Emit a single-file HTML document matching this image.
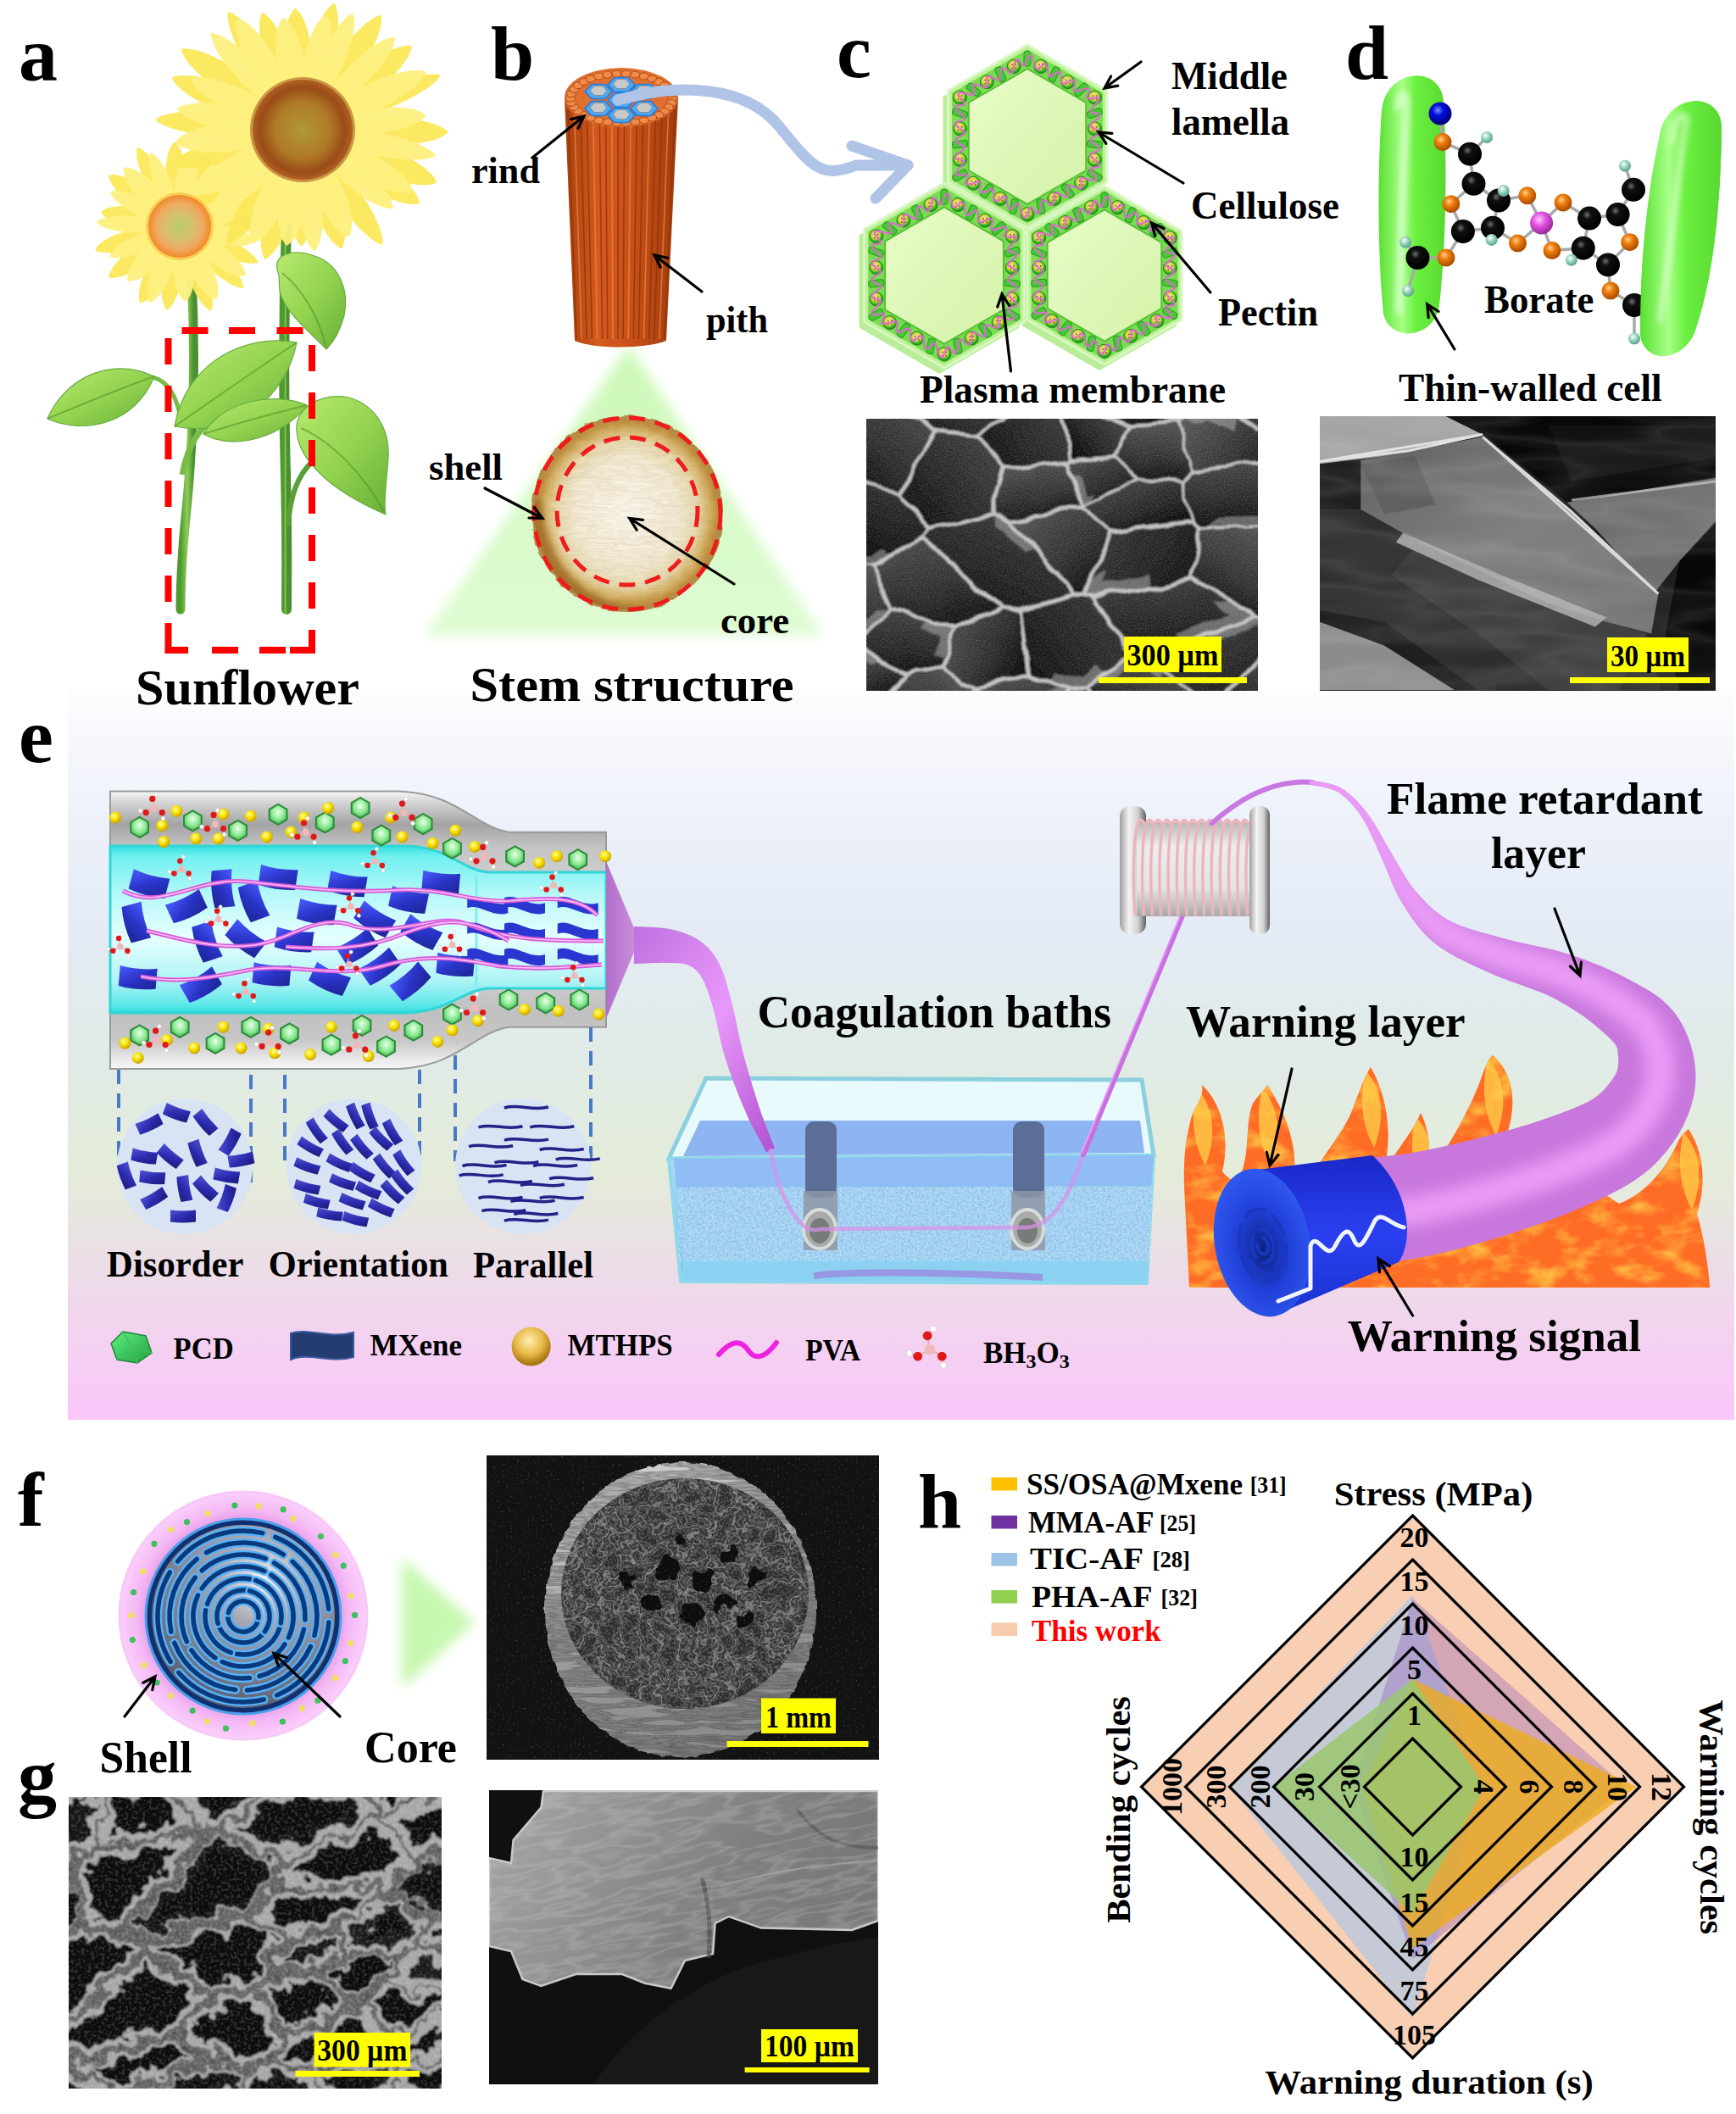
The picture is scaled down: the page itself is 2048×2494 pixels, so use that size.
<!DOCTYPE html>
<html><head><meta charset="utf-8"><title>figure</title>
<style>
html,body{margin:0;padding:0;background:#fff;}
body{width:2048px;height:2494px;overflow:hidden;font-family:"Liberation Serif", serif;}
svg{display:block;}
</style></head><body>
<svg width="2048" height="2494" viewBox="0 0 2048 2494" font-family="Liberation Serif" font-weight="bold">
<defs>
<linearGradient id="ebg" x1="0" y1="0" x2="0" y2="1">
<stop offset="0" stop-color="#fdfdfe"/>
<stop offset="0.16" stop-color="#eef2fa"/>
<stop offset="0.33" stop-color="#e4ebf5"/>
<stop offset="0.51" stop-color="#e0ebe6"/>
<stop offset="0.66" stop-color="#e4ecd9"/>
<stop offset="0.75" stop-color="#e9e2e3"/>
<stop offset="0.87" stop-color="#f2d4ee"/>
<stop offset="1" stop-color="#fbc6fb"/>
</linearGradient>
<linearGradient id="leafg" x1="0" y1="0" x2="1" y2="1"><stop offset="0" stop-color="#b8ea70"/><stop offset="0.5" stop-color="#94d450"/><stop offset="1" stop-color="#68b038"/></linearGradient>
<linearGradient id="stemg" x1="0" y1="0" x2="1" y2="0"><stop offset="0" stop-color="#4e9a30"/><stop offset="0.5" stop-color="#90cc58"/><stop offset="1" stop-color="#4a9030"/></linearGradient>
<radialGradient id="smalldisk" cx="0.5" cy="0.5" r="0.5"><stop offset="0" stop-color="#b8cc68"/><stop offset="0.45" stop-color="#d8c070"/><stop offset="0.75" stop-color="#f0a860"/><stop offset="1" stop-color="#f08a28"/></radialGradient>
<radialGradient id="bigdisk" cx="0.5" cy="0.5" r="0.5"><stop offset="0" stop-color="#b09838"/><stop offset="0.55" stop-color="#b07a28"/><stop offset="0.85" stop-color="#9a4c18"/><stop offset="1" stop-color="#b06020"/></radialGradient>
<filter id="blur6" x="-20%" y="-20%" width="140%" height="140%"><feGaussianBlur stdDeviation="7"/></filter>
<linearGradient id="trig" x1="0" y1="0" x2="0" y2="1"><stop offset="0" stop-color="#c8f8b0"/><stop offset="1" stop-color="#dcfcd0"/></linearGradient>
<linearGradient id="stemcyl" x1="0" y1="0" x2="1" y2="0"><stop offset="0" stop-color="#a8400c"/><stop offset="0.3" stop-color="#d45a1e"/><stop offset="0.6" stop-color="#c85018"/><stop offset="1" stop-color="#a03c0c"/></linearGradient>
<filter id="discrough" x="-10%" y="-10%" width="120%" height="120%"><feTurbulence type="fractalNoise" baseFrequency="0.08" numOctaves="2" seed="6" result="t"/><feDisplacementMap in="SourceGraphic" in2="t" scale="6" xChannelSelector="R" yChannelSelector="G"/></filter>
<radialGradient id="discg" cx="0.5" cy="0.5" r="0.5"><stop offset="0" stop-color="#fbf8ee"/><stop offset="0.55" stop-color="#f2ead4"/><stop offset="0.74" stop-color="#e8dab0"/><stop offset="0.84" stop-color="#d8b870"/><stop offset="0.93" stop-color="#c09040"/><stop offset="1" stop-color="#b08848"/></radialGradient>
<clipPath id="discclip"><ellipse cx="740" cy="606" rx="110" ry="113"/></clipPath>
<filter id="sf1" filterUnits="userSpaceOnUse" x="625" y="488" width="230" height="236" color-interpolation-filters="sRGB">
<feTurbulence type="fractalNoise" baseFrequency="0.02 0.12" numOctaves="3" seed="19"/>
<feColorMatrix type="matrix" values="0 0 0 0 0  0 0 0 0 0  0 0 0 0 0  1 0 0 0 0"/>
<feComponentTransfer result="m"><feFuncA type="table" tableValues="0.000 0.000 0.000 0.000 0.000 0.000 0.183 0.150 0.000 0.210 0.257 0.000 0.000 0.000 0.000 0.000 0.000"/></feComponentTransfer>
<feFlood flood-color="#b08a50"/>
<feComposite in2="m" operator="in"/>
</filter>
<linearGradient id="cellin" x1="0" y1="0" x2="1" y2="1"><stop offset="0" stop-color="#e8fcc8"/><stop offset="1" stop-color="#d4f2a8"/></linearGradient>
<radialGradient id="cylend" cx="0.45" cy="0.4" r="0.6"><stop offset="0" stop-color="#fff8a0"/><stop offset="0.55" stop-color="#d8c840"/><stop offset="0.7" stop-color="#40c030"/><stop offset="1" stop-color="#1e8a18"/></radialGradient>
<filter id="blur3" x="-50%" y="-20%" width="200%" height="140%"><feGaussianBlur stdDeviation="3"/></filter>
<linearGradient id="capg" x1="0" y1="0" x2="1" y2="0"><stop offset="0" stop-color="#58e030"/><stop offset="0.35" stop-color="#a8ff88"/><stop offset="0.55" stop-color="#6cf040"/><stop offset="1" stop-color="#58d830"/></linearGradient>
<radialGradient id="atC" cx="0.4" cy="0.35" r="0.6"><stop offset="0" stop-color="#707070"/><stop offset="0.3" stop-color="#101010"/><stop offset="1" stop-color="#000"/></radialGradient>
<radialGradient id="atO" cx="0.4" cy="0.35" r="0.6"><stop offset="0" stop-color="#ffd090"/><stop offset="0.4" stop-color="#f08010"/><stop offset="1" stop-color="#b05000"/></radialGradient>
<radialGradient id="atH" cx="0.4" cy="0.35" r="0.6"><stop offset="0" stop-color="#ffffff"/><stop offset="0.5" stop-color="#98d8c0"/><stop offset="1" stop-color="#60a890"/></radialGradient>
<radialGradient id="atB" cx="0.4" cy="0.35" r="0.6"><stop offset="0" stop-color="#ffc8ff"/><stop offset="0.5" stop-color="#e050e0"/><stop offset="1" stop-color="#a030a0"/></radialGradient>
<radialGradient id="atN" cx="0.4" cy="0.35" r="0.6"><stop offset="0" stop-color="#8090ff"/><stop offset="0.4" stop-color="#0010e0"/><stop offset="1" stop-color="#000080"/></radialGradient>
<linearGradient id="tubeg" x1="0" y1="0" x2="0" y2="1">
<stop offset="0" stop-color="#f6f6f6"/><stop offset="0.04" stop-color="#d4d4d4"/><stop offset="0.12" stop-color="#a4a4a4"/>
<stop offset="0.2" stop-color="#c4c4c4"/><stop offset="0.5" stop-color="#e0e0e0"/><stop offset="0.8" stop-color="#c0c0c0"/>
<stop offset="0.9" stop-color="#c8c8c8"/><stop offset="0.97" stop-color="#ececec"/><stop offset="1" stop-color="#f6f6f6"/></linearGradient>
<linearGradient id="cyang" x1="0" y1="0" x2="0" y2="1">
<stop offset="0" stop-color="#30dede"/><stop offset="0.06" stop-color="#6ff0f0"/><stop offset="0.3" stop-color="#b8f8f8"/>
<stop offset="0.55" stop-color="#e6ffff"/><stop offset="0.8" stop-color="#b0f4f6"/><stop offset="0.95" stop-color="#60e8ea"/><stop offset="1" stop-color="#30dcdc"/></linearGradient>
<linearGradient id="coneg" x1="0" y1="0" x2="1" y2="0"><stop offset="0" stop-color="#b070c8"/><stop offset="1" stop-color="#d090e0"/></linearGradient>
<radialGradient id="ballg" cx="0.4" cy="0.35" r="0.65"><stop offset="0" stop-color="#ffffa0"/><stop offset="0.5" stop-color="#f8e000"/><stop offset="1" stop-color="#c8a000"/></radialGradient>
<radialGradient id="hexg" cx="0.5" cy="0.4" r="0.6"><stop offset="0" stop-color="#e8ffe8"/><stop offset="0.6" stop-color="#88e890"/><stop offset="1" stop-color="#40b050"/></radialGradient>
<linearGradient id="flakeg" x1="0" y1="0" x2="1" y2="1"><stop offset="0" stop-color="#4a5cff"/><stop offset="0.5" stop-color="#2a34c8"/><stop offset="1" stop-color="#1c2490"/></linearGradient>
<linearGradient id="flakeg2" x1="0" y1="0" x2="1" y2="1"><stop offset="0" stop-color="#5050d0"/><stop offset="0.5" stop-color="#2c2cb0"/><stop offset="1" stop-color="#1a1a78"/></linearGradient>
<linearGradient id="fibg1" x1="0" y1="0" x2="1" y2="1"><stop offset="0" stop-color="#c070e0"/><stop offset="0.5" stop-color="#e898fa"/><stop offset="1" stop-color="#b050d0"/></linearGradient>
<linearGradient id="pcdg" x1="0" y1="0" x2="1" y2="1"><stop offset="0" stop-color="#60f080"/><stop offset="1" stop-color="#20a040"/></linearGradient>
<radialGradient id="mthg" cx="0.45" cy="0.35" r="0.6"><stop offset="0" stop-color="#fff0b0"/><stop offset="0.6" stop-color="#e8b848"/><stop offset="1" stop-color="#a87810"/></radialGradient>
<linearGradient id="bathg" x1="0" y1="0" x2="0" y2="1"><stop offset="0" stop-color="#a8dcf4"/><stop offset="1" stop-color="#78c0ec"/></linearGradient>
<filter id="sf2" filterUnits="userSpaceOnUse" x="800" y="1400" width="560" height="88" color-interpolation-filters="sRGB">
<feTurbulence type="fractalNoise" baseFrequency="0.45" numOctaves="1" seed="61"/>
<feColorMatrix type="matrix" values="0 0 0 0 0  0 0 0 0 0  0 0 0 0 0  1 0 0 0 0"/>
<feComponentTransfer result="m"><feFuncA type="table" tableValues="0.000 0.000 0.000 0.000 0.280 0.630 0.420 0.000 0.000"/></feComponentTransfer>
<feFlood flood-color="#ffffff"/>
<feComposite in2="m" operator="in"/>
</filter>
<filter id="sf3" filterUnits="userSpaceOnUse" x="800" y="1400" width="560" height="88" color-interpolation-filters="sRGB">
<feTurbulence type="fractalNoise" baseFrequency="0.3" numOctaves="1" seed="62"/>
<feColorMatrix type="matrix" values="0 0 0 0 0  0 0 0 0 0  0 0 0 0 0  1 0 0 0 0"/>
<feComponentTransfer result="m"><feFuncA type="table" tableValues="0.000 0.000 0.293 0.240 0.000 0.000 0.000 0.000 0.000"/></feComponentTransfer>
<feFlood flood-color="#6a80d0"/>
<feComposite in2="m" operator="in"/>
</filter>
<linearGradient id="flangeg" x1="0" y1="0" x2="1" y2="0"><stop offset="0" stop-color="#a0a0a0"/><stop offset="0.35" stop-color="#f4f4f4"/><stop offset="0.7" stop-color="#d0d0d0"/><stop offset="1" stop-color="#606060"/></linearGradient>
<linearGradient id="coreg" x1="0" y1="0" x2="0" y2="1"><stop offset="0" stop-color="#b8b8b8"/><stop offset="0.25" stop-color="#ececec"/><stop offset="0.7" stop-color="#e4e4e4"/><stop offset="1" stop-color="#a8a8a8"/></linearGradient>
<clipPath id="flameclip"><path d="M1403,1519 L1397,1400 C1396,1360 1400,1340 1405,1320 C1412,1300 1420,1295 1418,1280 C1440,1300 1452,1340 1442,1382 C1450,1392 1458,1395 1462,1390 C1476,1360 1468,1325 1478,1302 C1486,1290 1492,1286 1495,1280 C1515,1310 1532,1350 1526,1390 C1532,1398 1538,1400 1545,1395 C1560,1360 1588,1335 1598,1302 C1606,1282 1610,1270 1617,1259 C1636,1292 1644,1340 1632,1382 C1652,1352 1668,1332 1676,1313 C1686,1332 1690,1362 1682,1388 C1712,1352 1736,1302 1746,1276 C1752,1258 1756,1250 1761,1245 C1792,1272 1792,1322 1762,1372 L1810,1395 C1850,1380 1880,1400 1910,1420 C1950,1405 1972,1365 1980,1346 C1985,1338 1988,1335 1992,1332 C2012,1362 2012,1400 2002,1432 C2010,1460 2015,1490 2017,1519 Z"/></clipPath>
<filter id="flamef" filterUnits="userSpaceOnUse" x="1390" y="1240" width="640" height="285" color-interpolation-filters="sRGB">
<feTurbulence type="fractalNoise" baseFrequency="0.025 0.045" numOctaves="4" seed="9"/>
<feColorMatrix type="matrix" values="0 0 0 0 1  0 0 0 0 0.72  0 0 0 0 0.25  3.0 0 0 0 -1.4"/>
</filter>
<linearGradient id="bigfg" x1="0" y1="0" x2="1" y2="1"><stop offset="0" stop-color="#c070d8"/><stop offset="0.5" stop-color="#e898f4"/><stop offset="1" stop-color="#b868d0"/></linearGradient>
<clipPath id="bigfclip"><path d="M1544.5,925.5 L1547.3,926.0 L1551.0,926.7 L1555.4,927.4 L1560.1,928.3 L1565.1,929.4 L1569.9,930.8 L1574.5,932.5 L1578.5,934.6 L1582.2,937.1 L1585.9,940.1 L1589.6,943.3 L1593.2,946.9 L1596.7,950.8 L1600.1,955.1 L1603.5,959.6 L1606.7,964.3 L1609.9,969.4 L1612.9,975.0 L1615.8,980.9 L1618.7,987.2 L1621.6,993.6 L1624.5,1000.1 L1627.4,1006.7 L1630.2,1013.0 L1633.0,1019.2 L1635.6,1025.4 L1638.1,1031.7 L1640.7,1038.1 L1643.4,1044.6 L1646.4,1051.1 L1649.8,1057.7 L1653.4,1064.1 L1657.3,1070.3 L1661.2,1076.5 L1665.3,1082.7 L1669.8,1089.0 L1674.8,1095.3 L1680.2,1101.5 L1686.3,1107.5 L1693.1,1113.3 L1700.6,1118.7 L1708.5,1123.8 L1716.7,1128.4 L1725.2,1132.8 L1733.7,1136.9 L1742.3,1140.9 L1750.9,1144.8 L1759.6,1148.7 L1769.0,1152.7 L1778.8,1156.5 L1788.7,1160.0 L1798.4,1163.5 L1807.8,1166.9 L1816.8,1170.3 L1825.1,1173.8 L1832.7,1177.5 L1840.1,1181.5 L1847.6,1185.8 L1854.8,1190.2 L1861.8,1194.7 L1868.5,1199.3 L1874.7,1203.9 L1880.5,1208.5 L1886.0,1213.2 L1891.5,1218.0 L1896.6,1222.6 L1900.9,1226.8 L1904.2,1230.5 L1906.5,1233.8 L1907.8,1236.4 L1908.3,1238.5 L1908.4,1240.5 L1908.7,1243.5 L1909.1,1247.4 L1909.3,1251.6 L1909.1,1255.9 L1908.6,1259.9 L1907.8,1263.3 L1906.7,1266.0 L1905.5,1268.0 L1904.0,1270.4 L1901.8,1273.7 L1899.1,1277.5 L1896.0,1281.5 L1892.4,1285.5 L1888.5,1289.3 L1884.5,1292.8 L1880.7,1295.6 L1876.8,1298.0 L1872.1,1300.5 L1866.2,1303.3 L1859.3,1306.3 L1851.4,1309.4 L1842.7,1312.7 L1833.3,1316.2 L1823.9,1319.6 L1814.8,1322.8 L1805.5,1325.8 L1795.6,1328.7 L1785.4,1331.7 L1774.9,1334.6 L1764.4,1337.4 L1753.8,1340.2 L1743.5,1342.8 L1733.5,1345.4 L1723.5,1347.8 L1713.4,1350.2 L1703.5,1352.4 L1693.8,1354.5 L1684.5,1356.5 L1675.7,1358.2 L1667.7,1359.7 L1660.6,1360.9 L1653.5,1361.9 L1646.5,1362.8 L1639.6,1363.6 L1633.0,1364.3 L1627.0,1364.9 L1621.4,1365.5 L1616.9,1366.0 L1633.1,1490.0 L1636.8,1489.4 L1641.6,1488.8 L1648.0,1487.9 L1655.4,1486.9 L1663.8,1485.6 L1672.9,1484.1 L1682.5,1482.3 L1692.3,1480.3 L1701.9,1478.0 L1711.8,1475.6 L1722.1,1472.9 L1732.7,1470.1 L1743.6,1467.1 L1754.6,1463.9 L1765.7,1460.6 L1776.5,1457.2 L1787.2,1453.7 L1798.1,1450.1 L1809.4,1446.3 L1820.9,1442.3 L1832.4,1438.1 L1843.9,1433.7 L1855.3,1429.1 L1866.1,1424.4 L1876.1,1419.9 L1886.0,1415.4 L1896.2,1410.5 L1906.7,1405.2 L1917.4,1399.4 L1928.2,1392.7 L1939.0,1385.1 L1949.3,1376.4 L1958.5,1367.1 L1966.7,1357.6 L1974.1,1347.6 L1980.7,1337.3 L1986.5,1326.6 L1991.4,1315.5 L1995.4,1304.1 L1998.5,1292.0 L2000.2,1279.4 L2000.5,1266.9 L1999.5,1255.1 L1997.5,1243.8 L1994.7,1233.0 L1991.1,1222.8 L1986.8,1213.0 L1981.6,1203.5 L1975.2,1194.2 L1967.9,1185.9 L1960.3,1179.1 L1952.7,1173.4 L1945.2,1168.5 L1938.0,1164.4 L1931.0,1160.6 L1924.0,1156.8 L1916.3,1152.7 L1908.0,1148.6 L1899.5,1144.5 L1890.7,1140.6 L1881.6,1136.9 L1872.4,1133.3 L1863.0,1129.8 L1853.3,1126.5 L1843.1,1123.4 L1832.7,1120.6 L1822.2,1118.2 L1812.0,1115.9 L1801.9,1113.8 L1792.3,1111.7 L1783.1,1109.6 L1774.4,1107.3 L1765.4,1104.8 L1756.4,1102.3 L1747.7,1099.9 L1739.3,1097.5 L1731.4,1095.0 L1724.0,1092.4 L1717.1,1089.6 L1710.9,1086.7 L1705.1,1083.4 L1699.6,1079.8 L1694.3,1075.8 L1689.3,1071.5 L1684.4,1066.9 L1679.7,1062.0 L1675.1,1057.0 L1670.6,1051.9 L1666.4,1046.9 L1662.6,1041.7 L1659.0,1036.3 L1655.6,1030.7 L1652.2,1024.8 L1648.8,1018.9 L1645.3,1012.9 L1641.8,1007.0 L1638.2,1001.1 L1634.7,995.0 L1631.2,988.8 L1627.8,982.6 L1624.2,976.4 L1620.7,970.5 L1617.0,964.9 L1613.3,959.7 L1609.5,954.9 L1605.7,950.4 L1601.9,946.2 L1598.0,942.2 L1594.0,938.5 L1589.9,935.1 L1585.8,932.1 L1581.5,929.4 L1576.8,927.1 L1571.6,925.4 L1566.3,924.0 L1561.1,923.0 L1556.2,922.2 L1551.8,921.6 L1548.2,921.1 L1545.5,920.5 Z"/></clipPath>
<filter id="blur8" x="-20%" y="-20%" width="140%" height="140%"><feGaussianBlur stdDeviation="9"/></filter>
<linearGradient id="cylg" x1="0" y1="0" x2="0" y2="1"><stop offset="0" stop-color="#1a28c8"/><stop offset="0.5" stop-color="#2a40f0"/><stop offset="1" stop-color="#1a30d0"/></linearGradient>
<radialGradient id="cylface" cx="0.5" cy="0.55" r="0.55"><stop offset="0" stop-color="#102080"/><stop offset="0.5" stop-color="#2040d8"/><stop offset="1" stop-color="#3058f0"/></radialGradient>
<radialGradient id="shellg" cx="0.5" cy="0.5" r="0.5"><stop offset="0.78" stop-color="#e8a0e8"/><stop offset="0.86" stop-color="#f4b8f4"/><stop offset="1" stop-color="#fcd0fc"/></radialGradient>
<radialGradient id="coreg2" cx="0.55" cy="0.4" r="0.6"><stop offset="0" stop-color="#e0e0e8"/><stop offset="0.5" stop-color="#a0a0b0"/><stop offset="1" stop-color="#404858"/></radialGradient>
<radialGradient id="silverg" cx="0.6" cy="0.3" r="0.7"><stop offset="0" stop-color="#f0f0f4"/><stop offset="0.35" stop-color="#a8a8b4"/><stop offset="1" stop-color="#5a6070"/></radialGradient>
<clipPath id="semc"><rect x="1022" y="494" width="462" height="321"/></clipPath>
<filter id="dispc" filterUnits="userSpaceOnUse" x="1000" y="470" width="510" height="370">
<feTurbulence type="fractalNoise" baseFrequency="0.025" numOctaves="2" seed="4" result="t"/>
<feDisplacementMap in="SourceGraphic" in2="t" scale="16" xChannelSelector="R" yChannelSelector="G"/><feGaussianBlur stdDeviation="0.9"/></filter>
<filter id="soft1" x="-5%" y="-5%" width="110%" height="110%"><feGaussianBlur stdDeviation="1.5"/></filter>
<linearGradient id="cg0" x1="0.20" y1="0.10" x2="0.80" y2="0.90"><stop offset="0" stop-color="rgb(58,58,58)"/><stop offset="0.6" stop-color="rgb(35,35,35)"/><stop offset="1" stop-color="rgb(12,12,12)"/></linearGradient>
<linearGradient id="cg1" x1="0.34" y1="0.03" x2="0.66" y2="0.97"><stop offset="0" stop-color="rgb(80,80,80)"/><stop offset="0.6" stop-color="rgb(46,46,46)"/><stop offset="1" stop-color="rgb(13,13,13)"/></linearGradient>
<linearGradient id="cg2" x1="0.65" y1="0.02" x2="0.35" y2="0.98"><stop offset="0" stop-color="rgb(50,50,50)"/><stop offset="0.6" stop-color="rgb(27,27,27)"/><stop offset="1" stop-color="rgb(5,5,5)"/></linearGradient>
<linearGradient id="cg3" x1="0.92" y1="0.23" x2="0.08" y2="0.77"><stop offset="0" stop-color="rgb(66,66,66)"/><stop offset="0.6" stop-color="rgb(38,38,38)"/><stop offset="1" stop-color="rgb(11,11,11)"/></linearGradient>
<linearGradient id="cg4" x1="0.56" y1="0.00" x2="0.44" y2="1.00"><stop offset="0" stop-color="rgb(80,80,80)"/><stop offset="0.6" stop-color="rgb(43,43,43)"/><stop offset="1" stop-color="rgb(7,7,7)"/></linearGradient>
<linearGradient id="cg5" x1="0.55" y1="0.00" x2="0.45" y2="1.00"><stop offset="0" stop-color="rgb(80,80,80)"/><stop offset="0.6" stop-color="rgb(46,46,46)"/><stop offset="1" stop-color="rgb(12,12,12)"/></linearGradient>
<linearGradient id="cg6" x1="0.38" y1="0.02" x2="0.62" y2="0.98"><stop offset="0" stop-color="rgb(64,64,64)"/><stop offset="0.6" stop-color="rgb(35,35,35)"/><stop offset="1" stop-color="rgb(6,6,6)"/></linearGradient>
<linearGradient id="cg7" x1="0.66" y1="0.03" x2="0.34" y2="0.97"><stop offset="0" stop-color="rgb(74,74,74)"/><stop offset="0.6" stop-color="rgb(43,43,43)"/><stop offset="1" stop-color="rgb(12,12,12)"/></linearGradient>
<linearGradient id="cg8" x1="0.78" y1="0.08" x2="0.22" y2="0.92"><stop offset="0" stop-color="rgb(54,54,54)"/><stop offset="0.6" stop-color="rgb(34,34,34)"/><stop offset="1" stop-color="rgb(14,14,14)"/></linearGradient>
<linearGradient id="cg9" x1="0.13" y1="0.16" x2="0.87" y2="0.84"><stop offset="0" stop-color="rgb(52,52,52)"/><stop offset="0.6" stop-color="rgb(32,32,32)"/><stop offset="1" stop-color="rgb(13,13,13)"/></linearGradient>
<linearGradient id="cg10" x1="0.27" y1="0.06" x2="0.73" y2="0.94"><stop offset="0" stop-color="rgb(67,67,67)"/><stop offset="0.6" stop-color="rgb(35,35,35)"/><stop offset="1" stop-color="rgb(4,4,4)"/></linearGradient>
<linearGradient id="cg11" x1="0.47" y1="0.00" x2="0.53" y2="1.00"><stop offset="0" stop-color="rgb(74,74,74)"/><stop offset="0.6" stop-color="rgb(44,44,44)"/><stop offset="1" stop-color="rgb(15,15,15)"/></linearGradient>
<linearGradient id="cg12" x1="0.75" y1="0.07" x2="0.25" y2="0.93"><stop offset="0" stop-color="rgb(75,75,75)"/><stop offset="0.6" stop-color="rgb(42,42,42)"/><stop offset="1" stop-color="rgb(10,10,10)"/></linearGradient>
<linearGradient id="cg13" x1="0.76" y1="0.08" x2="0.24" y2="0.92"><stop offset="0" stop-color="rgb(78,78,78)"/><stop offset="0.6" stop-color="rgb(45,45,45)"/><stop offset="1" stop-color="rgb(13,13,13)"/></linearGradient>
<linearGradient id="cg14" x1="0.95" y1="0.29" x2="0.05" y2="0.71"><stop offset="0" stop-color="rgb(73,73,73)"/><stop offset="0.6" stop-color="rgb(39,39,39)"/><stop offset="1" stop-color="rgb(6,6,6)"/></linearGradient>
<linearGradient id="cg15" x1="0.08" y1="0.22" x2="0.92" y2="0.78"><stop offset="0" stop-color="rgb(81,81,81)"/><stop offset="0.6" stop-color="rgb(43,43,43)"/><stop offset="1" stop-color="rgb(6,6,6)"/></linearGradient>
<linearGradient id="cg16" x1="0.18" y1="0.11" x2="0.82" y2="0.89"><stop offset="0" stop-color="rgb(77,77,77)"/><stop offset="0.6" stop-color="rgb(45,45,45)"/><stop offset="1" stop-color="rgb(14,14,14)"/></linearGradient>
<linearGradient id="cg17" x1="0.82" y1="0.11" x2="0.18" y2="0.89"><stop offset="0" stop-color="rgb(76,76,76)"/><stop offset="0.6" stop-color="rgb(42,42,42)"/><stop offset="1" stop-color="rgb(8,8,8)"/></linearGradient>
<linearGradient id="cg18" x1="0.51" y1="0.00" x2="0.49" y2="1.00"><stop offset="0" stop-color="rgb(72,72,72)"/><stop offset="0.6" stop-color="rgb(41,41,41)"/><stop offset="1" stop-color="rgb(10,10,10)"/></linearGradient>
<linearGradient id="cg19" x1="0.54" y1="0.00" x2="0.46" y2="1.00"><stop offset="0" stop-color="rgb(64,64,64)"/><stop offset="0.6" stop-color="rgb(37,37,37)"/><stop offset="1" stop-color="rgb(10,10,10)"/></linearGradient>
<linearGradient id="cg20" x1="0.92" y1="0.22" x2="0.08" y2="0.78"><stop offset="0" stop-color="rgb(51,51,51)"/><stop offset="0.6" stop-color="rgb(32,32,32)"/><stop offset="1" stop-color="rgb(14,14,14)"/></linearGradient>
<linearGradient id="cg21" x1="0.88" y1="0.18" x2="0.12" y2="0.82"><stop offset="0" stop-color="rgb(60,60,60)"/><stop offset="0.6" stop-color="rgb(36,36,36)"/><stop offset="1" stop-color="rgb(13,13,13)"/></linearGradient>
<linearGradient id="cg22" x1="0.73" y1="0.06" x2="0.27" y2="0.94"><stop offset="0" stop-color="rgb(84,84,84)"/><stop offset="0.6" stop-color="rgb(46,46,46)"/><stop offset="1" stop-color="rgb(9,9,9)"/></linearGradient>
<linearGradient id="cg23" x1="0.92" y1="0.23" x2="0.08" y2="0.77"><stop offset="0" stop-color="rgb(56,56,56)"/><stop offset="0.6" stop-color="rgb(34,34,34)"/><stop offset="1" stop-color="rgb(13,13,13)"/></linearGradient>
<linearGradient id="cg24" x1="0.75" y1="0.07" x2="0.25" y2="0.93"><stop offset="0" stop-color="rgb(67,67,67)"/><stop offset="0.6" stop-color="rgb(37,37,37)"/><stop offset="1" stop-color="rgb(7,7,7)"/></linearGradient>
<linearGradient id="cg25" x1="0.25" y1="0.07" x2="0.75" y2="0.93"><stop offset="0" stop-color="rgb(80,80,80)"/><stop offset="0.6" stop-color="rgb(42,42,42)"/><stop offset="1" stop-color="rgb(5,5,5)"/></linearGradient>
<linearGradient id="cg26" x1="0.88" y1="0.18" x2="0.12" y2="0.82"><stop offset="0" stop-color="rgb(55,55,55)"/><stop offset="0.6" stop-color="rgb(33,33,33)"/><stop offset="1" stop-color="rgb(11,11,11)"/></linearGradient>
<linearGradient id="cg27" x1="0.31" y1="0.04" x2="0.69" y2="0.96"><stop offset="0" stop-color="rgb(76,76,76)"/><stop offset="0.6" stop-color="rgb(40,40,40)"/><stop offset="1" stop-color="rgb(5,5,5)"/></linearGradient>
<linearGradient id="cg28" x1="0.91" y1="0.22" x2="0.09" y2="0.78"><stop offset="0" stop-color="rgb(68,68,68)"/><stop offset="0.6" stop-color="rgb(36,36,36)"/><stop offset="1" stop-color="rgb(4,4,4)"/></linearGradient>
<linearGradient id="cg29" x1="0.41" y1="0.01" x2="0.59" y2="0.99"><stop offset="0" stop-color="rgb(57,57,57)"/><stop offset="0.6" stop-color="rgb(33,33,33)"/><stop offset="1" stop-color="rgb(10,10,10)"/></linearGradient>
<linearGradient id="cg30" x1="0.05" y1="0.28" x2="0.95" y2="0.72"><stop offset="0" stop-color="rgb(52,52,52)"/><stop offset="0.6" stop-color="rgb(32,32,32)"/><stop offset="1" stop-color="rgb(13,13,13)"/></linearGradient>
<linearGradient id="cg31" x1="0.35" y1="0.02" x2="0.65" y2="0.98"><stop offset="0" stop-color="rgb(71,71,71)"/><stop offset="0.6" stop-color="rgb(42,42,42)"/><stop offset="1" stop-color="rgb(13,13,13)"/></linearGradient>
<linearGradient id="cg32" x1="0.56" y1="0.00" x2="0.44" y2="1.00"><stop offset="0" stop-color="rgb(82,82,82)"/><stop offset="0.6" stop-color="rgb(45,45,45)"/><stop offset="1" stop-color="rgb(8,8,8)"/></linearGradient>
<linearGradient id="cg33" x1="0.20" y1="0.10" x2="0.80" y2="0.90"><stop offset="0" stop-color="rgb(69,69,69)"/><stop offset="0.6" stop-color="rgb(36,36,36)"/><stop offset="1" stop-color="rgb(4,4,4)"/></linearGradient>
<linearGradient id="cg34" x1="0.03" y1="0.32" x2="0.97" y2="0.68"><stop offset="0" stop-color="rgb(84,84,84)"/><stop offset="0.6" stop-color="rgb(44,44,44)"/><stop offset="1" stop-color="rgb(5,5,5)"/></linearGradient>
<linearGradient id="cg35" x1="0.04" y1="0.29" x2="0.96" y2="0.71"><stop offset="0" stop-color="rgb(76,76,76)"/><stop offset="0.6" stop-color="rgb(41,41,41)"/><stop offset="1" stop-color="rgb(7,7,7)"/></linearGradient>
<filter id="sf4" filterUnits="userSpaceOnUse" x="1022" y="494" width="462" height="321" color-interpolation-filters="sRGB">
<feTurbulence type="fractalNoise" baseFrequency="0.7" numOctaves="1" seed="5"/>
<feColorMatrix type="matrix" values="0 0 0 0 0  0 0 0 0 0  0 0 0 0 0  1 0 0 0 0"/>
<feComponentTransfer result="m"><feFuncA type="table" tableValues="0.000 0.000 0.000 0.000 0.047 0.111 0.145 0.081 0.000"/></feComponentTransfer>
<feFlood flood-color="#ffffff"/>
<feComposite in2="m" operator="in"/>
</filter>
<clipPath id="semd"><rect x="1557" y="491" width="467" height="324"/></clipPath>
<linearGradient id="plateg" x1="0" y1="0" x2="1" y2="1"><stop offset="0" stop-color="#606060"/><stop offset="0.5" stop-color="#808080"/><stop offset="1" stop-color="#727272"/></linearGradient>
<filter id="sf5" filterUnits="userSpaceOnUse" x="1557" y="491" width="467" height="324" color-interpolation-filters="sRGB">
<feTurbulence type="fractalNoise" baseFrequency="0.004 0.02" numOctaves="3" seed="21"/>
<feColorMatrix type="matrix" values="0 0 0 0 0  0 0 0 0 0  0 0 0 0 0  1 0 0 0 0"/>
<feComponentTransfer result="m"><feFuncA type="table" tableValues="0.000 0.000 0.000 0.000 0.000 0.000 0.020 0.060 0.100 0.060 0.044 0.036 0.000 0.000 0.000 0.000 0.000"/></feComponentTransfer>
<feFlood flood-color="#ffffff"/>
<feComposite in2="m" operator="in"/>
</filter>
<clipPath id="semf"><rect x="574" y="1717" width="463" height="359"/></clipPath>
<linearGradient id="fsideg" x1="0.2" y1="0" x2="0.6" y2="1"><stop offset="0" stop-color="#d8d8d8"/><stop offset="0.5" stop-color="#9c9c9c"/><stop offset="1" stop-color="#888"/></linearGradient>
<clipPath id="fout"><ellipse cx="803" cy="1899" rx="160" ry="174"/></clipPath>
<clipPath id="ftop"><ellipse cx="808" cy="1880" rx="146" ry="136"/></clipPath>
<filter id="sf6" filterUnits="userSpaceOnUse" x="630" y="1720" width="340" height="360" color-interpolation-filters="sRGB">
<feTurbulence type="fractalNoise" baseFrequency="0.01 0.08" numOctaves="3" seed="35"/>
<feColorMatrix type="matrix" values="0 0 0 0 0  0 0 0 0 0  0 0 0 0 0  1 0 0 0 0"/>
<feComponentTransfer result="m"><feFuncA type="table" tableValues="0.000 0.000 0.000 0.000 0.000 0.000 0.473 0.193 0.500 0.193 0.473 0.000 0.000 0.000 0.000 0.000 0.000"/></feComponentTransfer>
<feFlood flood-color="#404040"/>
<feComposite in2="m" operator="in"/>
</filter>
<filter id="sf7" filterUnits="userSpaceOnUse" x="655" y="1740" width="310" height="285" color-interpolation-filters="sRGB">
<feTurbulence type="fractalNoise" baseFrequency="0.045" numOctaves="3" seed="31"/>
<feColorMatrix type="matrix" values="0 0 0 0 0  0 0 0 0 0  0 0 0 0 0  1 0 0 0 0"/>
<feComponentTransfer result="m"><feFuncA type="table" tableValues="0.000 0.000 0.000 0.000 0.000 0.000 0.000 0.000 0.000 0.000 0.000 0.000 0.313 0.154 0.000 0.200 0.600 0.200 0.000 0.176 0.357 0.000 0.000 0.000 0.000 0.000 0.000 0.000 0.000 0.000 0.000 0.000 0.000"/></feComponentTransfer>
<feFlood flood-color="#b8b8b8"/>
<feComposite in2="m" operator="in"/>
</filter>
<filter id="sf8" filterUnits="userSpaceOnUse" x="655" y="1740" width="310" height="285" color-interpolation-filters="sRGB">
<feTurbulence type="fractalNoise" baseFrequency="0.35" numOctaves="2" seed="37"/>
<feColorMatrix type="matrix" values="0 0 0 0 0  0 0 0 0 0  0 0 0 0 0  1 0 0 0 0"/>
<feComponentTransfer result="m"><feFuncA type="table" tableValues="0.000 0.000 0.000 0.000 0.000 0.330 0.403 0.000 0.000"/></feComponentTransfer>
<feFlood flood-color="#d0d0d0"/>
<feComposite in2="m" operator="in"/>
</filter>
<filter id="dispf" filterUnits="userSpaceOnUse" x="700" y="1780" width="250" height="200">
<feTurbulence type="fractalNoise" baseFrequency="0.06" numOctaves="2" seed="3" result="t"/>
<feDisplacementMap in="SourceGraphic" in2="t" scale="22" xChannelSelector="R" yChannelSelector="G"/></filter>
<filter id="sf9" filterUnits="userSpaceOnUse" x="574" y="1717" width="463" height="359" color-interpolation-filters="sRGB">
<feTurbulence type="fractalNoise" baseFrequency="0.4" numOctaves="1" seed="33"/>
<feColorMatrix type="matrix" values="0 0 0 0 0  0 0 0 0 0  0 0 0 0 0  1 0 0 0 0"/>
<feComponentTransfer result="m"><feFuncA type="table" tableValues="0.000 0.000 0.000 0.000 0.000 0.000 0.257 0.210 0.000"/></feComponentTransfer>
<feFlood flood-color="#ffffff"/>
<feComposite in2="m" operator="in"/>
</filter>
<clipPath id="semgl"><rect x="81" y="2120" width="440" height="344"/></clipPath>
<filter id="sf10" filterUnits="userSpaceOnUse" x="81" y="2120" width="440" height="344" color-interpolation-filters="sRGB">
<feTurbulence type="fractalNoise" baseFrequency="0.08" numOctaves="3" seed="43"/>
<feColorMatrix type="matrix" values="1 0 0 0 0  1 0 0 0 0  1 0 0 0 0  0 0 0 0 1"/>
<feComponentTransfer><feFuncR type="table" tableValues="0.268 0.303 0.338 0.374 0.409 0.444 0.479 0.515 0.550 0.515 0.479 0.444 0.409 0.374 0.338 0.303 0.268"/><feFuncG type="table" tableValues="0.268 0.303 0.338 0.374 0.409 0.444 0.479 0.515 0.550 0.515 0.479 0.444 0.409 0.374 0.338 0.303 0.268"/><feFuncB type="table" tableValues="0.268 0.303 0.338 0.374 0.409 0.444 0.479 0.515 0.550 0.515 0.479 0.444 0.409 0.374 0.338 0.303 0.268"/></feComponentTransfer>
</filter>
<filter id="dispg" filterUnits="userSpaceOnUse" x="60" y="2100" width="480" height="385">
<feTurbulence type="fractalNoise" baseFrequency="0.04" numOctaves="3" seed="8" result="t"/>
<feDisplacementMap in="SourceGraphic" in2="t" scale="40" xChannelSelector="R" yChannelSelector="G"/><feGaussianBlur stdDeviation="0.8"/></filter>
<filter id="sf11" filterUnits="userSpaceOnUse" x="81" y="2120" width="440" height="344" color-interpolation-filters="sRGB">
<feTurbulence type="fractalNoise" baseFrequency="0.25" numOctaves="2" seed="44"/>
<feColorMatrix type="matrix" values="0 0 0 0 0  0 0 0 0 0  0 0 0 0 0  1 0 0 0 0"/>
<feComponentTransfer result="m"><feFuncA type="table" tableValues="0.000 0.000 0.000 0.000 0.000 0.350 0.400 0.150 0.000"/></feComponentTransfer>
<feFlood flood-color="#ffffff"/>
<feComposite in2="m" operator="in"/>
</filter>
<clipPath id="semgr"><rect x="577" y="2112" width="459" height="347"/></clipPath>
<clipPath id="sheet"><path d="M641,2113 L1036,2113 L1036,2266 L1005,2277 L898,2274.6 L860,2261 L843.6,2269 L841,2305 L808,2313 L791.6,2345.8 L761.5,2340 L734,2329 L679.4,2329 L638.4,2343 L616.5,2335 L603,2302 L577,2296 L577,2192 L603,2198 L605.6,2170.7 L638.4,2132.4 Z"/></clipPath>
<linearGradient id="sheetg" x1="0" y1="0" x2="1" y2="0.3"><stop offset="0" stop-color="#a8a8a8"/><stop offset="0.45" stop-color="#8c8c8c"/><stop offset="0.7" stop-color="#7e7e7e"/><stop offset="1" stop-color="#787878"/></linearGradient>
<filter id="wrink" filterUnits="userSpaceOnUse" x="560" y="2060" width="500" height="320" color-interpolation-filters="sRGB">
<feTurbulence type="fractalNoise" baseFrequency="0.012 0.06" numOctaves="3" seed="17"/>
<feColorMatrix type="matrix" values="0 0 0 0 1  0 0 0 0 1  0 0 0 0 1  0 0 0 0 0" result="w"/>
<feTurbulence type="fractalNoise" baseFrequency="0.012 0.06" numOctaves="3" seed="17" result="n"/>
<feColorMatrix in="n" type="matrix" values="0 0 0 0 0  0 0 0 0 0  0 0 0 0 0  1 0 0 0 0"/>
<feComponentTransfer result="m"><feFuncA type="table" tableValues="0 0 0 0 0 0 0 0.2 0.55 0.2 0 0.1 0.4 0.1 0 0 0"/></feComponentTransfer>
<feFlood flood-color="#e0e0e0"/><feComposite in2="m" operator="in"/><feGaussianBlur stdDeviation="0.6"/>
</filter>
</defs>
<rect x="80" y="813" width="1966" height="862" fill="url(#ebg)"/>
<text x="22" y="95" font-size="92" text-anchor="start" fill="#000" >a</text>
<text x="579" y="94" font-size="92" text-anchor="start" fill="#000" >b</text>
<text x="987" y="91" font-size="92" text-anchor="start" fill="#000" >c</text>
<text x="1587" y="93" font-size="92" text-anchor="start" fill="#000" >d</text>
<text x="22" y="899" font-size="92" text-anchor="start" fill="#000" >e</text>
<text x="21" y="1800" font-size="92" text-anchor="start" fill="#000" >f</text>
<text x="21" y="2127" font-size="92" text-anchor="start" fill="#000" >g</text>
<text x="1083" y="1802" font-size="92" text-anchor="start" fill="#000" >h</text>
<path d="M226,326 C231,420 228,520 220,600 C214,660 213,700 213,719" stroke="url(#stemg)" stroke-width="11" fill="none" stroke-linecap="round"/>
<path d="M338,262 C335,350 334,450 337,560 C339,640 338,690 338,719" stroke="url(#stemg)" stroke-width="12" fill="none" stroke-linecap="round"/>
<path d="M215,560 C222,520 240,500 262,485" stroke="#78bc48" stroke-width="7" fill="none"/>
<path d="M340,620 C342,585 352,560 368,545" stroke="#5a9e38" stroke-width="6" fill="none"/>
<path d="M180,445 C200,450 210,470 214,500" stroke="#78bc48" stroke-width="5" fill="none"/>
<path d="M182.0,444.0 C128.2,418.7 74.6,449.0 56.0,494.0 C100.4,514.0 160.2,499.3 182.0,444.0 Z" fill="url(#leafg)" stroke="#6aac40" stroke-width="1.2"/>
<path d="M182.0,444.0 Q128.3,463.5 56.0,494.0" stroke="#4e8e28" stroke-width="2" fill="none" opacity="0.55"/>
<path d="M206.0,503.0 C280.1,518.3 338.9,465.0 350.0,404.0 C289.1,392.5 218.3,428.3 206.0,503.0 Z" fill="url(#leafg)" stroke="#6aac40" stroke-width="1.2"/>
<path d="M206.0,503.0 Q273.8,455.5 350.0,404.0" stroke="#4e8e28" stroke-width="2" fill="none" opacity="0.55"/>
<path d="M240.0,512.0 C279.2,534.6 338.5,511.5 362.0,478.0 C324.5,461.5 261.8,472.4 240.0,512.0 Z" fill="url(#leafg)" stroke="#6aac40" stroke-width="1.2"/>
<path d="M240.0,512.0 Q297.9,493.7 362.0,478.0" stroke="#4e8e28" stroke-width="2" fill="none" opacity="0.55"/>
<path d="M329,324 C318,300 345,292 374,303 C402,314 412,345 406,372 C401,392 392,405 385,412 C370,396 345,376 335,356 C328,346 330,336 329,324 Z" fill="url(#leafg)" stroke="#6aac40" stroke-width="1.2"/>
<path d="M333,322 C355,340 375,370 385,410" stroke="#4e8e28" stroke-width="2" fill="none" opacity="0.55"/>
<path d="M350,508 C348,480 380,463 412,469 C442,478 460,505 458,540 C456,570 452,594 455,607 C430,596 400,580 380,561 C360,542 351,526 350,508 Z" fill="url(#leafg)" stroke="#6aac40" stroke-width="1.2"/>
<path d="M355,505 C390,520 430,560 453,604" stroke="#4e8e28" stroke-width="2" fill="none" opacity="0.55"/>
<path d="M22,-5.3 C41.7,-13.9 89.1,-13.2 101.0,0 C89.1,13.2 41.7,13.9 22,5.3 Z" fill="#fbe85a" opacity="0.95" transform="translate(212,267) rotate(-2.1)"/>
<path d="M22,-4.9 C42.0,-12.7 90.0,-12.1 102.0,0 C90.0,12.1 42.0,12.7 22,4.9 Z" fill="#fbe85a" opacity="0.95" transform="translate(212,267) rotate(24.8)"/>
<path d="M22,-5.1 C42.7,-13.4 92.3,-12.8 104.7,0 C92.3,12.8 42.7,13.4 22,5.1 Z" fill="#fbe85a" opacity="0.95" transform="translate(212,267) rotate(44.1)"/>
<path d="M22,-5.4 C43.2,-14.2 94.0,-13.5 106.7,0 C94.0,13.5 43.2,14.2 22,5.4 Z" fill="#fbe85a" opacity="0.95" transform="translate(212,267) rotate(69.9)"/>
<path d="M22,-5.7 C41.5,-14.8 88.4,-14.1 100.1,0 C88.4,14.1 41.5,14.8 22,5.7 Z" fill="#fbe85a" opacity="0.95" transform="translate(212,267) rotate(98.7)"/>
<path d="M22,-6.0 C42.0,-15.7 90.1,-14.9 102.1,0 C90.1,14.9 42.0,15.7 22,6.0 Z" fill="#fbe85a" opacity="0.95" transform="translate(212,267) rotate(117.2)"/>
<path d="M22,-5.7 C42.4,-15.0 91.3,-14.2 103.5,0 C91.3,14.2 42.4,15.0 22,5.7 Z" fill="#fbe85a" opacity="0.95" transform="translate(212,267) rotate(144.2)"/>
<path d="M22,-5.6 C42.4,-14.7 91.4,-14.0 103.7,0 C91.4,14.0 42.4,14.7 22,5.6 Z" fill="#fbe85a" opacity="0.95" transform="translate(212,267) rotate(164.5)"/>
<path d="M22,-6.0 C40.1,-15.7 83.5,-14.9 94.4,0 C83.5,14.9 40.1,15.7 22,6.0 Z" fill="#fbe85a" opacity="0.95" transform="translate(212,267) rotate(190.4)"/>
<path d="M22,-6.0 C42.3,-15.7 91.0,-15.0 103.2,0 C91.0,15.0 42.3,15.7 22,6.0 Z" fill="#fbe85a" opacity="0.95" transform="translate(212,267) rotate(215.8)"/>
<path d="M22,-5.3 C42.9,-13.9 93.2,-13.3 105.8,0 C93.2,13.3 42.9,13.9 22,5.3 Z" fill="#fbe85a" opacity="0.95" transform="translate(212,267) rotate(241.7)"/>
<path d="M22,-6.1 C41.4,-15.9 88.0,-15.2 99.7,0 C88.0,15.2 41.4,15.9 22,6.1 Z" fill="#fbe85a" opacity="0.95" transform="translate(212,267) rotate(266.4)"/>
<path d="M22,-5.0 C40.3,-13.0 84.3,-12.4 95.2,0 C84.3,12.4 40.3,13.0 22,5.0 Z" fill="#fbe85a" opacity="0.95" transform="translate(212,267) rotate(291.0)"/>
<path d="M22,-5.4 C43.1,-14.1 93.7,-13.4 106.4,0 C93.7,13.4 43.1,14.1 22,5.4 Z" fill="#fbe85a" opacity="0.95" transform="translate(212,267) rotate(309.7)"/>
<path d="M22,-5.5 C41.0,-14.4 86.5,-13.7 97.9,0 C86.5,13.7 41.0,14.4 22,5.5 Z" fill="#fbe85a" opacity="0.95" transform="translate(212,267) rotate(337.0)"/>
<path d="M22,-5.6 C39.2,-14.6 80.5,-13.9 90.8,0 C80.5,13.9 39.2,14.6 22,5.6 Z" fill="#fdf080" opacity="0.95" transform="translate(212,267) rotate(11.1)"/>
<path d="M22,-5.7 C40.8,-15.0 85.9,-14.3 97.2,0 C85.9,14.3 40.8,15.0 22,5.7 Z" fill="#fdf080" opacity="0.95" transform="translate(212,267) rotate(36.7)"/>
<path d="M22,-6.1 C40.7,-16.1 85.5,-15.4 96.7,0 C85.5,15.4 40.7,16.1 22,6.1 Z" fill="#fdf080" opacity="0.95" transform="translate(212,267) rotate(63.4)"/>
<path d="M22,-6.0 C38.7,-15.7 78.7,-14.9 88.7,0 C78.7,14.9 38.7,15.7 22,6.0 Z" fill="#fdf080" opacity="0.95" transform="translate(212,267) rotate(85.4)"/>
<path d="M22,-5.6 C40.8,-14.6 85.9,-13.9 97.2,0 C85.9,13.9 40.8,14.6 22,5.6 Z" fill="#fdf080" opacity="0.95" transform="translate(212,267) rotate(111.7)"/>
<path d="M22,-5.9 C38.8,-15.6 79.1,-14.8 89.2,0 C79.1,14.8 38.8,15.6 22,5.9 Z" fill="#fdf080" opacity="0.95" transform="translate(212,267) rotate(133.7)"/>
<path d="M22,-4.8 C39.0,-12.7 79.9,-12.1 90.1,0 C79.9,12.1 39.0,12.7 22,4.8 Z" fill="#fdf080" opacity="0.95" transform="translate(212,267) rotate(156.6)"/>
<path d="M22,-4.9 C41.1,-12.8 86.8,-12.2 98.2,0 C86.8,12.2 41.1,12.8 22,4.9 Z" fill="#fdf080" opacity="0.95" transform="translate(212,267) rotate(182.8)"/>
<path d="M22,-5.0 C39.4,-13.0 81.1,-12.4 91.5,0 C81.1,12.4 39.4,13.0 22,5.0 Z" fill="#fdf080" opacity="0.95" transform="translate(212,267) rotate(206.4)"/>
<path d="M22,-6.0 C40.4,-15.7 84.6,-15.0 95.7,0 C84.6,15.0 40.4,15.7 22,6.0 Z" fill="#fdf080" opacity="0.95" transform="translate(212,267) rotate(226.4)"/>
<path d="M22,-4.8 C40.0,-12.7 83.1,-12.1 93.9,0 C83.1,12.1 40.0,12.7 22,4.8 Z" fill="#fdf080" opacity="0.95" transform="translate(212,267) rotate(248.4)"/>
<path d="M22,-6.0 C39.2,-15.7 80.3,-15.0 90.6,0 C80.3,15.0 39.2,15.7 22,6.0 Z" fill="#fdf080" opacity="0.95" transform="translate(212,267) rotate(277.7)"/>
<path d="M22,-6.2 C39.7,-16.2 82.0,-15.4 92.6,0 C82.0,15.4 39.7,16.2 22,6.2 Z" fill="#fdf080" opacity="0.95" transform="translate(212,267) rotate(303.8)"/>
<path d="M22,-5.6 C38.4,-14.7 77.8,-14.0 87.7,0 C77.8,14.0 38.4,14.7 22,5.6 Z" fill="#fdf080" opacity="0.95" transform="translate(212,267) rotate(322.5)"/>
<path d="M22,-5.3 C38.8,-14.0 79.0,-13.3 89.1,0 C79.0,13.3 38.8,14.0 22,5.3 Z" fill="#fdf080" opacity="0.95" transform="translate(212,267) rotate(344.3)"/>
<path d="M40,-8.0 C73.0,-20.9 152.2,-19.9 172.0,0 C152.2,19.9 73.0,20.9 40,8.0 Z" fill="#fbe85a" opacity="0.95" transform="translate(357,153) rotate(1.0)"/>
<path d="M40,-8.2 C72.6,-21.6 150.9,-20.5 170.4,0 C150.9,20.5 72.6,21.6 40,8.2 Z" fill="#fbe85a" opacity="0.95" transform="translate(357,153) rotate(21.5)"/>
<path d="M40,-8.3 C70.8,-21.7 144.6,-20.6 163.1,0 C144.6,20.6 70.8,21.7 40,8.3 Z" fill="#fbe85a" opacity="0.95" transform="translate(357,153) rotate(32.2)"/>
<path d="M40,-6.7 C71.4,-17.5 146.8,-16.7 165.6,0 C146.8,16.7 71.4,17.5 40,6.7 Z" fill="#fbe85a" opacity="0.95" transform="translate(357,153) rotate(55.2)"/>
<path d="M40,-7.5 C67.0,-19.7 131.6,-18.7 147.8,0 C131.6,18.7 67.0,19.7 40,7.5 Z" fill="#fbe85a" opacity="0.95" transform="translate(357,153) rotate(71.8)"/>
<path d="M40,-6.9 C64.4,-18.0 123.0,-17.2 137.6,0 C123.0,17.2 64.4,18.0 40,6.9 Z" fill="#fbe85a" opacity="0.95" transform="translate(357,153) rotate(90.6)"/>
<path d="M40,-7.9 C69.8,-20.8 141.5,-19.8 159.4,0 C141.5,19.8 69.8,20.8 40,7.9 Z" fill="#fbe85a" opacity="0.95" transform="translate(357,153) rotate(106.2)"/>
<path d="M40,-6.7 C70.8,-17.6 144.7,-16.8 163.2,0 C144.7,16.8 70.8,17.6 40,6.7 Z" fill="#fbe85a" opacity="0.95" transform="translate(357,153) rotate(123.3)"/>
<path d="M40,-6.5 C68.9,-17.0 138.3,-16.2 155.7,0 C138.3,16.2 68.9,17.0 40,6.5 Z" fill="#fbe85a" opacity="0.95" transform="translate(357,153) rotate(144.9)"/>
<path d="M40,-6.9 C70.1,-18.0 142.2,-17.2 160.3,0 C142.2,17.2 70.1,18.0 40,6.9 Z" fill="#fbe85a" opacity="0.95" transform="translate(357,153) rotate(165.0)"/>
<path d="M40,-7.0 C73.7,-18.4 154.5,-17.5 174.7,0 C154.5,17.5 73.7,18.4 40,7.0 Z" fill="#fbe85a" opacity="0.95" transform="translate(357,153) rotate(183.9)"/>
<path d="M40,-7.7 C71.6,-20.3 147.4,-19.4 166.3,0 C147.4,19.4 71.6,20.3 40,7.7 Z" fill="#fbe85a" opacity="0.95" transform="translate(357,153) rotate(201.7)"/>
<path d="M40,-7.8 C73.1,-20.4 152.5,-19.4 172.4,0 C152.5,19.4 73.1,20.4 40,7.8 Z" fill="#fbe85a" opacity="0.95" transform="translate(357,153) rotate(213.6)"/>
<path d="M40,-7.0 C71.2,-18.4 146.0,-17.6 164.7,0 C146.0,17.6 71.2,18.4 40,7.0 Z" fill="#fbe85a" opacity="0.95" transform="translate(357,153) rotate(237.7)"/>
<path d="M40,-6.7 C66.7,-17.7 130.6,-16.8 146.6,0 C130.6,16.8 66.7,17.7 40,6.7 Z" fill="#fbe85a" opacity="0.95" transform="translate(357,153) rotate(250.9)"/>
<path d="M40,-7.6 C65.9,-20.0 128.1,-19.0 143.7,0 C128.1,19.0 65.9,20.0 40,7.6 Z" fill="#fbe85a" opacity="0.95" transform="translate(357,153) rotate(266.5)"/>
<path d="M40,-7.1 C68.5,-18.6 137.1,-17.8 154.2,0 C137.1,17.8 68.5,18.6 40,7.1 Z" fill="#fbe85a" opacity="0.95" transform="translate(357,153) rotate(284.0)"/>
<path d="M40,-7.4 C71.0,-19.4 145.4,-18.4 164.0,0 C145.4,18.4 71.0,19.4 40,7.4 Z" fill="#fbe85a" opacity="0.95" transform="translate(357,153) rotate(304.5)"/>
<path d="M40,-7.8 C70.6,-20.5 143.9,-19.5 162.3,0 C143.9,19.5 70.6,20.5 40,7.8 Z" fill="#fbe85a" opacity="0.95" transform="translate(357,153) rotate(322.5)"/>
<path d="M40,-6.5 C73.8,-17.1 155.0,-16.3 175.3,0 C155.0,16.3 73.8,17.1 40,6.5 Z" fill="#fbe85a" opacity="0.95" transform="translate(357,153) rotate(338.5)"/>
<path d="M40,-6.5 C70.1,-17.0 142.3,-16.2 160.4,0 C142.3,16.2 70.1,17.0 40,6.5 Z" fill="#fdf080" opacity="0.95" transform="translate(357,153) rotate(11.0)"/>
<path d="M40,-7.6 C67.4,-19.8 133.0,-18.9 149.4,0 C133.0,18.9 67.4,19.8 40,7.6 Z" fill="#fdf080" opacity="0.95" transform="translate(357,153) rotate(29.3)"/>
<path d="M40,-6.8 C65.4,-17.9 126.3,-17.0 141.5,0 C126.3,17.0 65.4,17.9 40,6.8 Z" fill="#fdf080" opacity="0.95" transform="translate(357,153) rotate(41.1)"/>
<path d="M40,-7.9 C64.4,-20.7 123.1,-19.7 137.7,0 C123.1,19.7 64.4,20.7 40,7.9 Z" fill="#fdf080" opacity="0.95" transform="translate(357,153) rotate(66.6)"/>
<path d="M40,-7.1 C66.0,-18.7 128.5,-17.8 144.1,0 C128.5,17.8 66.0,18.7 40,7.1 Z" fill="#fdf080" opacity="0.95" transform="translate(357,153) rotate(84.4)"/>
<path d="M40,-7.9 C64.6,-20.8 123.5,-19.8 138.2,0 C123.5,19.8 64.6,20.8 40,7.9 Z" fill="#fdf080" opacity="0.95" transform="translate(357,153) rotate(97.8)"/>
<path d="M40,-8.0 C66.8,-20.9 131.1,-19.9 147.1,0 C131.1,19.9 66.8,20.9 40,8.0 Z" fill="#fdf080" opacity="0.95" transform="translate(357,153) rotate(113.9)"/>
<path d="M40,-8.3 C65.3,-21.7 125.9,-20.6 141.1,0 C125.9,20.6 65.3,21.7 40,8.3 Z" fill="#fdf080" opacity="0.95" transform="translate(357,153) rotate(137.9)"/>
<path d="M40,-7.6 C67.2,-20.0 132.5,-19.1 148.8,0 C132.5,19.1 67.2,20.0 40,7.6 Z" fill="#fdf080" opacity="0.95" transform="translate(357,153) rotate(149.7)"/>
<path d="M40,-8.2 C67.8,-21.6 134.5,-20.5 151.2,0 C134.5,20.5 67.8,21.6 40,8.2 Z" fill="#fdf080" opacity="0.95" transform="translate(357,153) rotate(174.3)"/>
<path d="M40,-7.1 C67.6,-18.5 134.0,-17.7 150.6,0 C134.0,17.7 67.6,18.5 40,7.1 Z" fill="#fdf080" opacity="0.95" transform="translate(357,153) rotate(189.4)"/>
<path d="M40,-6.7 C66.2,-17.7 129.1,-16.9 144.8,0 C129.1,16.9 66.2,17.7 40,6.7 Z" fill="#fdf080" opacity="0.95" transform="translate(357,153) rotate(204.4)"/>
<path d="M40,-6.8 C69.3,-17.8 139.6,-16.9 157.2,0 C139.6,16.9 69.3,17.8 40,6.8 Z" fill="#fdf080" opacity="0.95" transform="translate(357,153) rotate(226.5)"/>
<path d="M40,-7.5 C68.3,-19.6 136.3,-18.7 153.3,0 C136.3,18.7 68.3,19.6 40,7.5 Z" fill="#fdf080" opacity="0.95" transform="translate(357,153) rotate(239.4)"/>
<path d="M40,-7.6 C63.6,-19.9 120.1,-19.0 134.3,0 C120.1,19.0 63.6,19.9 40,7.6 Z" fill="#fdf080" opacity="0.95" transform="translate(357,153) rotate(260.2)"/>
<path d="M40,-7.3 C64.6,-19.1 123.6,-18.2 138.4,0 C123.6,18.2 64.6,19.1 40,7.3 Z" fill="#fdf080" opacity="0.95" transform="translate(357,153) rotate(281.6)"/>
<path d="M40,-6.5 C67.5,-17.1 133.3,-16.3 149.8,0 C133.3,16.3 67.5,17.1 40,6.5 Z" fill="#fdf080" opacity="0.95" transform="translate(357,153) rotate(293.4)"/>
<path d="M40,-6.7 C68.7,-17.6 137.5,-16.8 154.7,0 C137.5,16.8 68.7,17.6 40,6.7 Z" fill="#fdf080" opacity="0.95" transform="translate(357,153) rotate(314.9)"/>
<path d="M40,-7.7 C70.2,-20.1 142.6,-19.1 160.8,0 C142.6,19.1 70.2,20.1 40,7.7 Z" fill="#fdf080" opacity="0.95" transform="translate(357,153) rotate(334.9)"/>
<path d="M40,-7.3 C66.7,-19.1 130.8,-18.2 146.8,0 C130.8,18.2 66.7,19.1 40,7.3 Z" fill="#fdf080" opacity="0.95" transform="translate(357,153) rotate(353.3)"/>
<circle cx="212" cy="267" r="40" fill="#f8b838" opacity="0.6"/>
<circle cx="212" cy="267" r="37" fill="url(#smalldisk)"/>
<circle cx="357" cy="153" r="62" fill="#a85a20" opacity="0.6"/>
<circle cx="357" cy="153" r="59" fill="url(#bigdisk)"/>
<rect x="214.5" y="386" width="31.0" height="8" fill="#ff0000"/>
<rect x="270" y="386" width="31" height="8" fill="#ff0000"/>
<rect x="326.5" y="386" width="31.0" height="8" fill="#ff0000"/>
<rect x="194.5" y="399" width="8" height="31" fill="#ff0000"/>
<rect x="194.5" y="455" width="8" height="31" fill="#ff0000"/>
<rect x="194.5" y="511" width="8" height="31" fill="#ff0000"/>
<rect x="194.5" y="567" width="8" height="31" fill="#ff0000"/>
<rect x="194.5" y="623" width="8" height="31" fill="#ff0000"/>
<rect x="194.5" y="679" width="8" height="31" fill="#ff0000"/>
<rect x="364" y="407" width="8" height="31" fill="#ff0000"/>
<rect x="364" y="463" width="8" height="31" fill="#ff0000"/>
<rect x="364" y="519" width="8" height="31" fill="#ff0000"/>
<rect x="364" y="575" width="8" height="31" fill="#ff0000"/>
<rect x="364" y="631" width="8" height="31" fill="#ff0000"/>
<rect x="364" y="687" width="8" height="31" fill="#ff0000"/>
<path d="M194.5,735 L194.5,771 L222,771 L222,763 L202.5,763 L202.5,735 Z" fill="#ff0000"/>
<rect x="250" y="763" width="31" height="8" fill="#ff0000"/>
<rect x="306" y="763" width="31" height="8" fill="#ff0000"/>
<path d="M342,771 L372,771 L372,743 L364,743 L364,763 L342,763 Z" fill="#ff0000"/>
<text x="160" y="831" font-size="59" text-anchor="start" fill="#000" textLength="264" lengthAdjust="spacingAndGlyphs" >Sunflower</text>
<path d="M742,408 L972,750 L500,750 Z" fill="url(#trig)" filter="url(#blur6)" opacity="0.9"/>
<path d="M666,116 L800,116 L786,402 C760,412 700,412 678,402 Z" fill="url(#stemcyl)"/>
<path d="M670.0,130 L680.0,400" stroke="#8a300a" stroke-width="1.6" opacity="0.7"/>
<path d="M677.4,130 L686.1,400" stroke="#f08848" stroke-width="1.6" opacity="0.7"/>
<path d="M684.8,130 L692.2,400" stroke="#8a300a" stroke-width="1.6" opacity="0.7"/>
<path d="M692.2,130 L698.4,400" stroke="#8a300a" stroke-width="1.6" opacity="0.7"/>
<path d="M699.6,130 L704.5,400" stroke="#f08848" stroke-width="1.6" opacity="0.7"/>
<path d="M707.1,130 L710.6,400" stroke="#8a300a" stroke-width="1.6" opacity="0.7"/>
<path d="M714.5,130 L716.7,400" stroke="#8a300a" stroke-width="1.6" opacity="0.7"/>
<path d="M721.9,130 L722.8,400" stroke="#f08848" stroke-width="1.6" opacity="0.7"/>
<path d="M729.3,130 L728.9,400" stroke="#8a300a" stroke-width="1.6" opacity="0.7"/>
<path d="M736.7,130 L735.1,400" stroke="#8a300a" stroke-width="1.6" opacity="0.7"/>
<path d="M744.1,130 L741.2,400" stroke="#f08848" stroke-width="1.6" opacity="0.7"/>
<path d="M751.5,130 L747.3,400" stroke="#8a300a" stroke-width="1.6" opacity="0.7"/>
<path d="M758.9,130 L753.4,400" stroke="#8a300a" stroke-width="1.6" opacity="0.7"/>
<path d="M766.4,130 L759.5,400" stroke="#f08848" stroke-width="1.6" opacity="0.7"/>
<path d="M773.8,130 L765.6,400" stroke="#8a300a" stroke-width="1.6" opacity="0.7"/>
<path d="M781.2,130 L771.8,400" stroke="#8a300a" stroke-width="1.6" opacity="0.7"/>
<path d="M788.6,130 L777.9,400" stroke="#f08848" stroke-width="1.6" opacity="0.7"/>
<path d="M796.0,130 L784.0,400" stroke="#8a300a" stroke-width="1.6" opacity="0.7"/>
<ellipse cx="733" cy="115" rx="67" ry="35" fill="#e07030"/>
<ellipse cx="793.0" cy="116.0" rx="5.5" ry="4" fill="#f08a48" stroke="#b04a14" stroke-width="1"/>
<ellipse cx="792.0" cy="121.3" rx="5.5" ry="4" fill="#f08a48" stroke="#b04a14" stroke-width="1"/>
<ellipse cx="788.9" cy="126.5" rx="5.5" ry="4" fill="#f08a48" stroke="#b04a14" stroke-width="1"/>
<ellipse cx="784.0" cy="131.3" rx="5.5" ry="4" fill="#f08a48" stroke="#b04a14" stroke-width="1"/>
<ellipse cx="777.3" cy="135.5" rx="5.5" ry="4" fill="#f08a48" stroke="#b04a14" stroke-width="1"/>
<ellipse cx="769.2" cy="139.1" rx="5.5" ry="4" fill="#f08a48" stroke="#b04a14" stroke-width="1"/>
<ellipse cx="759.7" cy="142.0" rx="5.5" ry="4" fill="#f08a48" stroke="#b04a14" stroke-width="1"/>
<ellipse cx="749.4" cy="143.9" rx="5.5" ry="4" fill="#f08a48" stroke="#b04a14" stroke-width="1"/>
<ellipse cx="738.5" cy="144.9" rx="5.5" ry="4" fill="#f08a48" stroke="#b04a14" stroke-width="1"/>
<ellipse cx="727.5" cy="144.9" rx="5.5" ry="4" fill="#f08a48" stroke="#b04a14" stroke-width="1"/>
<ellipse cx="716.6" cy="143.9" rx="5.5" ry="4" fill="#f08a48" stroke="#b04a14" stroke-width="1"/>
<ellipse cx="706.3" cy="142.0" rx="5.5" ry="4" fill="#f08a48" stroke="#b04a14" stroke-width="1"/>
<ellipse cx="696.8" cy="139.1" rx="5.5" ry="4" fill="#f08a48" stroke="#b04a14" stroke-width="1"/>
<ellipse cx="688.7" cy="135.5" rx="5.5" ry="4" fill="#f08a48" stroke="#b04a14" stroke-width="1"/>
<ellipse cx="682.0" cy="131.3" rx="5.5" ry="4" fill="#f08a48" stroke="#b04a14" stroke-width="1"/>
<ellipse cx="677.1" cy="126.5" rx="5.5" ry="4" fill="#f08a48" stroke="#b04a14" stroke-width="1"/>
<ellipse cx="674.0" cy="121.3" rx="5.5" ry="4" fill="#f08a48" stroke="#b04a14" stroke-width="1"/>
<ellipse cx="673.0" cy="116.0" rx="5.5" ry="4" fill="#f08a48" stroke="#b04a14" stroke-width="1"/>
<ellipse cx="674.0" cy="110.7" rx="5.5" ry="4" fill="#f08a48" stroke="#b04a14" stroke-width="1"/>
<ellipse cx="677.1" cy="105.5" rx="5.5" ry="4" fill="#f08a48" stroke="#b04a14" stroke-width="1"/>
<ellipse cx="682.0" cy="100.7" rx="5.5" ry="4" fill="#f08a48" stroke="#b04a14" stroke-width="1"/>
<ellipse cx="688.7" cy="96.5" rx="5.5" ry="4" fill="#f08a48" stroke="#b04a14" stroke-width="1"/>
<ellipse cx="696.8" cy="92.9" rx="5.5" ry="4" fill="#f08a48" stroke="#b04a14" stroke-width="1"/>
<ellipse cx="706.3" cy="90.0" rx="5.5" ry="4" fill="#f08a48" stroke="#b04a14" stroke-width="1"/>
<ellipse cx="716.6" cy="88.1" rx="5.5" ry="4" fill="#f08a48" stroke="#b04a14" stroke-width="1"/>
<ellipse cx="727.5" cy="87.1" rx="5.5" ry="4" fill="#f08a48" stroke="#b04a14" stroke-width="1"/>
<ellipse cx="738.5" cy="87.1" rx="5.5" ry="4" fill="#f08a48" stroke="#b04a14" stroke-width="1"/>
<ellipse cx="749.4" cy="88.1" rx="5.5" ry="4" fill="#f08a48" stroke="#b04a14" stroke-width="1"/>
<ellipse cx="759.7" cy="90.0" rx="5.5" ry="4" fill="#f08a48" stroke="#b04a14" stroke-width="1"/>
<ellipse cx="769.2" cy="92.9" rx="5.5" ry="4" fill="#f08a48" stroke="#b04a14" stroke-width="1"/>
<ellipse cx="777.3" cy="96.5" rx="5.5" ry="4" fill="#f08a48" stroke="#b04a14" stroke-width="1"/>
<ellipse cx="784.0" cy="100.7" rx="5.5" ry="4" fill="#f08a48" stroke="#b04a14" stroke-width="1"/>
<ellipse cx="788.9" cy="105.5" rx="5.5" ry="4" fill="#f08a48" stroke="#b04a14" stroke-width="1"/>
<ellipse cx="792.0" cy="110.7" rx="5.5" ry="4" fill="#f08a48" stroke="#b04a14" stroke-width="1"/>
<polygon points="749.0,100.0 741.0,108.6 725.0,108.6 717.0,100.0 725.0,91.4 741.0,91.4" fill="#4aa8f4" stroke="#2a78d8" stroke-width="1.5"/>
<polygon points="742.9,99.0 738.0,104.5 728.0,104.5 723.1,99.0 728.0,93.5 738.0,93.5" fill="#c8c8c8" stroke="#909090" stroke-width="1"/>
<polygon points="722.0,108.0 714.0,116.6 698.0,116.6 690.0,108.0 698.0,99.4 714.0,99.4" fill="#4aa8f4" stroke="#2a78d8" stroke-width="1.5"/>
<polygon points="715.9,107.0 711.0,112.5 701.0,112.5 696.1,107.0 701.0,101.5 711.0,101.5" fill="#c8c8c8" stroke="#909090" stroke-width="1"/>
<polygon points="776.0,108.0 768.0,116.6 752.0,116.6 744.0,108.0 752.0,99.4 768.0,99.4" fill="#4aa8f4" stroke="#2a78d8" stroke-width="1.5"/>
<polygon points="769.9,107.0 765.0,112.5 755.0,112.5 750.1,107.0 755.0,101.5 765.0,101.5" fill="#c8c8c8" stroke="#909090" stroke-width="1"/>
<polygon points="749.0,118.0 741.0,126.6 725.0,126.6 717.0,118.0 725.0,109.4 741.0,109.4" fill="#4aa8f4" stroke="#2a78d8" stroke-width="1.5"/>
<polygon points="742.9,117.0 738.0,122.5 728.0,122.5 723.1,117.0 728.0,111.5 738.0,111.5" fill="#c8c8c8" stroke="#909090" stroke-width="1"/>
<polygon points="722.0,128.0 714.0,136.6 698.0,136.6 690.0,128.0 698.0,119.4 714.0,119.4" fill="#4aa8f4" stroke="#2a78d8" stroke-width="1.5"/>
<polygon points="715.9,127.0 711.0,132.5 701.0,132.5 696.1,127.0 701.0,121.5 711.0,121.5" fill="#c8c8c8" stroke="#909090" stroke-width="1"/>
<polygon points="776.0,128.0 768.0,136.6 752.0,136.6 744.0,128.0 752.0,119.4 768.0,119.4" fill="#4aa8f4" stroke="#2a78d8" stroke-width="1.5"/>
<polygon points="769.9,127.0 765.0,132.5 755.0,132.5 750.1,127.0 755.0,121.5 765.0,121.5" fill="#c8c8c8" stroke="#909090" stroke-width="1"/>
<polygon points="749.0,136.0 741.0,144.6 725.0,144.6 717.0,136.0 725.0,127.4 741.0,127.4" fill="#4aa8f4" stroke="#2a78d8" stroke-width="1.5"/>
<polygon points="742.9,135.0 738.0,140.5 728.0,140.5 723.1,135.0 728.0,129.5 738.0,129.5" fill="#c8c8c8" stroke="#909090" stroke-width="1"/>
<path d="M729,118 C800,98 880,100 920,150 C960,200 970,210 1010,195 L1071,195" stroke="#b0c4e8" stroke-width="13" fill="none" stroke-linecap="round"/>
<path d="M1005,172 L1071,195 L1033,234" stroke="#b0c4e8" stroke-width="13" fill="none" stroke-linecap="round" stroke-linejoin="round"/>
<g filter="url(#discrough)"><ellipse cx="740" cy="606" rx="113" ry="116" fill="url(#discg)"/></g>
<g clip-path="url(#discclip)"><path d="M632,590 C640,680 690,722 770,726" stroke="#8a5418" stroke-width="14" fill="none" opacity="0.5" filter="url(#blur3)"/></g>
<g opacity="0.5" clip-path="url(#discclip)"><rect x="625" y="488" width="230" height="236" filter="url(#sf1)"/></g>
<ellipse cx="740" cy="606" rx="110" ry="113" fill="none" stroke="#ee1c1c" stroke-width="5" stroke-dasharray="19,12"/>
<ellipse cx="740" cy="603" rx="83" ry="87" fill="none" stroke="#ee1c1c" stroke-width="5" stroke-dasharray="19,12"/>
<text x="556" y="216" font-size="45" text-anchor="start" fill="#000" textLength="81" lengthAdjust="spacingAndGlyphs" >rind</text>
<path d="M628.0,186.0 L689.0,137.0 M682.1,151.4 L689.0,137.0 L673.4,140.6" stroke="#000" stroke-width="3.2" fill="none" stroke-linecap="round" stroke-linejoin="miter"/>
<text x="833" y="392" font-size="45" text-anchor="start" fill="#000" textLength="73" lengthAdjust="spacingAndGlyphs" >pith</text>
<path d="M828.0,344.0 L772.0,301.0 M787.7,304.3 L772.0,301.0 L779.2,315.3" stroke="#000" stroke-width="3.2" fill="none" stroke-linecap="round" stroke-linejoin="miter"/>
<text x="506" y="566" font-size="45" text-anchor="start" fill="#000" textLength="87" lengthAdjust="spacingAndGlyphs" >shell</text>
<path d="M572.0,576.0 L640.0,611.5 M624.0,611.0 L640.0,611.5 L630.4,598.7" stroke="#000" stroke-width="3.2" fill="none" stroke-linecap="round" stroke-linejoin="miter"/>
<text x="850" y="746.6" font-size="45" text-anchor="start" fill="#000" textLength="81" lengthAdjust="spacingAndGlyphs" >core</text>
<path d="M866.0,689.0 L742.6,611.5 M758.5,613.3 L742.6,611.5 L751.1,625.1" stroke="#000" stroke-width="3.2" fill="none" stroke-linecap="round" stroke-linejoin="miter"/>
<text x="554.6" y="827.4" font-size="58" text-anchor="start" fill="#000" textLength="382" lengthAdjust="spacingAndGlyphs" >Stem structure</text>
<polygon points="1206.0,276.0 1112.5,222.0 1112.5,114.0 1206.0,60.0 1299.5,114.0 1299.5,222.0" fill="#a8e880" opacity="0.8"/>
<polygon points="1108.0,441.0 1013.6,386.5 1013.6,277.5 1108.0,223.0 1202.4,277.5 1202.4,386.5" fill="#a8e880" opacity="0.8"/>
<polygon points="1297.0,437.0 1206.1,384.5 1206.1,279.5 1297.0,227.0 1387.9,279.5 1387.9,384.5" fill="#a8e880" opacity="0.8"/>
<polygon points="1212.0,269.0 1118.5,215.0 1118.5,107.0 1212.0,53.0 1305.5,107.0 1305.5,215.0" fill="#bdf098" stroke="#d8f8c0" stroke-width="3"/>
<polygon points="1212.0,263.6 1123.1,212.3 1123.1,109.7 1212.0,58.4 1300.9,109.7 1300.9,212.3" fill="#78dc50"/>
<polygon points="1114.0,434.0 1019.6,379.5 1019.6,270.5 1114.0,216.0 1208.4,270.5 1208.4,379.5" fill="#bdf098" stroke="#d8f8c0" stroke-width="3"/>
<polygon points="1114.0,428.6 1024.3,376.8 1024.3,273.2 1114.0,221.4 1203.7,273.2 1203.7,376.8" fill="#78dc50"/>
<polygon points="1303.0,430.0 1212.1,377.5 1212.1,272.5 1303.0,220.0 1393.9,272.5 1393.9,377.5" fill="#bdf098" stroke="#d8f8c0" stroke-width="3"/>
<polygon points="1303.0,424.8 1216.6,374.9 1216.6,275.1 1303.0,225.2 1389.4,275.1 1389.4,374.9" fill="#78dc50"/>
<polygon points="1212.0,240.9 1142.8,201.0 1142.8,121.0 1212.0,81.1 1281.2,121.0 1281.2,201.0" fill="url(#cellin)" stroke="#5ac038" stroke-width="2"/>
<polygon points="1114.0,405.7 1044.1,365.3 1044.1,284.7 1114.0,244.3 1183.9,284.7 1183.9,365.3" fill="url(#cellin)" stroke="#5ac038" stroke-width="2"/>
<polygon points="1303.0,402.7 1235.7,363.9 1235.7,286.1 1303.0,247.3 1370.3,286.1 1370.3,363.9" fill="url(#cellin)" stroke="#5ac038" stroke-width="2"/>
<circle cx="1212.0" cy="252.8" r="8" fill="url(#cylend)" stroke="#188a10" stroke-width="1"/>
<circle cx="1210.0" cy="250.8" r="1.1" fill="#8a7a10"/>
<circle cx="1214.0" cy="250.8" r="1.1" fill="#8a7a10"/>
<circle cx="1210.0" cy="254.8" r="1.1" fill="#8a7a10"/>
<circle cx="1214.0" cy="254.8" r="1.1" fill="#8a7a10"/>
<rect x="-9" y="-4" width="18" height="8" rx="3" fill="#48c838" stroke="#2a9a20" stroke-width="1" transform="translate(1196.1,243.6) rotate(100.9)"/>
<circle cx="1180.2" cy="234.4" r="8" fill="url(#cylend)" stroke="#188a10" stroke-width="1"/>
<circle cx="1178.2" cy="232.4" r="1.1" fill="#8a7a10"/>
<circle cx="1182.2" cy="232.4" r="1.1" fill="#8a7a10"/>
<circle cx="1178.2" cy="236.4" r="1.1" fill="#8a7a10"/>
<circle cx="1182.2" cy="236.4" r="1.1" fill="#8a7a10"/>
<rect x="-9" y="-4" width="18" height="8" rx="3" fill="#48c838" stroke="#2a9a20" stroke-width="1" transform="translate(1164.3,225.3) rotate(126.6)"/>
<circle cx="1148.4" cy="216.1" r="8" fill="url(#cylend)" stroke="#188a10" stroke-width="1"/>
<circle cx="1146.4" cy="214.1" r="1.1" fill="#8a7a10"/>
<circle cx="1150.4" cy="214.1" r="1.1" fill="#8a7a10"/>
<circle cx="1146.4" cy="218.1" r="1.1" fill="#8a7a10"/>
<circle cx="1150.4" cy="218.1" r="1.1" fill="#8a7a10"/>
<rect x="-9" y="-4" width="18" height="8" rx="3" fill="#48c838" stroke="#2a9a20" stroke-width="1" transform="translate(1132.5,206.9) rotate(150.0)"/>
<circle cx="1132.5" cy="188.5" r="8" fill="url(#cylend)" stroke="#188a10" stroke-width="1"/>
<circle cx="1130.5" cy="186.5" r="1.1" fill="#8a7a10"/>
<circle cx="1134.5" cy="186.5" r="1.1" fill="#8a7a10"/>
<circle cx="1130.5" cy="190.5" r="1.1" fill="#8a7a10"/>
<circle cx="1134.5" cy="190.5" r="1.1" fill="#8a7a10"/>
<rect x="-9" y="-4" width="18" height="8" rx="3" fill="#48c838" stroke="#2a9a20" stroke-width="1" transform="translate(1132.5,170.2) rotate(173.4)"/>
<circle cx="1132.5" cy="151.8" r="8" fill="url(#cylend)" stroke="#188a10" stroke-width="1"/>
<circle cx="1130.5" cy="149.8" r="1.1" fill="#8a7a10"/>
<circle cx="1134.5" cy="149.8" r="1.1" fill="#8a7a10"/>
<circle cx="1130.5" cy="153.8" r="1.1" fill="#8a7a10"/>
<circle cx="1134.5" cy="153.8" r="1.1" fill="#8a7a10"/>
<rect x="-9" y="-4" width="18" height="8" rx="3" fill="#48c838" stroke="#2a9a20" stroke-width="1" transform="translate(1132.5,133.5) rotate(-160.9)"/>
<circle cx="1132.5" cy="115.1" r="8" fill="url(#cylend)" stroke="#188a10" stroke-width="1"/>
<circle cx="1130.5" cy="113.1" r="1.1" fill="#8a7a10"/>
<circle cx="1134.5" cy="113.1" r="1.1" fill="#8a7a10"/>
<circle cx="1130.5" cy="117.1" r="1.1" fill="#8a7a10"/>
<circle cx="1134.5" cy="117.1" r="1.1" fill="#8a7a10"/>
<rect x="-9" y="-4" width="18" height="8" rx="3" fill="#48c838" stroke="#2a9a20" stroke-width="1" transform="translate(1148.4,105.9) rotate(-139.1)"/>
<circle cx="1164.3" cy="96.7" r="8" fill="url(#cylend)" stroke="#188a10" stroke-width="1"/>
<circle cx="1162.3" cy="94.7" r="1.1" fill="#8a7a10"/>
<circle cx="1166.3" cy="94.7" r="1.1" fill="#8a7a10"/>
<circle cx="1162.3" cy="98.7" r="1.1" fill="#8a7a10"/>
<circle cx="1166.3" cy="98.7" r="1.1" fill="#8a7a10"/>
<rect x="-9" y="-4" width="18" height="8" rx="3" fill="#48c838" stroke="#2a9a20" stroke-width="1" transform="translate(1180.2,87.6) rotate(-113.4)"/>
<circle cx="1196.1" cy="78.4" r="8" fill="url(#cylend)" stroke="#188a10" stroke-width="1"/>
<circle cx="1194.1" cy="76.4" r="1.1" fill="#8a7a10"/>
<circle cx="1198.1" cy="76.4" r="1.1" fill="#8a7a10"/>
<circle cx="1194.1" cy="80.4" r="1.1" fill="#8a7a10"/>
<circle cx="1198.1" cy="80.4" r="1.1" fill="#8a7a10"/>
<rect x="-9" y="-4" width="18" height="8" rx="3" fill="#48c838" stroke="#2a9a20" stroke-width="1" transform="translate(1212.0,69.2) rotate(-90.0)"/>
<circle cx="1227.9" cy="78.4" r="8" fill="url(#cylend)" stroke="#188a10" stroke-width="1"/>
<circle cx="1225.9" cy="76.4" r="1.1" fill="#8a7a10"/>
<circle cx="1229.9" cy="76.4" r="1.1" fill="#8a7a10"/>
<circle cx="1225.9" cy="80.4" r="1.1" fill="#8a7a10"/>
<circle cx="1229.9" cy="80.4" r="1.1" fill="#8a7a10"/>
<rect x="-9" y="-4" width="18" height="8" rx="3" fill="#48c838" stroke="#2a9a20" stroke-width="1" transform="translate(1243.8,87.6) rotate(-66.6)"/>
<circle cx="1259.7" cy="96.7" r="8" fill="url(#cylend)" stroke="#188a10" stroke-width="1"/>
<circle cx="1257.7" cy="94.7" r="1.1" fill="#8a7a10"/>
<circle cx="1261.7" cy="94.7" r="1.1" fill="#8a7a10"/>
<circle cx="1257.7" cy="98.7" r="1.1" fill="#8a7a10"/>
<circle cx="1261.7" cy="98.7" r="1.1" fill="#8a7a10"/>
<rect x="-9" y="-4" width="18" height="8" rx="3" fill="#48c838" stroke="#2a9a20" stroke-width="1" transform="translate(1275.6,105.9) rotate(-40.9)"/>
<circle cx="1291.5" cy="115.1" r="8" fill="url(#cylend)" stroke="#188a10" stroke-width="1"/>
<circle cx="1289.5" cy="113.1" r="1.1" fill="#8a7a10"/>
<circle cx="1293.5" cy="113.1" r="1.1" fill="#8a7a10"/>
<circle cx="1289.5" cy="117.1" r="1.1" fill="#8a7a10"/>
<circle cx="1293.5" cy="117.1" r="1.1" fill="#8a7a10"/>
<rect x="-9" y="-4" width="18" height="8" rx="3" fill="#48c838" stroke="#2a9a20" stroke-width="1" transform="translate(1291.5,133.5) rotate(-19.1)"/>
<circle cx="1291.5" cy="151.8" r="8" fill="url(#cylend)" stroke="#188a10" stroke-width="1"/>
<circle cx="1289.5" cy="149.8" r="1.1" fill="#8a7a10"/>
<circle cx="1293.5" cy="149.8" r="1.1" fill="#8a7a10"/>
<circle cx="1289.5" cy="153.8" r="1.1" fill="#8a7a10"/>
<circle cx="1293.5" cy="153.8" r="1.1" fill="#8a7a10"/>
<rect x="-9" y="-4" width="18" height="8" rx="3" fill="#48c838" stroke="#2a9a20" stroke-width="1" transform="translate(1291.5,170.2) rotate(6.6)"/>
<circle cx="1291.5" cy="188.5" r="8" fill="url(#cylend)" stroke="#188a10" stroke-width="1"/>
<circle cx="1289.5" cy="186.5" r="1.1" fill="#8a7a10"/>
<circle cx="1293.5" cy="186.5" r="1.1" fill="#8a7a10"/>
<circle cx="1289.5" cy="190.5" r="1.1" fill="#8a7a10"/>
<circle cx="1293.5" cy="190.5" r="1.1" fill="#8a7a10"/>
<rect x="-9" y="-4" width="18" height="8" rx="3" fill="#48c838" stroke="#2a9a20" stroke-width="1" transform="translate(1291.5,206.9) rotate(30.0)"/>
<circle cx="1275.6" cy="216.1" r="8" fill="url(#cylend)" stroke="#188a10" stroke-width="1"/>
<circle cx="1273.6" cy="214.1" r="1.1" fill="#8a7a10"/>
<circle cx="1277.6" cy="214.1" r="1.1" fill="#8a7a10"/>
<circle cx="1273.6" cy="218.1" r="1.1" fill="#8a7a10"/>
<circle cx="1277.6" cy="218.1" r="1.1" fill="#8a7a10"/>
<rect x="-9" y="-4" width="18" height="8" rx="3" fill="#48c838" stroke="#2a9a20" stroke-width="1" transform="translate(1259.7,225.3) rotate(53.4)"/>
<circle cx="1243.8" cy="234.4" r="8" fill="url(#cylend)" stroke="#188a10" stroke-width="1"/>
<circle cx="1241.8" cy="232.4" r="1.1" fill="#8a7a10"/>
<circle cx="1245.8" cy="232.4" r="1.1" fill="#8a7a10"/>
<circle cx="1241.8" cy="236.4" r="1.1" fill="#8a7a10"/>
<circle cx="1245.8" cy="236.4" r="1.1" fill="#8a7a10"/>
<rect x="-9" y="-4" width="18" height="8" rx="3" fill="#48c838" stroke="#2a9a20" stroke-width="1" transform="translate(1227.9,243.6) rotate(79.1)"/>
<polyline points="1212.0,252.8 1209.2,256.8 1206.4,255.2 1204.0,248.2 1202.0,241.4 1199.6,240.0 1196.1,243.6 1192.3,247.0 1189.5,245.4 1188.1,239.0 1187.1,232.8 1184.6,231.4 1180.2,234.4 1175.4,237.3 1172.6,235.7 1172.2,229.9 1172.2,224.2 1169.7,222.8 1164.3,225.3 1158.6,227.6 1155.8,225.9 1156.3,220.7 1157.3,215.6 1154.8,214.1 1148.4,216.1 1141.7,217.8 1138.9,216.2 1140.4,211.5 1142.3,207.0 1139.8,205.5 1132.5,206.9 1127.6,206.5 1127.6,203.2 1132.5,197.7 1137.4,192.6 1137.4,189.7 1132.5,188.5 1127.6,187.0 1127.6,183.7 1132.5,179.4 1137.4,175.4 1137.4,172.5 1132.5,170.2 1127.6,167.5 1127.6,164.2 1132.5,161.0 1137.4,158.1 1137.4,155.3 1132.5,151.8 1127.6,148.0 1127.6,144.8 1132.5,142.6 1137.4,140.9 1137.4,138.0 1132.5,133.5 1127.6,128.5 1127.6,125.3 1132.5,124.3 1137.4,123.7 1137.4,120.8 1132.5,115.1 1130.5,110.7 1133.3,109.0 1140.4,110.5 1147.3,112.2 1149.8,110.7 1148.4,105.9 1147.3,100.9 1150.1,99.3 1156.3,101.3 1162.2,103.5 1164.7,102.1 1164.3,96.7 1164.2,91.2 1167.0,89.6 1172.2,92.2 1177.2,94.9 1179.7,93.5 1180.2,87.6 1181.1,81.4 1183.9,79.8 1188.1,83.0 1192.1,86.3 1194.6,84.9 1196.1,78.4 1197.9,71.7 1200.8,70.1 1204.0,73.8 1207.0,77.7 1209.5,76.2 1212.0,69.2 1214.8,65.2 1217.6,66.8 1220.0,73.8 1222.0,80.6 1224.4,82.0 1227.9,78.4 1231.7,75.0 1234.5,76.6 1235.9,83.0 1236.9,89.2 1239.4,90.6 1243.8,87.6 1248.6,84.7 1251.4,86.3 1251.8,92.2 1251.8,97.8 1254.3,99.2 1259.7,96.7 1265.4,94.4 1268.2,96.1 1267.7,101.3 1266.7,106.4 1269.2,107.9 1275.6,105.9 1282.3,104.2 1285.1,105.8 1283.6,110.5 1281.7,115.0 1284.2,116.5 1291.5,115.1 1296.4,115.5 1296.4,118.8 1291.5,124.3 1286.6,129.4 1286.6,132.3 1291.5,133.5 1296.4,135.0 1296.4,138.3 1291.5,142.6 1286.6,146.6 1286.6,149.5 1291.5,151.8 1296.4,154.5 1296.4,157.8 1291.5,161.0 1286.6,163.9 1286.6,166.7 1291.5,170.2 1296.4,174.0 1296.4,177.2 1291.5,179.4 1286.6,181.1 1286.6,184.0 1291.5,188.5 1296.4,193.5 1296.4,196.7 1291.5,197.7 1286.6,198.3 1286.6,201.2 1291.5,206.9 1293.5,211.3 1290.7,213.0 1283.6,211.5 1276.7,209.8 1274.2,211.3 1275.6,216.1 1276.7,221.1 1273.9,222.7 1267.7,220.7 1261.8,218.5 1259.3,219.9 1259.7,225.3 1259.8,230.8 1257.0,232.4 1251.8,229.9 1246.8,227.1 1244.3,228.5 1243.8,234.4 1242.9,240.6 1240.1,242.2 1235.9,239.0 1231.9,235.7 1229.4,237.1 1227.9,243.6 1226.1,250.3 1223.2,251.9 1220.0,248.2 1217.0,244.3 1214.5,245.8 1212.0,252.8" fill="none" stroke="#e068d0" stroke-width="2.4" opacity="0.9"/>
<circle cx="1114.0" cy="417.6" r="8" fill="url(#cylend)" stroke="#188a10" stroke-width="1"/>
<circle cx="1112.0" cy="415.6" r="1.1" fill="#8a7a10"/>
<circle cx="1116.0" cy="415.6" r="1.1" fill="#8a7a10"/>
<circle cx="1112.0" cy="419.6" r="1.1" fill="#8a7a10"/>
<circle cx="1116.0" cy="419.6" r="1.1" fill="#8a7a10"/>
<rect x="-9" y="-4" width="18" height="8" rx="3" fill="#48c838" stroke="#2a9a20" stroke-width="1" transform="translate(1098.0,408.4) rotate(100.9)"/>
<circle cx="1081.9" cy="399.1" r="8" fill="url(#cylend)" stroke="#188a10" stroke-width="1"/>
<circle cx="1079.9" cy="397.1" r="1.1" fill="#8a7a10"/>
<circle cx="1083.9" cy="397.1" r="1.1" fill="#8a7a10"/>
<circle cx="1079.9" cy="401.1" r="1.1" fill="#8a7a10"/>
<circle cx="1083.9" cy="401.1" r="1.1" fill="#8a7a10"/>
<rect x="-9" y="-4" width="18" height="8" rx="3" fill="#48c838" stroke="#2a9a20" stroke-width="1" transform="translate(1065.9,389.9) rotate(126.6)"/>
<circle cx="1049.8" cy="380.6" r="8" fill="url(#cylend)" stroke="#188a10" stroke-width="1"/>
<circle cx="1047.8" cy="378.6" r="1.1" fill="#8a7a10"/>
<circle cx="1051.8" cy="378.6" r="1.1" fill="#8a7a10"/>
<circle cx="1047.8" cy="382.6" r="1.1" fill="#8a7a10"/>
<circle cx="1051.8" cy="382.6" r="1.1" fill="#8a7a10"/>
<rect x="-9" y="-4" width="18" height="8" rx="3" fill="#48c838" stroke="#2a9a20" stroke-width="1" transform="translate(1033.8,371.3) rotate(150.0)"/>
<circle cx="1033.8" cy="352.8" r="8" fill="url(#cylend)" stroke="#188a10" stroke-width="1"/>
<circle cx="1031.8" cy="350.8" r="1.1" fill="#8a7a10"/>
<circle cx="1035.8" cy="350.8" r="1.1" fill="#8a7a10"/>
<circle cx="1031.8" cy="354.8" r="1.1" fill="#8a7a10"/>
<circle cx="1035.8" cy="354.8" r="1.1" fill="#8a7a10"/>
<rect x="-9" y="-4" width="18" height="8" rx="3" fill="#48c838" stroke="#2a9a20" stroke-width="1" transform="translate(1033.8,334.3) rotate(173.4)"/>
<circle cx="1033.8" cy="315.7" r="8" fill="url(#cylend)" stroke="#188a10" stroke-width="1"/>
<circle cx="1031.8" cy="313.7" r="1.1" fill="#8a7a10"/>
<circle cx="1035.8" cy="313.7" r="1.1" fill="#8a7a10"/>
<circle cx="1031.8" cy="317.7" r="1.1" fill="#8a7a10"/>
<circle cx="1035.8" cy="317.7" r="1.1" fill="#8a7a10"/>
<rect x="-9" y="-4" width="18" height="8" rx="3" fill="#48c838" stroke="#2a9a20" stroke-width="1" transform="translate(1033.8,297.2) rotate(-160.9)"/>
<circle cx="1033.8" cy="278.7" r="8" fill="url(#cylend)" stroke="#188a10" stroke-width="1"/>
<circle cx="1031.8" cy="276.7" r="1.1" fill="#8a7a10"/>
<circle cx="1035.8" cy="276.7" r="1.1" fill="#8a7a10"/>
<circle cx="1031.8" cy="280.7" r="1.1" fill="#8a7a10"/>
<circle cx="1035.8" cy="280.7" r="1.1" fill="#8a7a10"/>
<rect x="-9" y="-4" width="18" height="8" rx="3" fill="#48c838" stroke="#2a9a20" stroke-width="1" transform="translate(1049.8,269.4) rotate(-139.1)"/>
<circle cx="1065.9" cy="260.1" r="8" fill="url(#cylend)" stroke="#188a10" stroke-width="1"/>
<circle cx="1063.9" cy="258.1" r="1.1" fill="#8a7a10"/>
<circle cx="1067.9" cy="258.1" r="1.1" fill="#8a7a10"/>
<circle cx="1063.9" cy="262.1" r="1.1" fill="#8a7a10"/>
<circle cx="1067.9" cy="262.1" r="1.1" fill="#8a7a10"/>
<rect x="-9" y="-4" width="18" height="8" rx="3" fill="#48c838" stroke="#2a9a20" stroke-width="1" transform="translate(1081.9,250.9) rotate(-113.4)"/>
<circle cx="1098.0" cy="241.6" r="8" fill="url(#cylend)" stroke="#188a10" stroke-width="1"/>
<circle cx="1096.0" cy="239.6" r="1.1" fill="#8a7a10"/>
<circle cx="1100.0" cy="239.6" r="1.1" fill="#8a7a10"/>
<circle cx="1096.0" cy="243.6" r="1.1" fill="#8a7a10"/>
<circle cx="1100.0" cy="243.6" r="1.1" fill="#8a7a10"/>
<rect x="-9" y="-4" width="18" height="8" rx="3" fill="#48c838" stroke="#2a9a20" stroke-width="1" transform="translate(1114.0,232.4) rotate(-90.0)"/>
<circle cx="1130.0" cy="241.6" r="8" fill="url(#cylend)" stroke="#188a10" stroke-width="1"/>
<circle cx="1128.0" cy="239.6" r="1.1" fill="#8a7a10"/>
<circle cx="1132.0" cy="239.6" r="1.1" fill="#8a7a10"/>
<circle cx="1128.0" cy="243.6" r="1.1" fill="#8a7a10"/>
<circle cx="1132.0" cy="243.6" r="1.1" fill="#8a7a10"/>
<rect x="-9" y="-4" width="18" height="8" rx="3" fill="#48c838" stroke="#2a9a20" stroke-width="1" transform="translate(1146.1,250.9) rotate(-66.6)"/>
<circle cx="1162.1" cy="260.1" r="8" fill="url(#cylend)" stroke="#188a10" stroke-width="1"/>
<circle cx="1160.1" cy="258.1" r="1.1" fill="#8a7a10"/>
<circle cx="1164.1" cy="258.1" r="1.1" fill="#8a7a10"/>
<circle cx="1160.1" cy="262.1" r="1.1" fill="#8a7a10"/>
<circle cx="1164.1" cy="262.1" r="1.1" fill="#8a7a10"/>
<rect x="-9" y="-4" width="18" height="8" rx="3" fill="#48c838" stroke="#2a9a20" stroke-width="1" transform="translate(1178.2,269.4) rotate(-40.9)"/>
<circle cx="1194.2" cy="278.7" r="8" fill="url(#cylend)" stroke="#188a10" stroke-width="1"/>
<circle cx="1192.2" cy="276.7" r="1.1" fill="#8a7a10"/>
<circle cx="1196.2" cy="276.7" r="1.1" fill="#8a7a10"/>
<circle cx="1192.2" cy="280.7" r="1.1" fill="#8a7a10"/>
<circle cx="1196.2" cy="280.7" r="1.1" fill="#8a7a10"/>
<rect x="-9" y="-4" width="18" height="8" rx="3" fill="#48c838" stroke="#2a9a20" stroke-width="1" transform="translate(1194.2,297.2) rotate(-19.1)"/>
<circle cx="1194.2" cy="315.7" r="8" fill="url(#cylend)" stroke="#188a10" stroke-width="1"/>
<circle cx="1192.2" cy="313.7" r="1.1" fill="#8a7a10"/>
<circle cx="1196.2" cy="313.7" r="1.1" fill="#8a7a10"/>
<circle cx="1192.2" cy="317.7" r="1.1" fill="#8a7a10"/>
<circle cx="1196.2" cy="317.7" r="1.1" fill="#8a7a10"/>
<rect x="-9" y="-4" width="18" height="8" rx="3" fill="#48c838" stroke="#2a9a20" stroke-width="1" transform="translate(1194.2,334.3) rotate(6.6)"/>
<circle cx="1194.2" cy="352.8" r="8" fill="url(#cylend)" stroke="#188a10" stroke-width="1"/>
<circle cx="1192.2" cy="350.8" r="1.1" fill="#8a7a10"/>
<circle cx="1196.2" cy="350.8" r="1.1" fill="#8a7a10"/>
<circle cx="1192.2" cy="354.8" r="1.1" fill="#8a7a10"/>
<circle cx="1196.2" cy="354.8" r="1.1" fill="#8a7a10"/>
<rect x="-9" y="-4" width="18" height="8" rx="3" fill="#48c838" stroke="#2a9a20" stroke-width="1" transform="translate(1194.2,371.3) rotate(30.0)"/>
<circle cx="1178.2" cy="380.6" r="8" fill="url(#cylend)" stroke="#188a10" stroke-width="1"/>
<circle cx="1176.2" cy="378.6" r="1.1" fill="#8a7a10"/>
<circle cx="1180.2" cy="378.6" r="1.1" fill="#8a7a10"/>
<circle cx="1176.2" cy="382.6" r="1.1" fill="#8a7a10"/>
<circle cx="1180.2" cy="382.6" r="1.1" fill="#8a7a10"/>
<rect x="-9" y="-4" width="18" height="8" rx="3" fill="#48c838" stroke="#2a9a20" stroke-width="1" transform="translate(1162.1,389.9) rotate(53.4)"/>
<circle cx="1146.1" cy="399.1" r="8" fill="url(#cylend)" stroke="#188a10" stroke-width="1"/>
<circle cx="1144.1" cy="397.1" r="1.1" fill="#8a7a10"/>
<circle cx="1148.1" cy="397.1" r="1.1" fill="#8a7a10"/>
<circle cx="1144.1" cy="401.1" r="1.1" fill="#8a7a10"/>
<circle cx="1148.1" cy="401.1" r="1.1" fill="#8a7a10"/>
<rect x="-9" y="-4" width="18" height="8" rx="3" fill="#48c838" stroke="#2a9a20" stroke-width="1" transform="translate(1130.0,408.4) rotate(79.1)"/>
<polyline points="1114.0,417.6 1111.2,421.7 1108.3,420.0 1106.0,413.0 1104.0,406.2 1101.4,404.7 1098.0,408.4 1094.1,411.8 1091.3,410.2 1089.9,403.8 1088.9,397.5 1086.4,396.0 1081.9,399.1 1077.1,402.0 1074.3,400.4 1073.9,394.5 1073.8,388.8 1071.3,387.3 1065.9,389.9 1060.1,392.2 1057.2,390.5 1057.8,385.2 1058.8,380.1 1056.2,378.6 1049.8,380.6 1043.0,382.3 1040.2,380.7 1041.8,376.0 1043.7,371.4 1041.2,369.9 1033.8,371.3 1028.9,370.9 1028.9,367.6 1033.8,362.1 1038.7,356.9 1038.7,354.0 1033.8,352.8 1028.9,351.2 1028.9,347.9 1033.8,343.5 1038.7,339.5 1038.7,336.6 1033.8,334.3 1028.9,331.6 1028.9,328.3 1033.8,325.0 1038.7,322.1 1038.7,319.2 1033.8,315.7 1028.9,311.9 1028.9,308.6 1033.8,306.5 1038.7,304.7 1038.7,301.8 1033.8,297.2 1028.9,292.2 1028.9,289.0 1033.8,287.9 1038.7,287.3 1038.7,284.4 1033.8,278.7 1031.7,274.2 1034.5,272.6 1041.8,274.0 1048.7,275.7 1051.2,274.3 1049.8,269.4 1048.7,264.4 1051.6,262.7 1057.8,264.8 1063.8,267.0 1066.3,265.6 1065.9,260.1 1065.8,254.5 1068.6,252.9 1073.9,255.5 1078.8,258.3 1081.4,256.9 1081.9,250.9 1082.8,244.7 1085.6,243.1 1089.9,246.2 1093.9,249.6 1096.4,248.2 1098.0,241.6 1099.8,234.9 1102.6,233.2 1106.0,237.0 1109.0,240.9 1111.5,239.5 1114.0,232.3 1116.8,228.3 1119.7,230.0 1122.0,237.0 1124.0,243.8 1126.6,245.3 1130.0,241.6 1133.9,238.2 1136.7,239.8 1138.1,246.2 1139.1,252.5 1141.6,254.0 1146.1,250.9 1150.9,248.0 1153.7,249.6 1154.1,255.5 1154.2,261.2 1156.7,262.7 1162.1,260.1 1167.9,257.8 1170.8,259.5 1170.2,264.8 1169.2,269.9 1171.8,271.4 1178.2,269.4 1185.0,267.7 1187.8,269.3 1186.2,274.0 1184.3,278.6 1186.8,280.1 1194.2,278.7 1199.1,279.1 1199.1,282.4 1194.2,287.9 1189.3,293.1 1189.3,296.0 1194.2,297.2 1199.1,298.8 1199.1,302.1 1194.2,306.5 1189.3,310.5 1189.3,313.4 1194.2,315.7 1199.1,318.4 1199.1,321.7 1194.2,325.0 1189.3,327.9 1189.3,330.8 1194.2,334.3 1199.1,338.1 1199.1,341.4 1194.2,343.5 1189.3,345.3 1189.3,348.2 1194.2,352.8 1199.1,357.8 1199.1,361.0 1194.2,362.1 1189.3,362.7 1189.3,365.6 1194.2,371.3 1196.3,375.8 1193.5,377.4 1186.2,376.0 1179.3,374.3 1176.8,375.7 1178.2,380.6 1179.3,385.6 1176.4,387.3 1170.2,385.2 1164.2,383.0 1161.7,384.4 1162.1,389.9 1162.2,395.5 1159.4,397.1 1154.1,394.5 1149.2,391.7 1146.6,393.1 1146.1,399.1 1145.2,405.3 1142.4,406.9 1138.1,403.8 1134.1,400.4 1131.6,401.8 1130.0,408.4 1128.2,415.1 1125.4,416.8 1122.0,413.0 1119.0,409.1 1116.5,410.5 1114.0,417.7" fill="none" stroke="#e068d0" stroke-width="2.4" opacity="0.9"/>
<circle cx="1303.0" cy="414.2" r="8" fill="url(#cylend)" stroke="#188a10" stroke-width="1"/>
<circle cx="1301.0" cy="412.2" r="1.1" fill="#8a7a10"/>
<circle cx="1305.0" cy="412.2" r="1.1" fill="#8a7a10"/>
<circle cx="1301.0" cy="416.2" r="1.1" fill="#8a7a10"/>
<circle cx="1305.0" cy="416.2" r="1.1" fill="#8a7a10"/>
<rect x="-9" y="-4" width="18" height="8" rx="3" fill="#48c838" stroke="#2a9a20" stroke-width="1" transform="translate(1287.5,405.3) rotate(100.9)"/>
<circle cx="1272.1" cy="396.4" r="8" fill="url(#cylend)" stroke="#188a10" stroke-width="1"/>
<circle cx="1270.1" cy="394.4" r="1.1" fill="#8a7a10"/>
<circle cx="1274.1" cy="394.4" r="1.1" fill="#8a7a10"/>
<circle cx="1270.1" cy="398.4" r="1.1" fill="#8a7a10"/>
<circle cx="1274.1" cy="398.4" r="1.1" fill="#8a7a10"/>
<rect x="-9" y="-4" width="18" height="8" rx="3" fill="#48c838" stroke="#2a9a20" stroke-width="1" transform="translate(1256.6,387.5) rotate(126.6)"/>
<circle cx="1241.2" cy="378.6" r="8" fill="url(#cylend)" stroke="#188a10" stroke-width="1"/>
<circle cx="1239.2" cy="376.6" r="1.1" fill="#8a7a10"/>
<circle cx="1243.2" cy="376.6" r="1.1" fill="#8a7a10"/>
<circle cx="1239.2" cy="380.6" r="1.1" fill="#8a7a10"/>
<circle cx="1243.2" cy="380.6" r="1.1" fill="#8a7a10"/>
<rect x="-9" y="-4" width="18" height="8" rx="3" fill="#48c838" stroke="#2a9a20" stroke-width="1" transform="translate(1225.7,369.6) rotate(150.0)"/>
<circle cx="1225.7" cy="351.8" r="8" fill="url(#cylend)" stroke="#188a10" stroke-width="1"/>
<circle cx="1223.7" cy="349.8" r="1.1" fill="#8a7a10"/>
<circle cx="1227.7" cy="349.8" r="1.1" fill="#8a7a10"/>
<circle cx="1223.7" cy="353.8" r="1.1" fill="#8a7a10"/>
<circle cx="1227.7" cy="353.8" r="1.1" fill="#8a7a10"/>
<rect x="-9" y="-4" width="18" height="8" rx="3" fill="#48c838" stroke="#2a9a20" stroke-width="1" transform="translate(1225.7,333.9) rotate(173.4)"/>
<circle cx="1225.7" cy="316.1" r="8" fill="url(#cylend)" stroke="#188a10" stroke-width="1"/>
<circle cx="1223.7" cy="314.1" r="1.1" fill="#8a7a10"/>
<circle cx="1227.7" cy="314.1" r="1.1" fill="#8a7a10"/>
<circle cx="1223.7" cy="318.1" r="1.1" fill="#8a7a10"/>
<circle cx="1227.7" cy="318.1" r="1.1" fill="#8a7a10"/>
<rect x="-9" y="-4" width="18" height="8" rx="3" fill="#48c838" stroke="#2a9a20" stroke-width="1" transform="translate(1225.7,298.2) rotate(-160.9)"/>
<circle cx="1225.7" cy="280.4" r="8" fill="url(#cylend)" stroke="#188a10" stroke-width="1"/>
<circle cx="1223.7" cy="278.4" r="1.1" fill="#8a7a10"/>
<circle cx="1227.7" cy="278.4" r="1.1" fill="#8a7a10"/>
<circle cx="1223.7" cy="282.4" r="1.1" fill="#8a7a10"/>
<circle cx="1227.7" cy="282.4" r="1.1" fill="#8a7a10"/>
<rect x="-9" y="-4" width="18" height="8" rx="3" fill="#48c838" stroke="#2a9a20" stroke-width="1" transform="translate(1241.2,271.4) rotate(-139.1)"/>
<circle cx="1256.6" cy="262.5" r="8" fill="url(#cylend)" stroke="#188a10" stroke-width="1"/>
<circle cx="1254.6" cy="260.5" r="1.1" fill="#8a7a10"/>
<circle cx="1258.6" cy="260.5" r="1.1" fill="#8a7a10"/>
<circle cx="1254.6" cy="264.5" r="1.1" fill="#8a7a10"/>
<circle cx="1258.6" cy="264.5" r="1.1" fill="#8a7a10"/>
<rect x="-9" y="-4" width="18" height="8" rx="3" fill="#48c838" stroke="#2a9a20" stroke-width="1" transform="translate(1272.1,253.6) rotate(-113.4)"/>
<circle cx="1287.5" cy="244.7" r="8" fill="url(#cylend)" stroke="#188a10" stroke-width="1"/>
<circle cx="1285.5" cy="242.7" r="1.1" fill="#8a7a10"/>
<circle cx="1289.5" cy="242.7" r="1.1" fill="#8a7a10"/>
<circle cx="1285.5" cy="246.7" r="1.1" fill="#8a7a10"/>
<circle cx="1289.5" cy="246.7" r="1.1" fill="#8a7a10"/>
<rect x="-9" y="-4" width="18" height="8" rx="3" fill="#48c838" stroke="#2a9a20" stroke-width="1" transform="translate(1303.0,235.8) rotate(-90.0)"/>
<circle cx="1318.5" cy="244.7" r="8" fill="url(#cylend)" stroke="#188a10" stroke-width="1"/>
<circle cx="1316.5" cy="242.7" r="1.1" fill="#8a7a10"/>
<circle cx="1320.5" cy="242.7" r="1.1" fill="#8a7a10"/>
<circle cx="1316.5" cy="246.7" r="1.1" fill="#8a7a10"/>
<circle cx="1320.5" cy="246.7" r="1.1" fill="#8a7a10"/>
<rect x="-9" y="-4" width="18" height="8" rx="3" fill="#48c838" stroke="#2a9a20" stroke-width="1" transform="translate(1333.9,253.6) rotate(-66.6)"/>
<circle cx="1349.4" cy="262.5" r="8" fill="url(#cylend)" stroke="#188a10" stroke-width="1"/>
<circle cx="1347.4" cy="260.5" r="1.1" fill="#8a7a10"/>
<circle cx="1351.4" cy="260.5" r="1.1" fill="#8a7a10"/>
<circle cx="1347.4" cy="264.5" r="1.1" fill="#8a7a10"/>
<circle cx="1351.4" cy="264.5" r="1.1" fill="#8a7a10"/>
<rect x="-9" y="-4" width="18" height="8" rx="3" fill="#48c838" stroke="#2a9a20" stroke-width="1" transform="translate(1364.8,271.4) rotate(-40.9)"/>
<circle cx="1380.3" cy="280.4" r="8" fill="url(#cylend)" stroke="#188a10" stroke-width="1"/>
<circle cx="1378.3" cy="278.4" r="1.1" fill="#8a7a10"/>
<circle cx="1382.3" cy="278.4" r="1.1" fill="#8a7a10"/>
<circle cx="1378.3" cy="282.4" r="1.1" fill="#8a7a10"/>
<circle cx="1382.3" cy="282.4" r="1.1" fill="#8a7a10"/>
<rect x="-9" y="-4" width="18" height="8" rx="3" fill="#48c838" stroke="#2a9a20" stroke-width="1" transform="translate(1380.3,298.2) rotate(-19.1)"/>
<circle cx="1380.3" cy="316.1" r="8" fill="url(#cylend)" stroke="#188a10" stroke-width="1"/>
<circle cx="1378.3" cy="314.1" r="1.1" fill="#8a7a10"/>
<circle cx="1382.3" cy="314.1" r="1.1" fill="#8a7a10"/>
<circle cx="1378.3" cy="318.1" r="1.1" fill="#8a7a10"/>
<circle cx="1382.3" cy="318.1" r="1.1" fill="#8a7a10"/>
<rect x="-9" y="-4" width="18" height="8" rx="3" fill="#48c838" stroke="#2a9a20" stroke-width="1" transform="translate(1380.3,333.9) rotate(6.6)"/>
<circle cx="1380.3" cy="351.8" r="8" fill="url(#cylend)" stroke="#188a10" stroke-width="1"/>
<circle cx="1378.3" cy="349.8" r="1.1" fill="#8a7a10"/>
<circle cx="1382.3" cy="349.8" r="1.1" fill="#8a7a10"/>
<circle cx="1378.3" cy="353.8" r="1.1" fill="#8a7a10"/>
<circle cx="1382.3" cy="353.8" r="1.1" fill="#8a7a10"/>
<rect x="-9" y="-4" width="18" height="8" rx="3" fill="#48c838" stroke="#2a9a20" stroke-width="1" transform="translate(1380.3,369.6) rotate(30.0)"/>
<circle cx="1364.8" cy="378.6" r="8" fill="url(#cylend)" stroke="#188a10" stroke-width="1"/>
<circle cx="1362.8" cy="376.6" r="1.1" fill="#8a7a10"/>
<circle cx="1366.8" cy="376.6" r="1.1" fill="#8a7a10"/>
<circle cx="1362.8" cy="380.6" r="1.1" fill="#8a7a10"/>
<circle cx="1366.8" cy="380.6" r="1.1" fill="#8a7a10"/>
<rect x="-9" y="-4" width="18" height="8" rx="3" fill="#48c838" stroke="#2a9a20" stroke-width="1" transform="translate(1349.4,387.5) rotate(53.4)"/>
<circle cx="1333.9" cy="396.4" r="8" fill="url(#cylend)" stroke="#188a10" stroke-width="1"/>
<circle cx="1331.9" cy="394.4" r="1.1" fill="#8a7a10"/>
<circle cx="1335.9" cy="394.4" r="1.1" fill="#8a7a10"/>
<circle cx="1331.9" cy="398.4" r="1.1" fill="#8a7a10"/>
<circle cx="1335.9" cy="398.4" r="1.1" fill="#8a7a10"/>
<rect x="-9" y="-4" width="18" height="8" rx="3" fill="#48c838" stroke="#2a9a20" stroke-width="1" transform="translate(1318.5,405.3) rotate(79.1)"/>
<polyline points="1303.0,414.2 1300.3,418.1 1297.5,416.5 1295.3,409.8 1293.3,403.2 1290.9,401.8 1287.5,405.3 1283.9,408.7 1281.1,407.1 1279.8,400.9 1278.8,394.8 1276.4,393.4 1272.1,396.4 1267.5,399.2 1264.7,397.6 1264.4,391.9 1264.3,386.4 1261.9,385.1 1256.6,387.5 1251.1,389.7 1248.3,388.1 1248.9,383.0 1249.8,378.1 1247.4,376.7 1241.2,378.5 1234.7,380.2 1231.9,378.7 1233.4,374.1 1235.3,369.7 1232.9,368.3 1225.7,369.6 1221.0,369.2 1221.0,366.0 1225.7,360.7 1230.4,355.7 1230.4,352.9 1225.7,351.8 1221.0,350.3 1221.0,347.1 1225.7,342.9 1230.4,339.0 1230.4,336.2 1225.7,333.9 1221.0,331.3 1221.0,328.2 1225.7,325.0 1230.4,322.2 1230.4,319.4 1225.7,316.1 1221.0,312.4 1221.0,309.2 1225.7,307.1 1230.4,305.4 1230.4,302.7 1225.7,298.2 1221.0,293.4 1221.0,290.3 1225.7,289.3 1230.4,288.7 1230.4,285.9 1225.7,280.4 1223.7,276.1 1226.5,274.5 1233.4,275.9 1240.1,277.5 1242.5,276.1 1241.2,271.4 1240.1,266.6 1242.9,265.0 1248.9,267.0 1254.6,269.1 1257.0,267.7 1256.6,262.5 1256.5,257.1 1259.3,255.5 1264.4,258.1 1269.1,260.8 1271.6,259.4 1272.1,253.6 1272.9,247.7 1275.7,246.1 1279.8,249.1 1283.6,252.4 1286.1,251.0 1287.5,244.7 1289.3,238.2 1292.1,236.6 1295.3,240.2 1298.2,244.0 1300.6,242.6 1303.0,235.8 1305.7,231.9 1308.5,233.5 1310.7,240.2 1312.7,246.8 1315.1,248.2 1318.5,244.7 1322.1,241.3 1324.9,242.9 1326.2,249.1 1327.2,255.2 1329.6,256.6 1333.9,253.6 1338.5,250.8 1341.3,252.4 1341.6,258.1 1341.7,263.6 1344.1,264.9 1349.4,262.5 1354.9,260.3 1357.7,261.9 1357.1,267.0 1356.2,271.9 1358.6,273.3 1364.8,271.4 1371.3,269.8 1374.1,271.3 1372.6,275.9 1370.7,280.3 1373.1,281.7 1380.3,280.4 1385.0,280.8 1385.0,284.0 1380.3,289.3 1375.6,294.3 1375.6,297.1 1380.3,298.2 1385.0,299.7 1385.0,302.9 1380.3,307.1 1375.6,311.0 1375.6,313.8 1380.3,316.1 1385.0,318.7 1385.0,321.8 1380.3,325.0 1375.6,327.8 1375.6,330.6 1380.3,333.9 1385.0,337.6 1385.0,340.8 1380.3,342.9 1375.6,344.6 1375.6,347.3 1380.3,351.8 1385.0,356.6 1385.0,359.7 1380.3,360.7 1375.6,361.3 1375.6,364.1 1380.3,369.6 1382.3,373.9 1379.5,375.5 1372.6,374.1 1365.9,372.5 1363.5,373.9 1364.8,378.5 1365.9,383.4 1363.1,385.0 1357.1,383.0 1351.4,380.9 1349.0,382.3 1349.4,387.5 1349.5,392.9 1346.7,394.5 1341.6,391.9 1336.9,389.2 1334.4,390.6 1333.9,396.4 1333.1,402.3 1330.3,403.9 1326.2,400.9 1322.4,397.6 1319.9,399.0 1318.5,405.3 1316.7,411.8 1313.9,413.4 1310.7,409.8 1307.8,406.0 1305.4,407.4 1303.0,414.3" fill="none" stroke="#e068d0" stroke-width="2.4" opacity="0.9"/>
<text x="1382" y="104.6" font-size="47" text-anchor="start" fill="#000" textLength="137" lengthAdjust="spacingAndGlyphs" >Middle</text>
<text x="1382" y="158.6" font-size="47" text-anchor="start" fill="#000" textLength="139" lengthAdjust="spacingAndGlyphs" >lamella</text>
<text x="1405" y="257.5" font-size="47" text-anchor="start" fill="#000" textLength="175" lengthAdjust="spacingAndGlyphs" >Cellulose</text>
<text x="1437" y="384" font-size="47" text-anchor="start" fill="#000" textLength="118" lengthAdjust="spacingAndGlyphs" >Pectin</text>
<text x="1085" y="475" font-size="47" text-anchor="start" fill="#000" textLength="361" lengthAdjust="spacingAndGlyphs" >Plasma membrane</text>
<path d="M1346.0,73.0 L1303.0,104.0 M1310.6,89.9 L1303.0,104.0 L1318.8,101.2" stroke="#000" stroke-width="3.2" fill="none" stroke-linecap="round" stroke-linejoin="miter"/>
<path d="M1396.0,216.0 L1296.0,156.0 M1311.9,157.4 L1296.0,156.0 L1304.8,169.4" stroke="#000" stroke-width="3.2" fill="none" stroke-linecap="round" stroke-linejoin="miter"/>
<path d="M1428.0,345.0 L1358.6,263.0 M1373.2,269.5 L1358.6,263.0 L1362.6,278.5" stroke="#000" stroke-width="3.2" fill="none" stroke-linecap="round" stroke-linejoin="miter"/>
<path d="M1192.5,438.0 L1182.0,347.0 M1190.6,360.5 L1182.0,347.0 L1176.7,362.1" stroke="#000" stroke-width="3.2" fill="none" stroke-linecap="round" stroke-linejoin="miter"/>
<path d="M1630,130 C1635,80 1700,75 1703,120 C1708,200 1705,300 1698,360 C1692,400 1640,405 1632,370 C1625,300 1625,200 1630,130 Z" fill="url(#capg)"/>
<path d="M1958,160 C1965,110 2030,105 2031,150 C2030,250 2020,330 2000,390 C1985,430 1935,430 1935,390 C1935,300 1945,220 1958,160 Z" fill="url(#capg)"/>
<path d="M1648,130 C1650,110 1658,105 1660,120 C1656,200 1652,300 1650,370" stroke="#f0fff0" stroke-width="8" fill="none" opacity="0.6" filter="url(#blur3)"/>
<path d="M1699,134 L1702,167.6" stroke="#a8a8a8" stroke-width="3.5"/>
<path d="M1702,167.6 L1734,181.7" stroke="#a8a8a8" stroke-width="3.5"/>
<path d="M1734,181.7 L1754,162" stroke="#a8a8a8" stroke-width="3.5"/>
<path d="M1734,181.7 L1738.5,216.8" stroke="#a8a8a8" stroke-width="3.5"/>
<path d="M1738.5,216.8 L1711.8,240.7" stroke="#a8a8a8" stroke-width="3.5"/>
<path d="M1738.5,216.8 L1768,236.5" stroke="#a8a8a8" stroke-width="3.5"/>
<path d="M1768,236.5 L1773.7,225" stroke="#a8a8a8" stroke-width="3.5"/>
<path d="M1768,236.5 L1801.8,230.8" stroke="#a8a8a8" stroke-width="3.5"/>
<path d="M1711.8,240.7 L1725.9,273" stroke="#a8a8a8" stroke-width="3.5"/>
<path d="M1725.9,273 L1761,268.8" stroke="#a8a8a8" stroke-width="3.5"/>
<path d="M1761,268.8 L1768,236.5" stroke="#a8a8a8" stroke-width="3.5"/>
<path d="M1761,268.8 L1759.6,282.9" stroke="#a8a8a8" stroke-width="3.5"/>
<path d="M1725.9,273 L1706,304" stroke="#a8a8a8" stroke-width="3.5"/>
<path d="M1706,304 L1672.5,304" stroke="#a8a8a8" stroke-width="3.5"/>
<path d="M1672.5,304 L1658,285.7" stroke="#a8a8a8" stroke-width="3.5"/>
<path d="M1672.5,304 L1661,343" stroke="#a8a8a8" stroke-width="3.5"/>
<path d="M1761,268.8 L1790.5,287" stroke="#a8a8a8" stroke-width="3.5"/>
<path d="M1790.5,287 L1818.6,263" stroke="#a8a8a8" stroke-width="3.5"/>
<path d="M1801.8,230.8 L1818.6,263" stroke="#a8a8a8" stroke-width="3.5"/>
<path d="M1818.6,263 L1844,239" stroke="#a8a8a8" stroke-width="3.5"/>
<path d="M1818.6,263 L1831,295.5" stroke="#a8a8a8" stroke-width="3.5"/>
<path d="M1844,239 L1875,257.6" stroke="#a8a8a8" stroke-width="3.5"/>
<path d="M1831,295.5 L1867.8,292.7" stroke="#a8a8a8" stroke-width="3.5"/>
<path d="M1875,257.6 L1908.6,253" stroke="#a8a8a8" stroke-width="3.5"/>
<path d="M1908.6,253 L1927,223.8" stroke="#a8a8a8" stroke-width="3.5"/>
<path d="M1927,223.8 L1917,195.7" stroke="#a8a8a8" stroke-width="3.5"/>
<path d="M1908.6,253 L1922.7,285.7" stroke="#a8a8a8" stroke-width="3.5"/>
<path d="M1875,257.6 L1867.8,292.7" stroke="#a8a8a8" stroke-width="3.5"/>
<path d="M1867.8,292.7 L1853.8,306.8" stroke="#a8a8a8" stroke-width="3.5"/>
<path d="M1867.8,292.7 L1897,312.4" stroke="#a8a8a8" stroke-width="3.5"/>
<path d="M1897,312.4 L1922.7,285.7" stroke="#a8a8a8" stroke-width="3.5"/>
<path d="M1897,312.4 L1900,343" stroke="#a8a8a8" stroke-width="3.5"/>
<path d="M1900,343 L1928,360" stroke="#a8a8a8" stroke-width="3.5"/>
<path d="M1928,360 L1928,399.5" stroke="#a8a8a8" stroke-width="3.5"/>
<circle cx="1699" cy="134" r="13.5" fill="url(#atN)"/>
<circle cx="1702" cy="167.6" r="10.5" fill="url(#atO)"/>
<circle cx="1734" cy="181.7" r="14" fill="url(#atC)"/>
<circle cx="1754" cy="162" r="7" fill="url(#atH)"/>
<circle cx="1738.5" cy="216.8" r="14" fill="url(#atC)"/>
<circle cx="1711.8" cy="240.7" r="10.5" fill="url(#atO)"/>
<circle cx="1768" cy="236.5" r="14" fill="url(#atC)"/>
<circle cx="1773.7" cy="225" r="7" fill="url(#atH)"/>
<circle cx="1801.8" cy="230.8" r="10.5" fill="url(#atO)"/>
<circle cx="1725.9" cy="273" r="14" fill="url(#atC)"/>
<circle cx="1761" cy="268.8" r="14" fill="url(#atC)"/>
<circle cx="1759.6" cy="282.9" r="7" fill="url(#atH)"/>
<circle cx="1706" cy="304" r="10.5" fill="url(#atO)"/>
<circle cx="1672.5" cy="304" r="14" fill="url(#atC)"/>
<circle cx="1658" cy="285.7" r="7" fill="url(#atH)"/>
<circle cx="1661" cy="343" r="7" fill="url(#atH)"/>
<circle cx="1790.5" cy="287" r="10.5" fill="url(#atO)"/>
<circle cx="1818.6" cy="263" r="13.5" fill="url(#atB)"/>
<circle cx="1844" cy="239" r="10.5" fill="url(#atO)"/>
<circle cx="1831" cy="295.5" r="10.5" fill="url(#atO)"/>
<circle cx="1875" cy="257.6" r="14" fill="url(#atC)"/>
<circle cx="1908.6" cy="253" r="14" fill="url(#atC)"/>
<circle cx="1927" cy="223.8" r="14" fill="url(#atC)"/>
<circle cx="1917" cy="195.7" r="7" fill="url(#atH)"/>
<circle cx="1922.7" cy="285.7" r="10.5" fill="url(#atO)"/>
<circle cx="1867.8" cy="292.7" r="14" fill="url(#atC)"/>
<circle cx="1853.8" cy="306.8" r="7" fill="url(#atH)"/>
<circle cx="1897" cy="312.4" r="14" fill="url(#atC)"/>
<circle cx="1900" cy="343" r="10.5" fill="url(#atO)"/>
<circle cx="1928" cy="360" r="14" fill="url(#atC)"/>
<circle cx="1928" cy="399.5" r="7" fill="url(#atH)"/>
<path d="M1958,160 C1965,110 2030,105 2031,150 C2030,250 2020,330 2000,390 C1985,430 1935,430 1935,390 C1935,300 1945,220 1958,160 Z" fill="url(#capg)"/>
<path d="M1972,170 C1975,140 1985,130 1990,140 C1980,200 1970,300 1958,380" stroke="#e8ffe0" stroke-width="7" fill="none" opacity="0.6" filter="url(#blur3)"/>
<text x="1751" y="368.6" font-size="47" text-anchor="start" fill="#000" textLength="129.5" lengthAdjust="spacingAndGlyphs" >Borate</text>
<text x="1650" y="472.6" font-size="47" text-anchor="start" fill="#000" textLength="310.6" lengthAdjust="spacingAndGlyphs" >Thin-walled cell</text>
<path d="M1716.0,412.0 L1683.7,358.8 M1697.1,367.5 L1683.7,358.8 L1685.2,374.7" stroke="#000" stroke-width="3.2" fill="none" stroke-linecap="round" stroke-linejoin="miter"/>
<path d="M130,933.5 L470,933.5 C540,936 560,975 600,981.7 L715,981.7 L715,1211.8 L600,1211.8 C560,1218 540,1258 470,1261 L130,1261 Z" fill="url(#tubeg)" stroke="#9a9a9a" stroke-width="2"/>
<path d="M130,998 L480,998 C530,1000 545,1026 575,1029 L715,1029 L715,1166 L575,1166 C545,1169 530,1193 480,1195 L130,1195 Z" fill="url(#cyang)" stroke="#2fd6d6" stroke-width="3"/>
<path d="M562,1031 L562,1164" stroke="#7eeeee" stroke-width="3"/>
<path d="M715,1016 L754,1109 L715,1202 Z" fill="url(#coneg)"/>
<polygon points="164.6,988.0 154.2,982.0 154.2,970.0 164.6,964.0 175.0,970.0 175.0,982.0" fill="url(#hexg)" stroke="#2d8a3a" stroke-width="2"/>
<polygon points="227.4,980.4 217.0,974.4 217.0,962.4 227.4,956.4 237.8,962.4 237.8,974.4" fill="url(#hexg)" stroke="#2d8a3a" stroke-width="2"/>
<polygon points="280.6,991.8 270.2,985.8 270.2,973.8 280.6,967.8 291.0,973.8 291.0,985.8" fill="url(#hexg)" stroke="#2d8a3a" stroke-width="2"/>
<polygon points="328.1,972.8 317.7,966.8 317.7,954.8 328.1,948.8 338.5,954.8 338.5,966.8" fill="url(#hexg)" stroke="#2d8a3a" stroke-width="2"/>
<polygon points="383.3,982.3 372.9,976.3 372.9,964.3 383.3,958.3 393.7,964.3 393.7,976.3" fill="url(#hexg)" stroke="#2d8a3a" stroke-width="2"/>
<polygon points="425.1,965.2 414.7,959.2 414.7,947.2 425.1,941.2 435.5,947.2 435.5,959.2" fill="url(#hexg)" stroke="#2d8a3a" stroke-width="2"/>
<polygon points="449.8,997.6 439.4,991.6 439.4,979.6 449.8,973.6 460.2,979.6 460.2,991.6" fill="url(#hexg)" stroke="#2d8a3a" stroke-width="2"/>
<polygon points="499.2,984.2 488.8,978.2 488.8,966.2 499.2,960.2 509.6,966.2 509.6,978.2" fill="url(#hexg)" stroke="#2d8a3a" stroke-width="2"/>
<polygon points="533.5,1012.8 523.1,1006.8 523.1,994.8 533.5,988.8 543.9,994.8 543.9,1006.8" fill="url(#hexg)" stroke="#2d8a3a" stroke-width="2"/>
<polygon points="607.6,1022.3 597.2,1016.3 597.2,1004.3 607.6,998.3 618.0,1004.3 618.0,1016.3" fill="url(#hexg)" stroke="#2d8a3a" stroke-width="2"/>
<polygon points="681.7,1026.1 671.4,1020.1 671.4,1008.1 681.7,1002.1 692.1,1008.1 692.1,1020.1" fill="url(#hexg)" stroke="#2d8a3a" stroke-width="2"/>
<polygon points="164.6,1233.3 154.2,1227.3 154.2,1215.3 164.6,1209.3 175.0,1215.3 175.0,1227.3" fill="url(#hexg)" stroke="#2d8a3a" stroke-width="2"/>
<polygon points="212.2,1223.8 201.8,1217.8 201.8,1205.8 212.2,1199.8 222.6,1205.8 222.6,1217.8" fill="url(#hexg)" stroke="#2d8a3a" stroke-width="2"/>
<polygon points="254.0,1242.8 243.6,1236.8 243.6,1224.8 254.0,1218.8 264.4,1224.8 264.4,1236.8" fill="url(#hexg)" stroke="#2d8a3a" stroke-width="2"/>
<polygon points="295.8,1223.8 285.4,1217.8 285.4,1205.8 295.8,1199.8 306.2,1205.8 306.2,1217.8" fill="url(#hexg)" stroke="#2d8a3a" stroke-width="2"/>
<polygon points="341.4,1231.4 331.1,1225.4 331.1,1213.4 341.4,1207.4 351.8,1213.4 351.8,1225.4" fill="url(#hexg)" stroke="#2d8a3a" stroke-width="2"/>
<polygon points="390.9,1244.7 380.5,1238.7 380.5,1226.7 390.9,1220.7 401.3,1226.7 401.3,1238.7" fill="url(#hexg)" stroke="#2d8a3a" stroke-width="2"/>
<polygon points="427.0,1221.9 416.6,1215.9 416.6,1203.9 427.0,1197.9 437.4,1203.9 437.4,1215.9" fill="url(#hexg)" stroke="#2d8a3a" stroke-width="2"/>
<polygon points="455.5,1246.6 445.1,1240.6 445.1,1228.6 455.5,1222.6 465.9,1228.6 465.9,1240.6" fill="url(#hexg)" stroke="#2d8a3a" stroke-width="2"/>
<polygon points="487.8,1227.6 477.4,1221.6 477.4,1209.6 487.8,1203.6 498.2,1209.6 498.2,1221.6" fill="url(#hexg)" stroke="#2d8a3a" stroke-width="2"/>
<polygon points="533.5,1208.6 523.1,1202.6 523.1,1190.6 533.5,1184.6 543.9,1190.6 543.9,1202.6" fill="url(#hexg)" stroke="#2d8a3a" stroke-width="2"/>
<polygon points="600.0,1191.5 589.6,1185.5 589.6,1173.5 600.0,1167.5 610.4,1173.5 610.4,1185.5" fill="url(#hexg)" stroke="#2d8a3a" stroke-width="2"/>
<polygon points="643.7,1195.3 633.3,1189.3 633.3,1177.3 643.7,1171.3 654.1,1177.3 654.1,1189.3" fill="url(#hexg)" stroke="#2d8a3a" stroke-width="2"/>
<polygon points="683.7,1191.5 673.3,1185.5 673.3,1173.5 683.7,1167.5 694.0,1173.5 694.0,1185.5" fill="url(#hexg)" stroke="#2d8a3a" stroke-width="2"/>
<circle cx="136.1" cy="964.6" r="7" fill="url(#ballg)"/>
<circle cx="208.4" cy="957.0" r="7" fill="url(#ballg)"/>
<circle cx="191.3" cy="974.1" r="7" fill="url(#ballg)"/>
<circle cx="193.2" cy="993.2" r="7" fill="url(#ballg)"/>
<circle cx="231.2" cy="989.4" r="7" fill="url(#ballg)"/>
<circle cx="263.5" cy="960.8" r="7" fill="url(#ballg)"/>
<circle cx="257.8" cy="989.4" r="7" fill="url(#ballg)"/>
<circle cx="295.8" cy="962.7" r="7" fill="url(#ballg)"/>
<circle cx="314.8" cy="987.5" r="7" fill="url(#ballg)"/>
<circle cx="343.3" cy="981.7" r="7" fill="url(#ballg)"/>
<circle cx="358.6" cy="964.6" r="7" fill="url(#ballg)"/>
<circle cx="387.1" cy="953.2" r="7" fill="url(#ballg)"/>
<circle cx="421.3" cy="976.0" r="7" fill="url(#ballg)"/>
<circle cx="461.2" cy="964.6" r="7" fill="url(#ballg)"/>
<circle cx="474.5" cy="987.5" r="7" fill="url(#ballg)"/>
<circle cx="510.6" cy="995.1" r="7" fill="url(#ballg)"/>
<circle cx="537.3" cy="979.8" r="7" fill="url(#ballg)"/>
<circle cx="560.1" cy="998.9" r="7" fill="url(#ballg)"/>
<circle cx="636.1" cy="1017.9" r="7" fill="url(#ballg)"/>
<circle cx="657.0" cy="1010.3" r="7" fill="url(#ballg)"/>
<circle cx="714.1" cy="1010.3" r="7" fill="url(#ballg)"/>
<circle cx="147.5" cy="1230.8" r="7" fill="url(#ballg)"/>
<circle cx="162.7" cy="1247.9" r="7" fill="url(#ballg)"/>
<circle cx="197.0" cy="1227.0" r="7" fill="url(#ballg)"/>
<circle cx="229.3" cy="1236.5" r="7" fill="url(#ballg)"/>
<circle cx="263.5" cy="1211.8" r="7" fill="url(#ballg)"/>
<circle cx="284.4" cy="1236.5" r="7" fill="url(#ballg)"/>
<circle cx="324.3" cy="1242.2" r="7" fill="url(#ballg)"/>
<circle cx="316.7" cy="1213.7" r="7" fill="url(#ballg)"/>
<circle cx="366.2" cy="1244.1" r="7" fill="url(#ballg)"/>
<circle cx="390.9" cy="1211.8" r="7" fill="url(#ballg)"/>
<circle cx="434.6" cy="1246.0" r="7" fill="url(#ballg)"/>
<circle cx="465.0" cy="1209.9" r="7" fill="url(#ballg)"/>
<circle cx="516.3" cy="1228.9" r="7" fill="url(#ballg)"/>
<circle cx="533.5" cy="1215.6" r="7" fill="url(#ballg)"/>
<circle cx="563.9" cy="1204.2" r="7" fill="url(#ballg)"/>
<circle cx="619.0" cy="1190.9" r="7" fill="url(#ballg)"/>
<circle cx="658.9" cy="1192.8" r="7" fill="url(#ballg)"/>
<circle cx="706.5" cy="1196.6" r="7" fill="url(#ballg)"/>
<path d="M181.7,953.2 L179.8,942.4 L184.3,937.0" stroke="#e8b0b0" stroke-width="1.6" fill="none"/>
<circle cx="179.8" cy="942.4" r="3.6" fill="#e01818"/>
<circle cx="184.3" cy="937.0" r="2.4" fill="#ffffff" stroke="#bbb" stroke-width="0.5"/>
<path d="M181.7,953.2 L191.3,958.7 L192.5,965.6" stroke="#e8b0b0" stroke-width="1.6" fill="none"/>
<circle cx="191.3" cy="958.7" r="3.6" fill="#e01818"/>
<circle cx="192.5" cy="965.6" r="2.4" fill="#ffffff" stroke="#bbb" stroke-width="0.5"/>
<path d="M181.7,953.2 L172.2,958.7 L165.6,956.3" stroke="#e8b0b0" stroke-width="1.6" fill="none"/>
<circle cx="172.2" cy="958.7" r="3.6" fill="#e01818"/>
<circle cx="165.6" cy="956.3" r="2.4" fill="#ffffff" stroke="#bbb" stroke-width="0.5"/>
<circle cx="181.7" cy="953.2" r="4.2" fill="#f0b8b8"/>
<path d="M254.0,972.2 L252.1,961.4 L256.6,956.0" stroke="#e8b0b0" stroke-width="1.6" fill="none"/>
<circle cx="252.1" cy="961.4" r="3.6" fill="#e01818"/>
<circle cx="256.6" cy="956.0" r="2.4" fill="#ffffff" stroke="#bbb" stroke-width="0.5"/>
<path d="M254.0,972.2 L263.5,977.7 L264.7,984.6" stroke="#e8b0b0" stroke-width="1.6" fill="none"/>
<circle cx="263.5" cy="977.7" r="3.6" fill="#e01818"/>
<circle cx="264.7" cy="984.6" r="2.4" fill="#ffffff" stroke="#bbb" stroke-width="0.5"/>
<path d="M254.0,972.2 L244.5,977.7 L237.9,975.3" stroke="#e8b0b0" stroke-width="1.6" fill="none"/>
<circle cx="244.5" cy="977.7" r="3.6" fill="#e01818"/>
<circle cx="237.9" cy="975.3" r="2.4" fill="#ffffff" stroke="#bbb" stroke-width="0.5"/>
<circle cx="254.0" cy="972.2" r="4.2" fill="#f0b8b8"/>
<path d="M360.5,981.7 L358.5,970.9 L363.0,965.6" stroke="#e8b0b0" stroke-width="1.6" fill="none"/>
<circle cx="358.5" cy="970.9" r="3.6" fill="#e01818"/>
<circle cx="363.0" cy="965.6" r="2.4" fill="#ffffff" stroke="#bbb" stroke-width="0.5"/>
<path d="M360.5,981.7 L370.0,987.2 L371.2,994.1" stroke="#e8b0b0" stroke-width="1.6" fill="none"/>
<circle cx="370.0" cy="987.2" r="3.6" fill="#e01818"/>
<circle cx="371.2" cy="994.1" r="2.4" fill="#ffffff" stroke="#bbb" stroke-width="0.5"/>
<path d="M360.5,981.7 L350.9,987.2 L344.4,984.9" stroke="#e8b0b0" stroke-width="1.6" fill="none"/>
<circle cx="350.9" cy="987.2" r="3.6" fill="#e01818"/>
<circle cx="344.4" cy="984.9" r="2.4" fill="#ffffff" stroke="#bbb" stroke-width="0.5"/>
<circle cx="360.5" cy="981.7" r="4.2" fill="#f0b8b8"/>
<path d="M476.4,958.9 L474.5,948.1 L479.0,942.7" stroke="#e8b0b0" stroke-width="1.6" fill="none"/>
<circle cx="474.5" cy="948.1" r="3.6" fill="#e01818"/>
<circle cx="479.0" cy="942.7" r="2.4" fill="#ffffff" stroke="#bbb" stroke-width="0.5"/>
<path d="M476.4,958.9 L486.0,964.4 L487.2,971.3" stroke="#e8b0b0" stroke-width="1.6" fill="none"/>
<circle cx="486.0" cy="964.4" r="3.6" fill="#e01818"/>
<circle cx="487.2" cy="971.3" r="2.4" fill="#ffffff" stroke="#bbb" stroke-width="0.5"/>
<path d="M476.4,958.9 L466.9,964.4 L460.3,962.0" stroke="#e8b0b0" stroke-width="1.6" fill="none"/>
<circle cx="466.9" cy="964.4" r="3.6" fill="#e01818"/>
<circle cx="460.3" cy="962.0" r="2.4" fill="#ffffff" stroke="#bbb" stroke-width="0.5"/>
<circle cx="476.4" cy="958.9" r="4.2" fill="#f0b8b8"/>
<path d="M571.5,1010.3 L569.6,999.4 L574.1,994.1" stroke="#e8b0b0" stroke-width="1.6" fill="none"/>
<circle cx="569.6" cy="999.4" r="3.6" fill="#e01818"/>
<circle cx="574.1" cy="994.1" r="2.4" fill="#ffffff" stroke="#bbb" stroke-width="0.5"/>
<path d="M571.5,1010.3 L581.0,1015.8 L582.2,1022.7" stroke="#e8b0b0" stroke-width="1.6" fill="none"/>
<circle cx="581.0" cy="1015.8" r="3.6" fill="#e01818"/>
<circle cx="582.2" cy="1022.7" r="2.4" fill="#ffffff" stroke="#bbb" stroke-width="0.5"/>
<path d="M571.5,1010.3 L562.0,1015.8 L555.4,1013.4" stroke="#e8b0b0" stroke-width="1.6" fill="none"/>
<circle cx="562.0" cy="1015.8" r="3.6" fill="#e01818"/>
<circle cx="555.4" cy="1013.4" r="2.4" fill="#ffffff" stroke="#bbb" stroke-width="0.5"/>
<circle cx="571.5" cy="1010.3" r="4.2" fill="#f0b8b8"/>
<path d="M185.6,1227.0 L183.6,1216.2 L188.1,1210.8" stroke="#e8b0b0" stroke-width="1.6" fill="none"/>
<circle cx="183.6" cy="1216.2" r="3.6" fill="#e01818"/>
<circle cx="188.1" cy="1210.8" r="2.4" fill="#ffffff" stroke="#bbb" stroke-width="0.5"/>
<path d="M185.6,1227.0 L195.1,1232.5 L196.3,1239.4" stroke="#e8b0b0" stroke-width="1.6" fill="none"/>
<circle cx="195.1" cy="1232.5" r="3.6" fill="#e01818"/>
<circle cx="196.3" cy="1239.4" r="2.4" fill="#ffffff" stroke="#bbb" stroke-width="0.5"/>
<path d="M185.6,1227.0 L176.0,1232.5 L169.4,1230.1" stroke="#e8b0b0" stroke-width="1.6" fill="none"/>
<circle cx="176.0" cy="1232.5" r="3.6" fill="#e01818"/>
<circle cx="169.4" cy="1230.1" r="2.4" fill="#ffffff" stroke="#bbb" stroke-width="0.5"/>
<circle cx="185.6" cy="1227.0" r="4.2" fill="#f0b8b8"/>
<path d="M318.6,1228.9 L316.7,1218.1 L321.2,1212.7" stroke="#e8b0b0" stroke-width="1.6" fill="none"/>
<circle cx="316.7" cy="1218.1" r="3.6" fill="#e01818"/>
<circle cx="321.2" cy="1212.7" r="2.4" fill="#ffffff" stroke="#bbb" stroke-width="0.5"/>
<path d="M318.6,1228.9 L328.2,1234.4 L329.4,1241.3" stroke="#e8b0b0" stroke-width="1.6" fill="none"/>
<circle cx="328.2" cy="1234.4" r="3.6" fill="#e01818"/>
<circle cx="329.4" cy="1241.3" r="2.4" fill="#ffffff" stroke="#bbb" stroke-width="0.5"/>
<path d="M318.6,1228.9 L309.1,1234.4 L302.5,1232.0" stroke="#e8b0b0" stroke-width="1.6" fill="none"/>
<circle cx="309.1" cy="1234.4" r="3.6" fill="#e01818"/>
<circle cx="302.5" cy="1232.0" r="2.4" fill="#ffffff" stroke="#bbb" stroke-width="0.5"/>
<circle cx="318.6" cy="1228.9" r="4.2" fill="#f0b8b8"/>
<path d="M421.3,1232.7 L419.4,1221.9 L423.9,1216.5" stroke="#e8b0b0" stroke-width="1.6" fill="none"/>
<circle cx="419.4" cy="1221.9" r="3.6" fill="#e01818"/>
<circle cx="423.9" cy="1216.5" r="2.4" fill="#ffffff" stroke="#bbb" stroke-width="0.5"/>
<path d="M421.3,1232.7 L430.8,1238.2 L432.0,1245.1" stroke="#e8b0b0" stroke-width="1.6" fill="none"/>
<circle cx="430.8" cy="1238.2" r="3.6" fill="#e01818"/>
<circle cx="432.0" cy="1245.1" r="2.4" fill="#ffffff" stroke="#bbb" stroke-width="0.5"/>
<path d="M421.3,1232.7 L411.8,1238.2 L405.2,1235.8" stroke="#e8b0b0" stroke-width="1.6" fill="none"/>
<circle cx="411.8" cy="1238.2" r="3.6" fill="#e01818"/>
<circle cx="405.2" cy="1235.8" r="2.4" fill="#ffffff" stroke="#bbb" stroke-width="0.5"/>
<circle cx="421.3" cy="1232.7" r="4.2" fill="#f0b8b8"/>
<path d="M560.1,1189.0 L558.2,1178.1 L562.7,1172.8" stroke="#e8b0b0" stroke-width="1.6" fill="none"/>
<circle cx="558.2" cy="1178.1" r="3.6" fill="#e01818"/>
<circle cx="562.7" cy="1172.8" r="2.4" fill="#ffffff" stroke="#bbb" stroke-width="0.5"/>
<path d="M560.1,1189.0 L569.6,1194.5 L570.8,1201.4" stroke="#e8b0b0" stroke-width="1.6" fill="none"/>
<circle cx="569.6" cy="1194.5" r="3.6" fill="#e01818"/>
<circle cx="570.8" cy="1201.4" r="2.4" fill="#ffffff" stroke="#bbb" stroke-width="0.5"/>
<path d="M560.1,1189.0 L550.5,1194.5 L544.0,1192.1" stroke="#e8b0b0" stroke-width="1.6" fill="none"/>
<circle cx="550.5" cy="1194.5" r="3.6" fill="#e01818"/>
<circle cx="544.0" cy="1192.1" r="2.4" fill="#ffffff" stroke="#bbb" stroke-width="0.5"/>
<circle cx="560.1" cy="1189.0" r="4.2" fill="#f0b8b8"/>
<path d="M-22.0,-12.0 Q0,-8.0 22.0,-12.0 L22.0,12.0 Q0,16.0 -22.0,12.0 Z" fill="url(#flakeg)" transform="translate(176.0,1042.6) rotate(15)"/>
<path d="M-22.0,-12.0 Q0,-8.0 22.0,-12.0 L22.0,12.0 Q0,16.0 -22.0,12.0 Z" fill="url(#flakeg)" transform="translate(263.5,1048.3) rotate(85)"/>
<path d="M-22.0,-12.0 Q0,-8.0 22.0,-12.0 L22.0,12.0 Q0,16.0 -22.0,12.0 Z" fill="url(#flakeg)" transform="translate(328.1,1035.0) rotate(8)"/>
<path d="M-22.0,-12.0 Q0,-8.0 22.0,-12.0 L22.0,12.0 Q0,16.0 -22.0,12.0 Z" fill="url(#flakeg)" transform="translate(299.6,1063.5) rotate(70)"/>
<path d="M-22.0,-12.0 Q0,-8.0 22.0,-12.0 L22.0,12.0 Q0,16.0 -22.0,12.0 Z" fill="url(#flakeg)" transform="translate(409.9,1042.6) rotate(10)"/>
<path d="M-22.0,-12.0 Q0,-8.0 22.0,-12.0 L22.0,12.0 Q0,16.0 -22.0,12.0 Z" fill="url(#flakeg)" transform="translate(520.2,1040.7) rotate(5)"/>
<path d="M-22.0,-12.0 Q0,-8.0 22.0,-12.0 L22.0,12.0 Q0,16.0 -22.0,12.0 Z" fill="url(#flakeg)" transform="translate(482.1,1061.6) rotate(12)"/>
<path d="M-22.0,-12.0 Q0,-8.0 22.0,-12.0 L22.0,12.0 Q0,16.0 -22.0,12.0 Z" fill="url(#flakeg)" transform="translate(160.8,1088.2) rotate(75)"/>
<path d="M-22.0,-12.0 Q0,-8.0 22.0,-12.0 L22.0,12.0 Q0,16.0 -22.0,12.0 Z" fill="url(#flakeg)" transform="translate(219.8,1069.2) rotate(-25)"/>
<path d="M-22.0,-12.0 Q0,-8.0 22.0,-12.0 L22.0,12.0 Q0,16.0 -22.0,12.0 Z" fill="url(#flakeg)" transform="translate(244.5,1111.0) rotate(72)"/>
<path d="M-22.0,-12.0 Q0,-8.0 22.0,-12.0 L22.0,12.0 Q0,16.0 -22.0,12.0 Z" fill="url(#flakeg)" transform="translate(290.1,1107.2) rotate(38)"/>
<path d="M-22.0,-12.0 Q0,-8.0 22.0,-12.0 L22.0,12.0 Q0,16.0 -22.0,12.0 Z" fill="url(#flakeg)" transform="translate(373.8,1075.7) rotate(10)"/>
<path d="M-22.0,-12.0 Q0,-8.0 22.0,-12.0 L22.0,12.0 Q0,16.0 -22.0,12.0 Z" fill="url(#flakeg)" transform="translate(347.1,1108.4) rotate(8)"/>
<path d="M-22.0,-12.0 Q0,-8.0 22.0,-12.0 L22.0,12.0 Q0,16.0 -22.0,12.0 Z" fill="url(#flakeg)" transform="translate(442.2,1084.4) rotate(32)"/>
<path d="M-22.0,-12.0 Q0,-8.0 22.0,-12.0 L22.0,12.0 Q0,16.0 -22.0,12.0 Z" fill="url(#flakeg)" transform="translate(421.3,1116.7) rotate(-32)"/>
<path d="M-22.0,-12.0 Q0,-8.0 22.0,-12.0 L22.0,12.0 Q0,16.0 -22.0,12.0 Z" fill="url(#flakeg)" transform="translate(497.3,1099.6) rotate(30)"/>
<path d="M-22.0,-12.0 Q0,-8.0 22.0,-12.0 L22.0,12.0 Q0,16.0 -22.0,12.0 Z" fill="url(#flakeg)" transform="translate(162.7,1152.9) rotate(5)"/>
<path d="M-22.0,-12.0 Q0,-8.0 22.0,-12.0 L22.0,12.0 Q0,16.0 -22.0,12.0 Z" fill="url(#flakeg)" transform="translate(236.9,1161.6) rotate(-30)"/>
<path d="M-22.0,-12.0 Q0,-8.0 22.0,-12.0 L22.0,12.0 Q0,16.0 -22.0,12.0 Z" fill="url(#flakeg)" transform="translate(320.5,1149.0) rotate(5)"/>
<path d="M-22.0,-12.0 Q0,-8.0 22.0,-12.0 L22.0,12.0 Q0,16.0 -22.0,12.0 Z" fill="url(#flakeg)" transform="translate(389.0,1154.8) rotate(25)"/>
<path d="M-22.0,-12.0 Q0,-8.0 22.0,-12.0 L22.0,12.0 Q0,16.0 -22.0,12.0 Z" fill="url(#flakeg)" transform="translate(447.9,1140.3) rotate(-35)"/>
<path d="M-22.0,-12.0 Q0,-8.0 22.0,-12.0 L22.0,12.0 Q0,16.0 -22.0,12.0 Z" fill="url(#flakeg)" transform="translate(484.0,1157.8) rotate(-40)"/>
<path d="M-22.0,-12.0 Q0,-8.0 22.0,-12.0 L22.0,12.0 Q0,16.0 -22.0,12.0 Z" fill="url(#flakeg)" transform="translate(537.3,1137.6) rotate(5)"/>
<path d="M551.3,1059.3 C565.3,1053.3 581.3,1071.3 599.3,1065.3 L599.3,1077.3 C581.3,1083.3 565.3,1065.3 551.3,1071.3 Z" fill="#2a36d0"/>
<path d="M551.3,1089.7 C565.3,1083.7 581.3,1101.7 599.3,1095.7 L599.3,1107.7 C581.3,1113.7 565.3,1095.7 551.3,1101.7 Z" fill="#2a36d0"/>
<path d="M551.3,1120.1 C565.3,1114.1 581.3,1132.1 599.3,1126.1 L599.3,1138.1 C581.3,1144.1 565.3,1126.1 551.3,1132.1 Z" fill="#2a36d0"/>
<path d="M595.0,1059.3 C609.0,1053.3 625.0,1071.3 643.0,1065.3 L643.0,1077.3 C625.0,1083.3 609.0,1065.3 595.0,1071.3 Z" fill="#2a36d0"/>
<path d="M595.0,1089.7 C609.0,1083.7 625.0,1101.7 643.0,1095.7 L643.0,1107.7 C625.0,1113.7 609.0,1095.7 595.0,1101.7 Z" fill="#2a36d0"/>
<path d="M595.0,1120.1 C609.0,1114.1 625.0,1132.1 643.0,1126.1 L643.0,1138.1 C625.0,1144.1 609.0,1126.1 595.0,1132.1 Z" fill="#2a36d0"/>
<path d="M657.7,1059.3 C671.7,1053.3 687.7,1071.3 705.7,1065.3 L705.7,1077.3 C687.7,1083.3 671.7,1065.3 657.7,1071.3 Z" fill="#2a36d0"/>
<path d="M657.7,1089.7 C671.7,1083.7 687.7,1101.7 705.7,1095.7 L705.7,1107.7 C687.7,1113.7 671.7,1095.7 657.7,1101.7 Z" fill="#2a36d0"/>
<path d="M657.7,1120.1 C671.7,1114.1 687.7,1132.1 705.7,1126.1 L705.7,1138.1 C687.7,1144.1 671.7,1126.1 657.7,1132.1 Z" fill="#2a36d0"/>
<path d="M145,1051 C190,1075 230,1035 290,1040 C340,1045 400,1055 470,1050 C520,1047 560,1065 600,1063 C640,1060 680,1055 705,1080" stroke="#d858d8" stroke-width="5" fill="none"/>
<path d="M145,1051 C190,1075 230,1035 290,1040 C340,1045 400,1055 470,1050 C520,1047 560,1065 600,1063 C640,1060 680,1055 705,1080" stroke="#f6c0f6" stroke-width="1.6" fill="none"/>
<path d="M173,1098 C220,1110 260,1120 300,1115 C340,1110 370,1080 410,1090 C460,1110 520,1075 550,1090 C600,1110 650,1110 712,1110" stroke="#d858d8" stroke-width="5" fill="none"/>
<path d="M173,1098 C220,1110 260,1120 300,1115 C340,1110 370,1080 410,1090 C460,1110 520,1075 550,1090 C600,1110 650,1110 712,1110" stroke="#f6c0f6" stroke-width="1.6" fill="none"/>
<path d="M166,1152 C210,1160 240,1155 290,1145 C340,1135 400,1155 450,1140 C500,1125 540,1130 590,1140 C640,1145 680,1140 710,1138" stroke="#d858d8" stroke-width="5" fill="none"/>
<path d="M166,1152 C210,1160 240,1155 290,1145 C340,1135 400,1155 450,1140 C500,1125 540,1130 590,1140 C640,1145 680,1140 710,1138" stroke="#f6c0f6" stroke-width="1.6" fill="none"/>
<path d="M337,1117 C380,1120 430,1122 480,1100 C520,1085 550,1080 600,1110" stroke="#d858d8" stroke-width="5" fill="none"/>
<path d="M337,1117 C380,1120 430,1122 480,1100 C520,1085 550,1080 600,1110" stroke="#f6c0f6" stroke-width="1.6" fill="none"/>
<path d="M214.1,1025.5 L212.3,1015.7 L216.4,1010.9" stroke="#e8b0b0" stroke-width="1.4400000000000002" fill="none"/>
<circle cx="212.3" cy="1015.7" r="3.24" fill="#e01818"/>
<circle cx="216.4" cy="1010.9" r="2.16" fill="#ffffff" stroke="#bbb" stroke-width="0.5"/>
<path d="M214.1,1025.5 L222.6,1030.4 L223.7,1036.6" stroke="#e8b0b0" stroke-width="1.4400000000000002" fill="none"/>
<circle cx="222.6" cy="1030.4" r="3.24" fill="#e01818"/>
<circle cx="223.7" cy="1036.6" r="2.16" fill="#ffffff" stroke="#bbb" stroke-width="0.5"/>
<path d="M214.1,1025.5 L205.5,1030.4 L199.6,1028.3" stroke="#e8b0b0" stroke-width="1.4400000000000002" fill="none"/>
<circle cx="205.5" cy="1030.4" r="3.24" fill="#e01818"/>
<circle cx="199.6" cy="1028.3" r="2.16" fill="#ffffff" stroke="#bbb" stroke-width="0.5"/>
<circle cx="214.1" cy="1025.5" r="3.7800000000000002" fill="#f0b8b8"/>
<path d="M413.7,1069.2 L412.0,1059.5 L416.0,1054.6" stroke="#e8b0b0" stroke-width="1.4400000000000002" fill="none"/>
<circle cx="412.0" cy="1059.5" r="3.24" fill="#e01818"/>
<circle cx="416.0" cy="1054.6" r="2.16" fill="#ffffff" stroke="#bbb" stroke-width="0.5"/>
<path d="M413.7,1069.2 L422.3,1074.2 L423.4,1080.4" stroke="#e8b0b0" stroke-width="1.4400000000000002" fill="none"/>
<circle cx="422.3" cy="1074.2" r="3.24" fill="#e01818"/>
<circle cx="423.4" cy="1080.4" r="2.16" fill="#ffffff" stroke="#bbb" stroke-width="0.5"/>
<path d="M413.7,1069.2 L405.1,1074.2 L399.2,1072.0" stroke="#e8b0b0" stroke-width="1.4400000000000002" fill="none"/>
<circle cx="405.1" cy="1074.2" r="3.24" fill="#e01818"/>
<circle cx="399.2" cy="1072.0" r="2.16" fill="#ffffff" stroke="#bbb" stroke-width="0.5"/>
<circle cx="413.7" cy="1069.2" r="3.7800000000000002" fill="#f0b8b8"/>
<path d="M257.8,1084.4 L256.1,1074.7 L260.1,1069.8" stroke="#e8b0b0" stroke-width="1.4400000000000002" fill="none"/>
<circle cx="256.1" cy="1074.7" r="3.24" fill="#e01818"/>
<circle cx="260.1" cy="1069.8" r="2.16" fill="#ffffff" stroke="#bbb" stroke-width="0.5"/>
<path d="M257.8,1084.4 L266.4,1089.4 L267.5,1095.6" stroke="#e8b0b0" stroke-width="1.4400000000000002" fill="none"/>
<circle cx="266.4" cy="1089.4" r="3.24" fill="#e01818"/>
<circle cx="267.5" cy="1095.6" r="2.16" fill="#ffffff" stroke="#bbb" stroke-width="0.5"/>
<path d="M257.8,1084.4 L249.2,1089.4 L243.3,1087.2" stroke="#e8b0b0" stroke-width="1.4400000000000002" fill="none"/>
<circle cx="249.2" cy="1089.4" r="3.24" fill="#e01818"/>
<circle cx="243.3" cy="1087.2" r="2.16" fill="#ffffff" stroke="#bbb" stroke-width="0.5"/>
<circle cx="257.8" cy="1084.4" r="3.7800000000000002" fill="#f0b8b8"/>
<path d="M141.8,1116.7 L140.1,1107.0 L144.2,1102.2" stroke="#e8b0b0" stroke-width="1.4400000000000002" fill="none"/>
<circle cx="140.1" cy="1107.0" r="3.24" fill="#e01818"/>
<circle cx="144.2" cy="1102.2" r="2.16" fill="#ffffff" stroke="#bbb" stroke-width="0.5"/>
<path d="M141.8,1116.7 L150.4,1121.7 L151.5,1127.9" stroke="#e8b0b0" stroke-width="1.4400000000000002" fill="none"/>
<circle cx="150.4" cy="1121.7" r="3.24" fill="#e01818"/>
<circle cx="151.5" cy="1127.9" r="2.16" fill="#ffffff" stroke="#bbb" stroke-width="0.5"/>
<path d="M141.8,1116.7 L133.3,1121.7 L127.3,1119.5" stroke="#e8b0b0" stroke-width="1.4400000000000002" fill="none"/>
<circle cx="133.3" cy="1121.7" r="3.24" fill="#e01818"/>
<circle cx="127.3" cy="1119.5" r="2.16" fill="#ffffff" stroke="#bbb" stroke-width="0.5"/>
<circle cx="141.8" cy="1116.7" r="3.7800000000000002" fill="#f0b8b8"/>
<path d="M533.5,1114.8 L531.7,1105.1 L535.8,1100.3" stroke="#e8b0b0" stroke-width="1.4400000000000002" fill="none"/>
<circle cx="531.7" cy="1105.1" r="3.24" fill="#e01818"/>
<circle cx="535.8" cy="1100.3" r="2.16" fill="#ffffff" stroke="#bbb" stroke-width="0.5"/>
<path d="M533.5,1114.8 L542.0,1119.8 L543.1,1126.0" stroke="#e8b0b0" stroke-width="1.4400000000000002" fill="none"/>
<circle cx="542.0" cy="1119.8" r="3.24" fill="#e01818"/>
<circle cx="543.1" cy="1126.0" r="2.16" fill="#ffffff" stroke="#bbb" stroke-width="0.5"/>
<path d="M533.5,1114.8 L524.9,1119.8 L519.0,1117.6" stroke="#e8b0b0" stroke-width="1.4400000000000002" fill="none"/>
<circle cx="524.9" cy="1119.8" r="3.24" fill="#e01818"/>
<circle cx="519.0" cy="1117.6" r="2.16" fill="#ffffff" stroke="#bbb" stroke-width="0.5"/>
<circle cx="533.5" cy="1114.8" r="3.7800000000000002" fill="#f0b8b8"/>
<path d="M411.8,1137.6 L410.1,1127.9 L414.1,1123.1" stroke="#e8b0b0" stroke-width="1.4400000000000002" fill="none"/>
<circle cx="410.1" cy="1127.9" r="3.24" fill="#e01818"/>
<circle cx="414.1" cy="1123.1" r="2.16" fill="#ffffff" stroke="#bbb" stroke-width="0.5"/>
<path d="M411.8,1137.6 L420.4,1142.6 L421.5,1148.8" stroke="#e8b0b0" stroke-width="1.4400000000000002" fill="none"/>
<circle cx="420.4" cy="1142.6" r="3.24" fill="#e01818"/>
<circle cx="421.5" cy="1148.8" r="2.16" fill="#ffffff" stroke="#bbb" stroke-width="0.5"/>
<path d="M411.8,1137.6 L403.2,1142.6 L397.3,1140.4" stroke="#e8b0b0" stroke-width="1.4400000000000002" fill="none"/>
<circle cx="403.2" cy="1142.6" r="3.24" fill="#e01818"/>
<circle cx="397.3" cy="1140.4" r="2.16" fill="#ffffff" stroke="#bbb" stroke-width="0.5"/>
<circle cx="411.8" cy="1137.6" r="3.7800000000000002" fill="#f0b8b8"/>
<path d="M290.1,1170.0 L288.4,1160.2 L292.4,1155.4" stroke="#e8b0b0" stroke-width="1.4400000000000002" fill="none"/>
<circle cx="288.4" cy="1160.2" r="3.24" fill="#e01818"/>
<circle cx="292.4" cy="1155.4" r="2.16" fill="#ffffff" stroke="#bbb" stroke-width="0.5"/>
<path d="M290.1,1170.0 L298.7,1174.9 L299.8,1181.1" stroke="#e8b0b0" stroke-width="1.4400000000000002" fill="none"/>
<circle cx="298.7" cy="1174.9" r="3.24" fill="#e01818"/>
<circle cx="299.8" cy="1181.1" r="2.16" fill="#ffffff" stroke="#bbb" stroke-width="0.5"/>
<path d="M290.1,1170.0 L281.5,1174.9 L275.6,1172.8" stroke="#e8b0b0" stroke-width="1.4400000000000002" fill="none"/>
<circle cx="281.5" cy="1174.9" r="3.24" fill="#e01818"/>
<circle cx="275.6" cy="1172.8" r="2.16" fill="#ffffff" stroke="#bbb" stroke-width="0.5"/>
<circle cx="290.1" cy="1170.0" r="3.7800000000000002" fill="#f0b8b8"/>
<path d="M442.2,1016.0 L440.5,1006.2 L444.5,1001.4" stroke="#e8b0b0" stroke-width="1.4400000000000002" fill="none"/>
<circle cx="440.5" cy="1006.2" r="3.24" fill="#e01818"/>
<circle cx="444.5" cy="1001.4" r="2.16" fill="#ffffff" stroke="#bbb" stroke-width="0.5"/>
<path d="M442.2,1016.0 L450.8,1020.9 L451.9,1027.1" stroke="#e8b0b0" stroke-width="1.4400000000000002" fill="none"/>
<circle cx="450.8" cy="1020.9" r="3.24" fill="#e01818"/>
<circle cx="451.9" cy="1027.1" r="2.16" fill="#ffffff" stroke="#bbb" stroke-width="0.5"/>
<path d="M442.2,1016.0 L433.6,1020.9 L427.7,1018.8" stroke="#e8b0b0" stroke-width="1.4400000000000002" fill="none"/>
<circle cx="433.6" cy="1020.9" r="3.24" fill="#e01818"/>
<circle cx="427.7" cy="1018.8" r="2.16" fill="#ffffff" stroke="#bbb" stroke-width="0.5"/>
<circle cx="442.2" cy="1016.0" r="3.7800000000000002" fill="#f0b8b8"/>
<path d="M653.2,1044.5 L651.5,1034.7 L655.6,1029.9" stroke="#e8b0b0" stroke-width="1.4400000000000002" fill="none"/>
<circle cx="651.5" cy="1034.7" r="3.24" fill="#e01818"/>
<circle cx="655.6" cy="1029.9" r="2.16" fill="#ffffff" stroke="#bbb" stroke-width="0.5"/>
<path d="M653.2,1044.5 L661.8,1049.4 L662.9,1055.6" stroke="#e8b0b0" stroke-width="1.4400000000000002" fill="none"/>
<circle cx="661.8" cy="1049.4" r="3.24" fill="#e01818"/>
<circle cx="662.9" cy="1055.6" r="2.16" fill="#ffffff" stroke="#bbb" stroke-width="0.5"/>
<path d="M653.2,1044.5 L644.7,1049.4 L638.7,1047.3" stroke="#e8b0b0" stroke-width="1.4400000000000002" fill="none"/>
<circle cx="644.7" cy="1049.4" r="3.24" fill="#e01818"/>
<circle cx="638.7" cy="1047.3" r="2.16" fill="#ffffff" stroke="#bbb" stroke-width="0.5"/>
<circle cx="653.2" cy="1044.5" r="3.7800000000000002" fill="#f0b8b8"/>
<path d="M677.9,1151.0 L676.2,1141.2 L680.3,1136.4" stroke="#e8b0b0" stroke-width="1.4400000000000002" fill="none"/>
<circle cx="676.2" cy="1141.2" r="3.24" fill="#e01818"/>
<circle cx="680.3" cy="1136.4" r="2.16" fill="#ffffff" stroke="#bbb" stroke-width="0.5"/>
<path d="M677.9,1151.0 L686.5,1155.9 L687.6,1162.1" stroke="#e8b0b0" stroke-width="1.4400000000000002" fill="none"/>
<circle cx="686.5" cy="1155.9" r="3.24" fill="#e01818"/>
<circle cx="687.6" cy="1162.1" r="2.16" fill="#ffffff" stroke="#bbb" stroke-width="0.5"/>
<path d="M677.9,1151.0 L669.4,1155.9 L663.5,1153.7" stroke="#e8b0b0" stroke-width="1.4400000000000002" fill="none"/>
<circle cx="669.4" cy="1155.9" r="3.24" fill="#e01818"/>
<circle cx="663.5" cy="1153.7" r="2.16" fill="#ffffff" stroke="#bbb" stroke-width="0.5"/>
<circle cx="677.9" cy="1151.0" r="3.7800000000000002" fill="#f0b8b8"/>
<path d="M140,1262 L140,1370" stroke="#4a78c8" stroke-width="4" stroke-dasharray="17,11"/>
<path d="M296,1268 L296,1395" stroke="#4a78c8" stroke-width="4" stroke-dasharray="17,11"/>
<path d="M336,1268 L336,1375" stroke="#4a78c8" stroke-width="4" stroke-dasharray="17,11"/>
<path d="M495,1262 L495,1365" stroke="#4a78c8" stroke-width="4" stroke-dasharray="17,11"/>
<path d="M537,1245 L537,1370" stroke="#4a78c8" stroke-width="4" stroke-dasharray="17,11"/>
<path d="M697,1212 L697,1368" stroke="#4a78c8" stroke-width="4" stroke-dasharray="17,11"/>
<circle cx="218" cy="1376" r="80" fill="#d8e4f4"/>
<circle cx="417.5" cy="1376" r="80" fill="#d8e4f4"/>
<circle cx="617" cy="1376" r="80" fill="#d8e4f4"/>
<path d="M-15.0,-7.0 Q0,-5.0 15.0,-7.0 L15.0,7.0 Q0,9.0 -15.0,7.0 Z" fill="url(#flakeg2)" transform="translate(176.0,1326.0) rotate(-25)"/>
<path d="M-15.0,-7.0 Q0,-5.0 15.0,-7.0 L15.0,7.0 Q0,9.0 -15.0,7.0 Z" fill="url(#flakeg2)" transform="translate(208.4,1312.7) rotate(20)"/>
<path d="M-15.0,-7.0 Q0,-5.0 15.0,-7.0 L15.0,7.0 Q0,9.0 -15.0,7.0 Z" fill="url(#flakeg2)" transform="translate(242.6,1324.1) rotate(50)"/>
<path d="M-15.0,-7.0 Q0,-5.0 15.0,-7.0 L15.0,7.0 Q0,9.0 -15.0,7.0 Z" fill="url(#flakeg2)" transform="translate(271.1,1347.0) rotate(-60)"/>
<path d="M-15.0,-7.0 Q0,-5.0 15.0,-7.0 L15.0,7.0 Q0,9.0 -15.0,7.0 Z" fill="url(#flakeg2)" transform="translate(170.3,1364.1) rotate(10)"/>
<path d="M-15.0,-7.0 Q0,-5.0 15.0,-7.0 L15.0,7.0 Q0,9.0 -15.0,7.0 Z" fill="url(#flakeg2)" transform="translate(200.8,1364.1) rotate(40)"/>
<path d="M-15.0,-7.0 Q0,-5.0 15.0,-7.0 L15.0,7.0 Q0,9.0 -15.0,7.0 Z" fill="url(#flakeg2)" transform="translate(233.1,1360.3) rotate(70)"/>
<path d="M-15.0,-7.0 Q0,-5.0 15.0,-7.0 L15.0,7.0 Q0,9.0 -15.0,7.0 Z" fill="url(#flakeg2)" transform="translate(284.4,1367.9) rotate(-10)"/>
<path d="M-15.0,-7.0 Q0,-5.0 15.0,-7.0 L15.0,7.0 Q0,9.0 -15.0,7.0 Z" fill="url(#flakeg2)" transform="translate(149.4,1386.9) rotate(70)"/>
<path d="M-15.0,-7.0 Q0,-5.0 15.0,-7.0 L15.0,7.0 Q0,9.0 -15.0,7.0 Z" fill="url(#flakeg2)" transform="translate(179.8,1388.8) rotate(5)"/>
<path d="M-15.0,-7.0 Q0,-5.0 15.0,-7.0 L15.0,7.0 Q0,9.0 -15.0,7.0 Z" fill="url(#flakeg2)" transform="translate(217.9,1402.1) rotate(80)"/>
<path d="M-15.0,-7.0 Q0,-5.0 15.0,-7.0 L15.0,7.0 Q0,9.0 -15.0,7.0 Z" fill="url(#flakeg2)" transform="translate(267.3,1386.9) rotate(10)"/>
<path d="M-15.0,-7.0 Q0,-5.0 15.0,-7.0 L15.0,7.0 Q0,9.0 -15.0,7.0 Z" fill="url(#flakeg2)" transform="translate(181.7,1413.5) rotate(-30)"/>
<path d="M-15.0,-7.0 Q0,-5.0 15.0,-7.0 L15.0,7.0 Q0,9.0 -15.0,7.0 Z" fill="url(#flakeg2)" transform="translate(242.6,1402.1) rotate(45)"/>
<path d="M-15.0,-7.0 Q0,-5.0 15.0,-7.0 L15.0,7.0 Q0,9.0 -15.0,7.0 Z" fill="url(#flakeg2)" transform="translate(267.3,1413.5) rotate(-70)"/>
<path d="M-15.0,-7.0 Q0,-5.0 15.0,-7.0 L15.0,7.0 Q0,9.0 -15.0,7.0 Z" fill="url(#flakeg2)" transform="translate(216.0,1434.4) rotate(0)"/>
<path d="M-15.0,-5.5 Q0,-3.5 15.0,-5.5 L15.0,5.5 Q0,7.5 -15.0,5.5 Z" fill="url(#flakeg2)" transform="translate(373.8,1333.7) rotate(55)"/>
<path d="M-15.0,-5.5 Q0,-3.5 15.0,-5.5 L15.0,5.5 Q0,7.5 -15.0,5.5 Z" fill="url(#flakeg2)" transform="translate(396.6,1322.2) rotate(40)"/>
<path d="M-15.0,-5.5 Q0,-3.5 15.0,-5.5 L15.0,5.5 Q0,7.5 -15.0,5.5 Z" fill="url(#flakeg2)" transform="translate(419.4,1316.5) rotate(65)"/>
<path d="M-15.0,-5.5 Q0,-3.5 15.0,-5.5 L15.0,5.5 Q0,7.5 -15.0,5.5 Z" fill="url(#flakeg2)" transform="translate(436.5,1316.5) rotate(70)"/>
<path d="M-15.0,-5.5 Q0,-3.5 15.0,-5.5 L15.0,5.5 Q0,7.5 -15.0,5.5 Z" fill="url(#flakeg2)" transform="translate(463.1,1335.6) rotate(60)"/>
<path d="M-15.0,-5.5 Q0,-3.5 15.0,-5.5 L15.0,5.5 Q0,7.5 -15.0,5.5 Z" fill="url(#flakeg2)" transform="translate(366.2,1352.7) rotate(30)"/>
<path d="M-15.0,-5.5 Q0,-3.5 15.0,-5.5 L15.0,5.5 Q0,7.5 -15.0,5.5 Z" fill="url(#flakeg2)" transform="translate(404.2,1347.0) rotate(55)"/>
<path d="M-15.0,-5.5 Q0,-3.5 15.0,-5.5 L15.0,5.5 Q0,7.5 -15.0,5.5 Z" fill="url(#flakeg2)" transform="translate(427.0,1352.7) rotate(50)"/>
<path d="M-15.0,-5.5 Q0,-3.5 15.0,-5.5 L15.0,5.5 Q0,7.5 -15.0,5.5 Z" fill="url(#flakeg2)" transform="translate(449.8,1343.2) rotate(45)"/>
<path d="M-15.0,-5.5 Q0,-3.5 15.0,-5.5 L15.0,5.5 Q0,7.5 -15.0,5.5 Z" fill="url(#flakeg2)" transform="translate(476.4,1371.7) rotate(55)"/>
<path d="M-15.0,-5.5 Q0,-3.5 15.0,-5.5 L15.0,5.5 Q0,7.5 -15.0,5.5 Z" fill="url(#flakeg2)" transform="translate(362.4,1375.5) rotate(20)"/>
<path d="M-15.0,-5.5 Q0,-3.5 15.0,-5.5 L15.0,5.5 Q0,7.5 -15.0,5.5 Z" fill="url(#flakeg2)" transform="translate(400.4,1371.7) rotate(25)"/>
<path d="M-15.0,-5.5 Q0,-3.5 15.0,-5.5 L15.0,5.5 Q0,7.5 -15.0,5.5 Z" fill="url(#flakeg2)" transform="translate(427.0,1383.1) rotate(30)"/>
<path d="M-15.0,-5.5 Q0,-3.5 15.0,-5.5 L15.0,5.5 Q0,7.5 -15.0,5.5 Z" fill="url(#flakeg2)" transform="translate(453.6,1375.5) rotate(50)"/>
<path d="M-15.0,-5.5 Q0,-3.5 15.0,-5.5 L15.0,5.5 Q0,7.5 -15.0,5.5 Z" fill="url(#flakeg2)" transform="translate(474.5,1394.5) rotate(50)"/>
<path d="M-15.0,-5.5 Q0,-3.5 15.0,-5.5 L15.0,5.5 Q0,7.5 -15.0,5.5 Z" fill="url(#flakeg2)" transform="translate(362.4,1400.2) rotate(15)"/>
<path d="M-15.0,-5.5 Q0,-3.5 15.0,-5.5 L15.0,5.5 Q0,7.5 -15.0,5.5 Z" fill="url(#flakeg2)" transform="translate(404.2,1394.5) rotate(20)"/>
<path d="M-15.0,-5.5 Q0,-3.5 15.0,-5.5 L15.0,5.5 Q0,7.5 -15.0,5.5 Z" fill="url(#flakeg2)" transform="translate(434.6,1404.0) rotate(25)"/>
<path d="M-15.0,-5.5 Q0,-3.5 15.0,-5.5 L15.0,5.5 Q0,7.5 -15.0,5.5 Z" fill="url(#flakeg2)" transform="translate(463.1,1405.9) rotate(45)"/>
<path d="M-15.0,-5.5 Q0,-3.5 15.0,-5.5 L15.0,5.5 Q0,7.5 -15.0,5.5 Z" fill="url(#flakeg2)" transform="translate(373.8,1417.3) rotate(15)"/>
<path d="M-15.0,-5.5 Q0,-3.5 15.0,-5.5 L15.0,5.5 Q0,7.5 -15.0,5.5 Z" fill="url(#flakeg2)" transform="translate(415.6,1417.3) rotate(20)"/>
<path d="M-15.0,-5.5 Q0,-3.5 15.0,-5.5 L15.0,5.5 Q0,7.5 -15.0,5.5 Z" fill="url(#flakeg2)" transform="translate(449.8,1424.9) rotate(25)"/>
<path d="M-15.0,-5.5 Q0,-3.5 15.0,-5.5 L15.0,5.5 Q0,7.5 -15.0,5.5 Z" fill="url(#flakeg2)" transform="translate(389.0,1432.5) rotate(10)"/>
<path d="M-15.0,-5.5 Q0,-3.5 15.0,-5.5 L15.0,5.5 Q0,7.5 -15.0,5.5 Z" fill="url(#flakeg2)" transform="translate(419.4,1438.2) rotate(15)"/>
<path d="M594.9,1307.0 C610.9,1302.0 628.9,1311.0 646.9,1306.0" stroke="#222288" stroke-width="3.5" fill="none"/>
<path d="M564.5,1329.8 C580.5,1324.8 598.5,1333.8 616.5,1328.8" stroke="#222288" stroke-width="3.5" fill="none"/>
<path d="M625.3,1329.8 C641.3,1324.8 659.3,1333.8 677.3,1328.8" stroke="#222288" stroke-width="3.5" fill="none"/>
<path d="M553.1,1352.7 C569.1,1347.7 587.1,1356.7 605.1,1351.7" stroke="#222288" stroke-width="3.5" fill="none"/>
<path d="M594.9,1345.1 C610.9,1340.1 628.9,1349.1 646.9,1344.1" stroke="#222288" stroke-width="3.5" fill="none"/>
<path d="M636.7,1356.5 C652.7,1351.5 670.7,1360.5 688.7,1355.5" stroke="#222288" stroke-width="3.5" fill="none"/>
<path d="M545.5,1375.5 C561.5,1370.5 579.5,1379.5 597.5,1374.5" stroke="#222288" stroke-width="3.5" fill="none"/>
<path d="M583.5,1371.7 C599.5,1366.7 617.5,1375.7 635.5,1370.7" stroke="#222288" stroke-width="3.5" fill="none"/>
<path d="M629.1,1375.5 C645.1,1370.5 663.1,1379.5 681.1,1374.5" stroke="#222288" stroke-width="3.5" fill="none"/>
<path d="M655.7,1367.9 C671.7,1362.9 689.7,1371.9 707.7,1366.9" stroke="#222288" stroke-width="3.5" fill="none"/>
<path d="M541.7,1386.9 C557.7,1381.9 575.7,1390.9 593.7,1385.9" stroke="#222288" stroke-width="3.5" fill="none"/>
<path d="M575.9,1394.5 C591.9,1389.5 609.9,1398.5 627.9,1393.5" stroke="#222288" stroke-width="3.5" fill="none"/>
<path d="M613.9,1398.3 C629.9,1393.3 647.9,1402.3 665.9,1397.3" stroke="#222288" stroke-width="3.5" fill="none"/>
<path d="M648.1,1390.7 C664.1,1385.7 682.1,1394.7 700.1,1389.7" stroke="#222288" stroke-width="3.5" fill="none"/>
<path d="M564.5,1413.5 C580.5,1408.5 598.5,1417.5 616.5,1412.5" stroke="#222288" stroke-width="3.5" fill="none"/>
<path d="M602.5,1417.3 C618.5,1412.3 636.5,1421.3 654.5,1416.3" stroke="#222288" stroke-width="3.5" fill="none"/>
<path d="M636.7,1413.5 C652.7,1408.5 670.7,1417.5 688.7,1412.5" stroke="#222288" stroke-width="3.5" fill="none"/>
<path d="M568.3,1428.7 C584.3,1423.7 602.3,1432.7 620.3,1427.7" stroke="#222288" stroke-width="3.5" fill="none"/>
<path d="M606.3,1432.5 C622.3,1427.5 640.3,1436.5 658.3,1431.5" stroke="#222288" stroke-width="3.5" fill="none"/>
<path d="M594.9,1440.1 C610.9,1435.1 628.9,1444.1 646.9,1439.1" stroke="#222288" stroke-width="3.5" fill="none"/>
<text x="126" y="1505.5" font-size="44" text-anchor="start" fill="#000" textLength="161.5" lengthAdjust="spacingAndGlyphs" >Disorder</text>
<text x="316.7" y="1505.5" font-size="44" text-anchor="start" fill="#000" textLength="212.3" lengthAdjust="spacingAndGlyphs" >Orientation</text>
<text x="558" y="1507" font-size="44" text-anchor="start" fill="#000" textLength="142" lengthAdjust="spacingAndGlyphs" >Parallel</text>
<polygon points="145,1571 172,1576 179,1596 162,1608 138,1604 131,1585" fill="url(#pcdg)" stroke="#208838" stroke-width="1.5"/>
<path d="M155,1588 L145,1571 M155,1588 L179,1596 M155,1588 L138,1604 M155,1588 L162,1608" stroke="#40c060" stroke-width="1.5"/>
<text x="204.6" y="1603" font-size="35" text-anchor="start" fill="#000" textLength="71" lengthAdjust="spacingAndGlyphs" >PCD</text>
<path d="M343,1573 C365,1566 385,1580 417,1572 L417,1601 C390,1609 365,1595 343,1604 Z" fill="#243c70" stroke="#3a5aa0" stroke-width="2"/>
<text x="436.5" y="1599" font-size="35" text-anchor="start" fill="#000" textLength="108.5" lengthAdjust="spacingAndGlyphs" >MXene</text>
<circle cx="626.6" cy="1588.4" r="23" fill="url(#mthg)"/>
<text x="669.6" y="1599" font-size="35" text-anchor="start" fill="#000" textLength="124" lengthAdjust="spacingAndGlyphs" >MTHPS</text>
<path d="M848,1598 C862,1582 873,1580 882,1592 C890,1605 902,1603 916,1584" stroke="#ee22e0" stroke-width="6" fill="none" stroke-linecap="round"/>
<text x="950" y="1604.7" font-size="35" text-anchor="start" fill="#000" textLength="65" lengthAdjust="spacingAndGlyphs" >PVA</text>
<path d="M1097.0,1592.0 L1094.1,1575.8 L1100.9,1567.7" stroke="#e8b0b0" stroke-width="2.4000000000000004" fill="none"/>
<circle cx="1094.1" cy="1575.8" r="5.4" fill="#e01818"/>
<circle cx="1100.9" cy="1567.7" r="3.5999999999999996" fill="#ffffff" stroke="#bbb" stroke-width="0.5"/>
<path d="M1097.0,1592.0 L1111.3,1600.2 L1113.1,1610.6" stroke="#e8b0b0" stroke-width="2.4000000000000004" fill="none"/>
<circle cx="1111.3" cy="1600.2" r="5.4" fill="#e01818"/>
<circle cx="1113.1" cy="1610.6" r="3.5999999999999996" fill="#ffffff" stroke="#bbb" stroke-width="0.5"/>
<path d="M1097.0,1592.0 L1082.7,1600.2 L1072.8,1596.7" stroke="#e8b0b0" stroke-width="2.4000000000000004" fill="none"/>
<circle cx="1082.7" cy="1600.2" r="5.4" fill="#e01818"/>
<circle cx="1072.8" cy="1596.7" r="3.5999999999999996" fill="#ffffff" stroke="#bbb" stroke-width="0.5"/>
<circle cx="1097.0" cy="1592.0" r="6.300000000000001" fill="#f0b8b8"/>
<text x="1160" y="1607.8" font-size="35">BH<tspan font-size="24" dy="6">3</tspan><tspan dy="-6">O</tspan><tspan font-size="24" dy="6">3</tspan></text>
<path d="M833,1272 L1347,1274 L1361,1363 L789,1367 Z" fill="#e8fafc" stroke="#8ccfdf" stroke-width="5"/>
<path d="M826,1322 L1345,1322 L1350,1360 L806,1364 Z" fill="#7ea8f0" opacity="0.85"/>
<path d="M789,1367 L1361,1363 L1353,1514 L803,1512 Z" fill="url(#bathg)" stroke="#8fd8ec" stroke-width="4"/>
<path d="M795,1367 L1361,1363 L1358,1399 L798,1402 Z" fill="#8ab4f4" opacity="0.75"/>
<path d="M806,1485 L1353,1485 L1353,1514 L803,1512 Z" fill="#90d4f2" opacity="0.8"/>
<path d="M960,1505 C1000,1500 1100,1500 1230,1507" stroke="#a070d8" stroke-width="8" opacity="0.6" fill="none"/>
<path d="M806,1402 L1358,1399 L1354,1486 L806,1486 Z" fill="#98ccf0"/>
<g opacity="0.5"><rect x="800" y="1400" width="560" height="88" filter="url(#sf2)"/></g>
<g opacity="0.5"><rect x="800" y="1400" width="560" height="88" filter="url(#sf3)"/></g>
<path d="M747.8,1137.0 L751.1,1136.9 L755.5,1136.7 L760.5,1136.5 L766.0,1136.2 L771.6,1136.0 L776.9,1135.9 L781.7,1135.8 L785.7,1135.9 L789.5,1136.0 L793.3,1136.1 L796.8,1136.2 L800.0,1136.3 L802.9,1136.5 L805.5,1136.8 L807.8,1137.2 L810.1,1137.9 L812.4,1138.8 L814.6,1139.9 L816.7,1141.1 L818.7,1142.4 L820.6,1144.1 L822.6,1146.1 L824.6,1148.5 L826.6,1151.3 L828.6,1154.5 L830.4,1158.0 L832.2,1162.0 L833.9,1166.4 L835.6,1171.2 L837.3,1176.5 L839.1,1182.1 L840.9,1188.0 L842.6,1194.2 L844.2,1201.0 L845.8,1208.2 L847.4,1215.8 L849.1,1223.7 L851.0,1231.7 L853.1,1239.9 L855.4,1248.0 L858.1,1256.1 L860.9,1264.5 L864.0,1273.0 L867.2,1281.5 L870.4,1289.9 L873.7,1298.0 L876.9,1305.8 L880.1,1313.1 L883.3,1320.2 L886.7,1327.2 L890.2,1334.0 L893.7,1340.4 L896.9,1346.3 L899.8,1351.6 L902.2,1355.9 L904.0,1359.3 L914.0,1354.7 L912.6,1351.1 L910.7,1346.4 L908.5,1340.9 L906.1,1334.7 L903.5,1328.0 L900.9,1321.0 L898.3,1314.0 L895.9,1306.9 L893.5,1299.6 L891.0,1291.8 L888.5,1283.6 L885.9,1275.1 L883.4,1266.6 L881.0,1258.1 L878.7,1249.9 L876.6,1242.0 L874.7,1234.4 L872.9,1226.6 L871.2,1218.8 L869.6,1211.1 L868.0,1203.5 L866.4,1196.0 L864.8,1188.8 L863.1,1182.0 L861.5,1175.7 L859.9,1169.8 L858.4,1164.2 L856.8,1158.7 L855.2,1153.5 L853.5,1148.4 L851.5,1143.5 L849.4,1138.7 L847.1,1134.3 L844.7,1130.1 L842.1,1126.2 L839.3,1122.6 L836.3,1119.1 L833.1,1115.9 L829.6,1112.9 L825.9,1110.1 L821.8,1107.4 L817.4,1105.0 L813.0,1103.0 L808.5,1101.2 L804.0,1099.7 L799.5,1098.3 L795.1,1097.2 L790.3,1096.1 L784.7,1095.2 L778.6,1094.6 L772.4,1094.1 L766.3,1093.8 L760.5,1093.5 L755.3,1093.3 L751.2,1093.2 L748.2,1093.0 Z" fill="url(#fibg1)"/>
<rect x="950" y="1323" width="37" height="90" rx="10" fill="#5c6e98"/>
<rect x="948" y="1405" width="40" height="70" fill="#8d96a6" opacity="0.85"/>
<ellipse cx="967" cy="1450" rx="19" ry="23" fill="#a8aca8" stroke="#d8dcd8" stroke-width="4"/>
<ellipse cx="967" cy="1452" rx="12" ry="15" fill="#787c78"/>
<rect x="1195" y="1323" width="37" height="90" rx="10" fill="#5c6e98"/>
<rect x="1193" y="1405" width="40" height="70" fill="#8d96a6" opacity="0.85"/>
<ellipse cx="1212" cy="1450" rx="19" ry="23" fill="#a8aca8" stroke="#d8dcd8" stroke-width="4"/>
<ellipse cx="1212" cy="1452" rx="12" ry="15" fill="#787c78"/>
<path d="M909,1355 C915,1400 940,1460 968,1450 L1210,1448 C1245,1448 1265,1400 1278,1362" stroke="#d890e8" stroke-width="5" fill="none" opacity="0.7"/>
<path d="M1278,1362 L1400,1068" stroke="#c870e0" stroke-width="6" stroke-linecap="round"/>
<path d="M1276,1360 L1398,1066" stroke="#f0b0ff" stroke-width="2" opacity="0.7"/>
<rect x="1321" y="951" width="31" height="151" rx="12" fill="url(#flangeg)"/>
<rect x="1341" y="970" width="140" height="111" fill="url(#coreg)"/>
<path d="M1339.0,1080 C1336.0,1040 1337.0,990 1342.0,972 C1344.0,966 1348.0,966 1350.0,972" stroke="#eeb4bc" stroke-width="3.4" fill="none"/>
<path d="M1349.2,1080 C1346.2,1040 1347.2,990 1352.2,972 C1354.2,966 1358.2,966 1360.2,972" stroke="#eeb4bc" stroke-width="3.4" fill="none"/>
<path d="M1359.4,1080 C1356.4,1040 1357.4,990 1362.4,972 C1364.4,966 1368.4,966 1370.4,972" stroke="#eeb4bc" stroke-width="3.4" fill="none"/>
<path d="M1369.6,1080 C1366.6,1040 1367.6,990 1372.6,972 C1374.6,966 1378.6,966 1380.6,972" stroke="#eeb4bc" stroke-width="3.4" fill="none"/>
<path d="M1379.8,1080 C1376.8,1040 1377.8,990 1382.8,972 C1384.8,966 1388.8,966 1390.8,972" stroke="#eeb4bc" stroke-width="3.4" fill="none"/>
<path d="M1390.0,1080 C1387.0,1040 1388.0,990 1393.0,972 C1395.0,966 1399.0,966 1401.0,972" stroke="#eeb4bc" stroke-width="3.4" fill="none"/>
<path d="M1400.2,1080 C1397.2,1040 1398.2,990 1403.2,972 C1405.2,966 1409.2,966 1411.2,972" stroke="#eeb4bc" stroke-width="3.4" fill="none"/>
<path d="M1410.4,1080 C1407.4,1040 1408.4,990 1413.4,972 C1415.4,966 1419.4,966 1421.4,972" stroke="#eeb4bc" stroke-width="3.4" fill="none"/>
<path d="M1420.6,1080 C1417.6,1040 1418.6,990 1423.6,972 C1425.6,966 1429.6,966 1431.6,972" stroke="#eeb4bc" stroke-width="3.4" fill="none"/>
<path d="M1430.8,1080 C1427.8,1040 1428.8,990 1433.8,972 C1435.8,966 1439.8,966 1441.8,972" stroke="#eeb4bc" stroke-width="3.4" fill="none"/>
<path d="M1441.0,1080 C1438.0,1040 1439.0,990 1444.0,972 C1446.0,966 1450.0,966 1452.0,972" stroke="#eeb4bc" stroke-width="3.4" fill="none"/>
<path d="M1451.2,1080 C1448.2,1040 1449.2,990 1454.2,972 C1456.2,966 1460.2,966 1462.2,972" stroke="#eeb4bc" stroke-width="3.4" fill="none"/>
<path d="M1461.4,1080 C1458.4,1040 1459.4,990 1464.4,972 C1466.4,966 1470.4,966 1472.4,972" stroke="#eeb4bc" stroke-width="3.4" fill="none"/>
<path d="M1471.6,1080 C1468.6,1040 1469.6,990 1474.6,972 C1476.6,966 1480.6,966 1482.6,972" stroke="#eeb4bc" stroke-width="3.4" fill="none"/>
<rect x="1474" y="951" width="24" height="151" rx="10" fill="url(#flangeg)"/>
<path d="M1430,971 C1470,935 1510,920 1548,923" stroke="#c878e0" stroke-width="6" fill="none" stroke-linecap="round"/>
<path d="M1403,1519 L1397,1400 C1396,1360 1400,1340 1405,1320 C1412,1300 1420,1295 1418,1280 C1440,1300 1452,1340 1442,1382 C1450,1392 1458,1395 1462,1390 C1476,1360 1468,1325 1478,1302 C1486,1290 1492,1286 1495,1280 C1515,1310 1532,1350 1526,1390 C1532,1398 1538,1400 1545,1395 C1560,1360 1588,1335 1598,1302 C1606,1282 1610,1270 1617,1259 C1636,1292 1644,1340 1632,1382 C1652,1352 1668,1332 1676,1313 C1686,1332 1690,1362 1682,1388 C1712,1352 1736,1302 1746,1276 C1752,1258 1756,1250 1761,1245 C1792,1272 1792,1322 1762,1372 L1810,1395 C1850,1380 1880,1400 1910,1420 C1950,1405 1972,1365 1980,1346 C1985,1338 1988,1335 1992,1332 C2012,1362 2012,1400 2002,1432 C2010,1460 2015,1490 2017,1519 Z" fill="#ff6c26"/>
<rect x="1390" y="1240" width="640" height="285" filter="url(#flamef)" clip-path="url(#flameclip)"/>
<g clip-path="url(#flameclip)" opacity="0.75">
<path d="M1412,1284 C1432,1305 1436,1340 1422,1375 C1408,1350 1404,1320 1412,1284 Z" fill="#ffd04a"/>
<path d="M1489,1284 C1509,1305 1513,1340 1499,1375 C1485,1350 1481,1320 1489,1284 Z" fill="#ffd04a"/>
<path d="M1611,1263 C1631,1284 1635,1319 1621,1354 C1607,1329 1603,1299 1611,1263 Z" fill="#ffd04a"/>
<path d="M1670,1317 C1690,1338 1694,1373 1680,1408 C1666,1383 1662,1353 1670,1317 Z" fill="#ffd04a"/>
<path d="M1755,1249 C1775,1270 1779,1305 1765,1340 C1751,1315 1747,1285 1755,1249 Z" fill="#ffd04a"/>
<path d="M1986,1336 C2006,1357 2010,1392 1996,1427 C1982,1402 1978,1372 1986,1336 Z" fill="#ffd04a"/>
</g>
<path d="M1544.5,925.5 L1547.3,926.0 L1551.0,926.7 L1555.4,927.4 L1560.1,928.3 L1565.1,929.4 L1569.9,930.8 L1574.5,932.5 L1578.5,934.6 L1582.2,937.1 L1585.9,940.1 L1589.6,943.3 L1593.2,946.9 L1596.7,950.8 L1600.1,955.1 L1603.5,959.6 L1606.7,964.3 L1609.9,969.4 L1612.9,975.0 L1615.8,980.9 L1618.7,987.2 L1621.6,993.6 L1624.5,1000.1 L1627.4,1006.7 L1630.2,1013.0 L1633.0,1019.2 L1635.6,1025.4 L1638.1,1031.7 L1640.7,1038.1 L1643.4,1044.6 L1646.4,1051.1 L1649.8,1057.7 L1653.4,1064.1 L1657.3,1070.3 L1661.2,1076.5 L1665.3,1082.7 L1669.8,1089.0 L1674.8,1095.3 L1680.2,1101.5 L1686.3,1107.5 L1693.1,1113.3 L1700.6,1118.7 L1708.5,1123.8 L1716.7,1128.4 L1725.2,1132.8 L1733.7,1136.9 L1742.3,1140.9 L1750.9,1144.8 L1759.6,1148.7 L1769.0,1152.7 L1778.8,1156.5 L1788.7,1160.0 L1798.4,1163.5 L1807.8,1166.9 L1816.8,1170.3 L1825.1,1173.8 L1832.7,1177.5 L1840.1,1181.5 L1847.6,1185.8 L1854.8,1190.2 L1861.8,1194.7 L1868.5,1199.3 L1874.7,1203.9 L1880.5,1208.5 L1886.0,1213.2 L1891.5,1218.0 L1896.6,1222.6 L1900.9,1226.8 L1904.2,1230.5 L1906.5,1233.8 L1907.8,1236.4 L1908.3,1238.5 L1908.4,1240.5 L1908.7,1243.5 L1909.1,1247.4 L1909.3,1251.6 L1909.1,1255.9 L1908.6,1259.9 L1907.8,1263.3 L1906.7,1266.0 L1905.5,1268.0 L1904.0,1270.4 L1901.8,1273.7 L1899.1,1277.5 L1896.0,1281.5 L1892.4,1285.5 L1888.5,1289.3 L1884.5,1292.8 L1880.7,1295.6 L1876.8,1298.0 L1872.1,1300.5 L1866.2,1303.3 L1859.3,1306.3 L1851.4,1309.4 L1842.7,1312.7 L1833.3,1316.2 L1823.9,1319.6 L1814.8,1322.8 L1805.5,1325.8 L1795.6,1328.7 L1785.4,1331.7 L1774.9,1334.6 L1764.4,1337.4 L1753.8,1340.2 L1743.5,1342.8 L1733.5,1345.4 L1723.5,1347.8 L1713.4,1350.2 L1703.5,1352.4 L1693.8,1354.5 L1684.5,1356.5 L1675.7,1358.2 L1667.7,1359.7 L1660.6,1360.9 L1653.5,1361.9 L1646.5,1362.8 L1639.6,1363.6 L1633.0,1364.3 L1627.0,1364.9 L1621.4,1365.5 L1616.9,1366.0 L1633.1,1490.0 L1636.8,1489.4 L1641.6,1488.8 L1648.0,1487.9 L1655.4,1486.9 L1663.8,1485.6 L1672.9,1484.1 L1682.5,1482.3 L1692.3,1480.3 L1701.9,1478.0 L1711.8,1475.6 L1722.1,1472.9 L1732.7,1470.1 L1743.6,1467.1 L1754.6,1463.9 L1765.7,1460.6 L1776.5,1457.2 L1787.2,1453.7 L1798.1,1450.1 L1809.4,1446.3 L1820.9,1442.3 L1832.4,1438.1 L1843.9,1433.7 L1855.3,1429.1 L1866.1,1424.4 L1876.1,1419.9 L1886.0,1415.4 L1896.2,1410.5 L1906.7,1405.2 L1917.4,1399.4 L1928.2,1392.7 L1939.0,1385.1 L1949.3,1376.4 L1958.5,1367.1 L1966.7,1357.6 L1974.1,1347.6 L1980.7,1337.3 L1986.5,1326.6 L1991.4,1315.5 L1995.4,1304.1 L1998.5,1292.0 L2000.2,1279.4 L2000.5,1266.9 L1999.5,1255.1 L1997.5,1243.8 L1994.7,1233.0 L1991.1,1222.8 L1986.8,1213.0 L1981.6,1203.5 L1975.2,1194.2 L1967.9,1185.9 L1960.3,1179.1 L1952.7,1173.4 L1945.2,1168.5 L1938.0,1164.4 L1931.0,1160.6 L1924.0,1156.8 L1916.3,1152.7 L1908.0,1148.6 L1899.5,1144.5 L1890.7,1140.6 L1881.6,1136.9 L1872.4,1133.3 L1863.0,1129.8 L1853.3,1126.5 L1843.1,1123.4 L1832.7,1120.6 L1822.2,1118.2 L1812.0,1115.9 L1801.9,1113.8 L1792.3,1111.7 L1783.1,1109.6 L1774.4,1107.3 L1765.4,1104.8 L1756.4,1102.3 L1747.7,1099.9 L1739.3,1097.5 L1731.4,1095.0 L1724.0,1092.4 L1717.1,1089.6 L1710.9,1086.7 L1705.1,1083.4 L1699.6,1079.8 L1694.3,1075.8 L1689.3,1071.5 L1684.4,1066.9 L1679.7,1062.0 L1675.1,1057.0 L1670.6,1051.9 L1666.4,1046.9 L1662.6,1041.7 L1659.0,1036.3 L1655.6,1030.7 L1652.2,1024.8 L1648.8,1018.9 L1645.3,1012.9 L1641.8,1007.0 L1638.2,1001.1 L1634.7,995.0 L1631.2,988.8 L1627.8,982.6 L1624.2,976.4 L1620.7,970.5 L1617.0,964.9 L1613.3,959.7 L1609.5,954.9 L1605.7,950.4 L1601.9,946.2 L1598.0,942.2 L1594.0,938.5 L1589.9,935.1 L1585.8,932.1 L1581.5,929.4 L1576.8,927.1 L1571.6,925.4 L1566.3,924.0 L1561.1,923.0 L1556.2,922.2 L1551.8,921.6 L1548.2,921.1 L1545.5,920.5 Z" fill="#c878dc"/>
<path d="M1545.0,922.8 L1547.8,923.3 L1551.4,923.9 L1555.8,924.5 L1560.7,925.4 L1565.8,926.4 L1570.9,927.8 L1575.7,929.5 L1580.1,931.7 L1584.2,934.4 L1588.1,937.4 L1592.0,940.7 L1595.8,944.3 L1599.5,948.3 L1603.2,952.5 L1606.8,957.0 L1610.3,961.8 L1613.8,966.9 L1617.2,972.5 L1620.5,978.5 L1623.7,984.6 L1626.9,991.0 L1630.1,997.3 L1633.3,1003.6 L1636.6,1009.7 L1639.8,1015.7 L1642.8,1021.8 L1645.8,1027.9 L1648.9,1034.0 L1652.0,1040.0 L1655.3,1046.0 L1658.9,1051.7 L1662.9,1057.4 L1667.0,1063.0 L1671.4,1068.5 L1675.8,1074.0 L1680.5,1079.4 L1685.5,1084.6 L1690.9,1089.5 L1696.6,1094.3 L1702.9,1098.7 L1709.7,1102.7 L1717.0,1106.5 L1724.8,1110.0 L1733.0,1113.4 L1741.4,1116.6 L1750.1,1119.7 L1758.9,1122.8 L1767.7,1125.9 L1776.8,1129.0 L1786.2,1131.8 L1796.0,1134.6 L1805.9,1137.3 L1815.8,1140.1 L1825.5,1143.0 L1835.0,1146.1 L1844.0,1149.5 L1852.7,1153.1 L1861.2,1156.9 L1869.6,1160.9 L1877.7,1165.0 L1885.5,1169.2 L1893.0,1173.5 L1900.2,1177.8 L1906.9,1182.2 L1913.3,1186.4 L1919.4,1190.6 L1925.3,1194.7 L1930.9,1199.1 L1936.1,1203.7 L1940.8,1208.7 L1945.1,1214.1 L1948.7,1220.1 L1951.7,1226.7 L1954.2,1233.8 L1956.2,1241.4 L1957.7,1249.2 L1958.6,1257.2 L1958.8,1265.3 L1958.1,1273.4 L1956.6,1281.2 L1954.3,1288.9 L1951.1,1296.7 L1947.2,1304.5 L1942.5,1312.2 L1937.3,1319.7 L1931.5,1326.9 L1925.2,1333.7 L1918.4,1340.0 L1911.0,1345.9 L1903.0,1351.2 L1894.4,1356.1 L1885.4,1360.7 L1876.0,1365.0 L1866.5,1369.2 L1856.8,1373.2 L1847.1,1377.2 L1837.1,1381.3 L1826.6,1385.1 L1815.8,1388.9 L1804.9,1392.5 L1793.9,1396.0 L1782.9,1399.4 L1772.2,1402.6 L1761.6,1405.7 L1751.2,1408.7 L1740.6,1411.6 L1730.0,1414.5 L1719.6,1417.1 L1709.4,1419.7 L1699.5,1422.0 L1690.1,1424.1 L1681.2,1426.0 L1672.6,1427.7 L1664.2,1429.1 L1656.0,1430.4 L1648.3,1431.4 L1641.2,1432.3 L1635.0,1433.0 L1629.8,1433.7 L1625.8,1434.2" stroke="#f4a8ff" stroke-width="34" fill="none" opacity="0.75" stroke-linecap="round" filter="url(#blur8)" clip-path="url(#bigfclip)"/>
<path d="M1476,1381 L1619,1363 C1660,1400 1670,1460 1650,1489 L1503,1552 Z" fill="url(#cylg)"/>
<ellipse cx="1489" cy="1466" rx="56" ry="88" fill="url(#cylface)" transform="rotate(-10 1489 1466)"/>
<ellipse cx="1489" cy="1470" rx="27.28" ry="44" fill="none" stroke="#1838c0" stroke-width="4" stroke-dasharray="30,8" transform="rotate(-10 1489 1466)"/>
<ellipse cx="1489" cy="1470" rx="19.84" ry="32" fill="none" stroke="#1838c0" stroke-width="4" stroke-dasharray="30,8" transform="rotate(-10 1489 1466)"/>
<ellipse cx="1489" cy="1470" rx="12.4" ry="20" fill="none" stroke="#1838c0" stroke-width="4" stroke-dasharray="30,8" transform="rotate(-10 1489 1466)"/>
<ellipse cx="1489" cy="1470" rx="6.2" ry="10" fill="none" stroke="#1838c0" stroke-width="4" stroke-dasharray="30,8" transform="rotate(-10 1489 1466)"/>
<path d="M1508,1535 L1546,1520 L1546,1470 C1553,1450 1565,1490 1575,1470 C1583,1455 1590,1445 1597,1462 C1604,1480 1612,1460 1622,1440 C1630,1428 1640,1445 1656,1448" stroke="#f0f4ff" stroke-width="5" fill="none" stroke-linecap="round" stroke-linejoin="round"/>
<text x="893.5" y="1212" font-size="55" text-anchor="start" fill="#000" textLength="417.5" lengthAdjust="spacingAndGlyphs" >Coagulation baths</text>
<text x="1636" y="960" font-size="53" text-anchor="start" fill="#000" textLength="372.7" lengthAdjust="spacingAndGlyphs" >Flame retardant</text>
<text x="1759" y="1024.3" font-size="53" text-anchor="start" fill="#000" textLength="112" lengthAdjust="spacingAndGlyphs" >layer</text>
<text x="1399" y="1222.5" font-size="53" text-anchor="start" fill="#000" textLength="329.7" lengthAdjust="spacingAndGlyphs" >Warning layer</text>
<text x="1589.7" y="1594.4" font-size="53" text-anchor="start" fill="#000" textLength="346.3" lengthAdjust="spacingAndGlyphs" >Warning signal</text>
<path d="M1834.0,1072.0 L1864.0,1151.0 M1852.4,1140.0 L1864.0,1151.0 L1865.4,1135.1" stroke="#000" stroke-width="3.2" fill="none" stroke-linecap="round" stroke-linejoin="miter"/>
<path d="M1524.0,1261.0 L1498.0,1375.0 M1494.4,1359.4 L1498.0,1375.0 L1508.0,1362.5" stroke="#000" stroke-width="3.2" fill="none" stroke-linecap="round" stroke-linejoin="miter"/>
<path d="M1666.6,1552.0 L1626.0,1485.0 M1639.4,1493.7 L1626.0,1485.0 L1627.5,1500.9" stroke="#000" stroke-width="3.2" fill="none" stroke-linecap="round" stroke-linejoin="miter"/>
<circle cx="287" cy="1906" r="146" fill="url(#shellg)"/>
<circle cx="287" cy="1906" r="146" fill="none" stroke="#f8c8f8" stroke-width="3"/>
<circle cx="287" cy="1907" r="116" fill="#103070"/>
<circle cx="287" cy="1907" r="108" fill="url(#silverg)"/>
<path d="M387.8,1914.0 A101,101 0 0 1 326.5,2000.0" stroke="#5ab0f4" stroke-width="10.5" fill="none" stroke-linecap="round"/>
<path d="M387.8,1914.0 A101,101 0 0 1 326.5,2000.0" stroke="#0a3a7e" stroke-width="5.5" fill="none" stroke-linecap="round"/>
<path d="M311.4,2005.0 A101,101 0 0 1 210.8,1973.3" stroke="#5ab0f4" stroke-width="10.5" fill="none" stroke-linecap="round"/>
<path d="M311.4,2005.0 A101,101 0 0 1 210.8,1973.3" stroke="#0a3a7e" stroke-width="5.5" fill="none" stroke-linecap="round"/>
<path d="M201.3,1960.5 A101,101 0 0 1 200.4,1855.0" stroke="#5ab0f4" stroke-width="10.5" fill="none" stroke-linecap="round"/>
<path d="M201.3,1960.5 A101,101 0 0 1 200.4,1855.0" stroke="#0a3a7e" stroke-width="5.5" fill="none" stroke-linecap="round"/>
<path d="M209.6,1842.1 A101,101 0 0 1 309.7,1808.6" stroke="#5ab0f4" stroke-width="10.5" fill="none" stroke-linecap="round"/>
<path d="M209.6,1842.1 A101,101 0 0 1 309.7,1808.6" stroke="#0a3a7e" stroke-width="5.5" fill="none" stroke-linecap="round"/>
<path d="M324.8,1813.4 A101,101 0 0 1 387.6,1898.2" stroke="#5ab0f4" stroke-width="10.5" fill="none" stroke-linecap="round"/>
<path d="M324.8,1813.4 A101,101 0 0 1 387.6,1898.2" stroke="#0a3a7e" stroke-width="5.5" fill="none" stroke-linecap="round"/>
<path d="M366.5,1942.4 A87,87 0 0 1 291.6,1993.9" stroke="#5ab0f4" stroke-width="10.5" fill="none" stroke-linecap="round"/>
<path d="M366.5,1942.4 A87,87 0 0 1 291.6,1993.9" stroke="#0a3a7e" stroke-width="5.5" fill="none" stroke-linecap="round"/>
<path d="M277.9,1993.5 A87,87 0 0 1 205.8,1938.2" stroke="#5ab0f4" stroke-width="10.5" fill="none" stroke-linecap="round"/>
<path d="M277.9,1993.5 A87,87 0 0 1 205.8,1938.2" stroke="#0a3a7e" stroke-width="5.5" fill="none" stroke-linecap="round"/>
<path d="M201.9,1925.1 A87,87 0 0 1 232.2,1839.4" stroke="#5ab0f4" stroke-width="10.5" fill="none" stroke-linecap="round"/>
<path d="M201.9,1925.1 A87,87 0 0 1 232.2,1839.4" stroke="#0a3a7e" stroke-width="5.5" fill="none" stroke-linecap="round"/>
<path d="M243.5,1831.7 A87,87 0 0 1 334.4,1834.0" stroke="#5ab0f4" stroke-width="10.5" fill="none" stroke-linecap="round"/>
<path d="M243.5,1831.7 A87,87 0 0 1 334.4,1834.0" stroke="#0a3a7e" stroke-width="5.5" fill="none" stroke-linecap="round"/>
<path d="M345.2,1842.3 A87,87 0 0 1 371.0,1929.5" stroke="#5ab0f4" stroke-width="10.5" fill="none" stroke-linecap="round"/>
<path d="M345.2,1842.3 A87,87 0 0 1 371.0,1929.5" stroke="#0a3a7e" stroke-width="5.5" fill="none" stroke-linecap="round"/>
<path d="M358.4,1922.2 A73,73 0 0 1 305.9,1977.5" stroke="#5ab0f4" stroke-width="10.5" fill="none" stroke-linecap="round"/>
<path d="M358.4,1922.2 A73,73 0 0 1 305.9,1977.5" stroke="#0a3a7e" stroke-width="5.5" fill="none" stroke-linecap="round"/>
<path d="M294.6,1979.6 A73,73 0 0 1 225.8,1946.8" stroke="#5ab0f4" stroke-width="10.5" fill="none" stroke-linecap="round"/>
<path d="M294.6,1979.6 A73,73 0 0 1 225.8,1946.8" stroke="#0a3a7e" stroke-width="5.5" fill="none" stroke-linecap="round"/>
<path d="M220.3,1936.7 A73,73 0 0 1 230.3,1861.1" stroke="#5ab0f4" stroke-width="10.5" fill="none" stroke-linecap="round"/>
<path d="M220.3,1936.7 A73,73 0 0 1 230.3,1861.1" stroke="#0a3a7e" stroke-width="5.5" fill="none" stroke-linecap="round"/>
<path d="M238.2,1852.8 A73,73 0 0 1 313.2,1838.8" stroke="#5ab0f4" stroke-width="10.5" fill="none" stroke-linecap="round"/>
<path d="M238.2,1852.8 A73,73 0 0 1 313.2,1838.8" stroke="#0a3a7e" stroke-width="5.5" fill="none" stroke-linecap="round"/>
<path d="M323.5,1843.8 A73,73 0 0 1 359.9,1910.8" stroke="#5ab0f4" stroke-width="10.5" fill="none" stroke-linecap="round"/>
<path d="M323.5,1843.8 A73,73 0 0 1 359.9,1910.8" stroke="#0a3a7e" stroke-width="5.5" fill="none" stroke-linecap="round"/>
<path d="M335.9,1940.0 A59,59 0 0 1 262.1,1960.5" stroke="#5ab0f4" stroke-width="10.5" fill="none" stroke-linecap="round"/>
<path d="M335.9,1940.0 A59,59 0 0 1 262.1,1960.5" stroke="#0a3a7e" stroke-width="5.5" fill="none" stroke-linecap="round"/>
<path d="M254.0,1955.9 A59,59 0 0 1 233.5,1882.1" stroke="#5ab0f4" stroke-width="10.5" fill="none" stroke-linecap="round"/>
<path d="M254.0,1955.9 A59,59 0 0 1 233.5,1882.1" stroke="#0a3a7e" stroke-width="5.5" fill="none" stroke-linecap="round"/>
<path d="M238.1,1874.0 A59,59 0 0 1 311.9,1853.5" stroke="#5ab0f4" stroke-width="10.5" fill="none" stroke-linecap="round"/>
<path d="M238.1,1874.0 A59,59 0 0 1 311.9,1853.5" stroke="#0a3a7e" stroke-width="5.5" fill="none" stroke-linecap="round"/>
<path d="M320.0,1858.1 A59,59 0 0 1 340.5,1931.9" stroke="#5ab0f4" stroke-width="10.5" fill="none" stroke-linecap="round"/>
<path d="M320.0,1858.1 A59,59 0 0 1 340.5,1931.9" stroke="#0a3a7e" stroke-width="5.5" fill="none" stroke-linecap="round"/>
<path d="M329.5,1921.7 A45,45 0 0 1 279.2,1951.3" stroke="#5ab0f4" stroke-width="10.5" fill="none" stroke-linecap="round"/>
<path d="M329.5,1921.7 A45,45 0 0 1 279.2,1951.3" stroke="#0a3a7e" stroke-width="5.5" fill="none" stroke-linecap="round"/>
<path d="M272.3,1949.5 A45,45 0 0 1 242.7,1899.2" stroke="#5ab0f4" stroke-width="10.5" fill="none" stroke-linecap="round"/>
<path d="M272.3,1949.5 A45,45 0 0 1 242.7,1899.2" stroke="#0a3a7e" stroke-width="5.5" fill="none" stroke-linecap="round"/>
<path d="M244.5,1892.3 A45,45 0 0 1 294.8,1862.7" stroke="#5ab0f4" stroke-width="10.5" fill="none" stroke-linecap="round"/>
<path d="M244.5,1892.3 A45,45 0 0 1 294.8,1862.7" stroke="#0a3a7e" stroke-width="5.5" fill="none" stroke-linecap="round"/>
<path d="M301.7,1864.5 A45,45 0 0 1 331.3,1914.8" stroke="#5ab0f4" stroke-width="10.5" fill="none" stroke-linecap="round"/>
<path d="M301.7,1864.5 A45,45 0 0 1 331.3,1914.8" stroke="#0a3a7e" stroke-width="5.5" fill="none" stroke-linecap="round"/>
<path d="M309.3,1928.5 A31,31 0 0 1 258.9,1920.1" stroke="#5ab0f4" stroke-width="10.5" fill="none" stroke-linecap="round"/>
<path d="M309.3,1928.5 A31,31 0 0 1 258.9,1920.1" stroke="#0a3a7e" stroke-width="5.5" fill="none" stroke-linecap="round"/>
<path d="M257.2,1915.5 A31,31 0 0 1 289.7,1876.1" stroke="#5ab0f4" stroke-width="10.5" fill="none" stroke-linecap="round"/>
<path d="M257.2,1915.5 A31,31 0 0 1 289.7,1876.1" stroke="#0a3a7e" stroke-width="5.5" fill="none" stroke-linecap="round"/>
<path d="M294.5,1876.9 A31,31 0 0 1 312.4,1924.8" stroke="#5ab0f4" stroke-width="10.5" fill="none" stroke-linecap="round"/>
<path d="M294.5,1876.9 A31,31 0 0 1 312.4,1924.8" stroke="#0a3a7e" stroke-width="5.5" fill="none" stroke-linecap="round"/>
<path d="M304.5,1911.4 A18,18 0 0 1 269.1,1905.4" stroke="#5ab0f4" stroke-width="10.5" fill="none" stroke-linecap="round"/>
<path d="M304.5,1911.4 A18,18 0 0 1 269.1,1905.4" stroke="#0a3a7e" stroke-width="5.5" fill="none" stroke-linecap="round"/>
<path d="M269.5,1902.6 A18,18 0 0 1 304.9,1908.6" stroke="#5ab0f4" stroke-width="10.5" fill="none" stroke-linecap="round"/>
<path d="M269.5,1902.6 A18,18 0 0 1 304.9,1908.6" stroke="#0a3a7e" stroke-width="5.5" fill="none" stroke-linecap="round"/>
<circle cx="287" cy="1907" r="115" fill="none" stroke="#4aa0ec" stroke-width="3"/>
<circle cx="418.5" cy="1905.4" r="3.6" fill="#40c060"/>
<circle cx="413.6" cy="1938.6" r="3.6" fill="#f0e060"/>
<circle cx="407.3" cy="1959.7" r="3.6" fill="#40c060"/>
<circle cx="395.4" cy="1979.7" r="3.6" fill="#f0e060"/>
<circle cx="374.9" cy="2006.2" r="3.6" fill="#40c060"/>
<circle cx="356.2" cy="2015.4" r="3.6" fill="#f0e060"/>
<circle cx="333.4" cy="2031.2" r="3.6" fill="#40c060"/>
<circle cx="297.9" cy="2032.9" r="3.6" fill="#f0e060"/>
<circle cx="266.5" cy="2039.1" r="3.6" fill="#40c060"/>
<circle cx="244.3" cy="2030.8" r="3.6" fill="#f0e060"/>
<circle cx="227.2" cy="2018.2" r="3.6" fill="#40c060"/>
<circle cx="201.4" cy="2000.5" r="3.6" fill="#f0e060"/>
<circle cx="185.1" cy="1985.0" r="3.6" fill="#40c060"/>
<circle cx="170.2" cy="1964.7" r="3.6" fill="#f0e060"/>
<circle cx="156.4" cy="1934.6" r="3.6" fill="#40c060"/>
<circle cx="154.9" cy="1905.7" r="3.6" fill="#f0e060"/>
<circle cx="157.6" cy="1878.5" r="3.6" fill="#40c060"/>
<circle cx="168.7" cy="1853.9" r="3.6" fill="#f0e060"/>
<circle cx="181.9" cy="1821.3" r="3.6" fill="#40c060"/>
<circle cx="201.6" cy="1804.5" r="3.6" fill="#f0e060"/>
<circle cx="220.5" cy="1795.6" r="3.6" fill="#40c060"/>
<circle cx="245.0" cy="1785.5" r="3.6" fill="#f0e060"/>
<circle cx="276.8" cy="1776.2" r="3.6" fill="#40c060"/>
<circle cx="305.1" cy="1777.2" r="3.6" fill="#f0e060"/>
<circle cx="334.1" cy="1780.8" r="3.6" fill="#40c060"/>
<circle cx="345.7" cy="1791.5" r="3.6" fill="#f0e060"/>
<circle cx="378.4" cy="1812.5" r="3.6" fill="#40c060"/>
<circle cx="395.9" cy="1834.6" r="3.6" fill="#f0e060"/>
<circle cx="405.2" cy="1847.2" r="3.6" fill="#40c060"/>
<circle cx="414.0" cy="1882.7" r="3.6" fill="#f0e060"/>
<path d="M474,1838 L560,1914 L474,1992 Z" fill="#c8f8b0" filter="url(#blur6)"/>
<text x="117.5" y="2090.6" font-size="53" text-anchor="start" fill="#000" textLength="109" lengthAdjust="spacingAndGlyphs" >Shell</text>
<text x="430" y="2078.5" font-size="53" text-anchor="start" fill="#000" textLength="109" lengthAdjust="spacingAndGlyphs" >Core</text>
<path d="M147.0,2025.0 L183.0,1978.0 M179.8,1993.7 L183.0,1978.0 L168.7,1985.2" stroke="#000" stroke-width="3.2" fill="none" stroke-linecap="round" stroke-linejoin="miter"/>
<path d="M401.0,2025.0 L323.0,1950.6 M338.2,1955.5 L323.0,1950.6 L328.6,1965.6" stroke="#000" stroke-width="3.2" fill="none" stroke-linecap="round" stroke-linejoin="miter"/>
<rect x="1022" y="494" width="462" height="321" fill="#202020"/>
<g clip-path="url(#semc)"><g filter="url(#dispc)">
<path d="M1428.5,837.1 L1524.4,734.5 L1483.7,728.6 L1354.3,775.3 L1428.5,837.1 Z" fill="url(#cg0)"/>
<path d="M1258.2,545.6 L1183.4,552.5 L1166.7,607.3 L1189.8,613.0 L1276.7,598.7 L1277.4,597.3 L1258.2,545.6 Z" fill="url(#cg1)"/>
<path d="M1062.6,580.5 L962.0,555.4 L962.0,662.7 L1027.6,663.1 L1091.3,634.7 L1098.6,624.7 L1062.6,580.5 Z" fill="url(#cg2)"/>
<path d="M1102.9,508.0 L1153.2,513.1 L1242.2,460.7 L1243.3,434.0 L992.7,434.0 L1102.9,508.0 Z" fill="url(#cg3)"/>
<path d="M1034.7,832.6 L962.0,874.0 L962.0,875.0 L1082.6,875.0 L1040.0,832.5 L1034.7,832.6 Z" fill="url(#cg4)"/>
<path d="M1395.1,570.7 L1408.1,556.1 L1389.1,497.7 L1334.3,501.6 L1313.3,539.9 L1346.2,565.8 L1395.1,570.7 Z" fill="url(#cg5)"/>
<path d="M1282.1,813.0 L1262.9,812.9 L1202.8,867.8 L1202.3,875.0 L1323.3,875.0 L1282.1,813.0 Z" fill="url(#cg6)"/>
<path d="M1437.3,875.0 L1544.0,875.0 L1544.0,732.9 L1524.4,734.5 L1428.5,837.1 L1437.3,875.0 Z" fill="url(#cg7)"/>
<path d="M1091.3,634.7 L1180.4,718.2 L1205.4,719.8 L1267.8,702.3 L1189.8,613.0 L1166.7,607.3 L1098.6,624.7 L1091.3,634.7 Z" fill="url(#cg8)"/>
<path d="M1336.9,434.0 L1243.3,434.0 L1242.2,460.7 L1251.3,469.0 L1334.3,501.6 L1389.1,497.7 L1399.0,488.2 L1336.9,434.0 Z" fill="url(#cg9)"/>
<path d="M1346.2,565.8 L1313.3,539.9 L1261.1,543.1 L1258.2,545.6 L1277.4,597.3 L1346.2,565.8 Z" fill="url(#cg10)"/>
<path d="M1431.2,472.1 L1426.9,478.0 L1544.0,534.0 L1544.0,447.6 L1431.2,472.1 Z" fill="url(#cg11)"/>
<path d="M1335.6,772.5 L1282.1,813.0 L1323.3,875.0 L1437.3,875.0 L1428.5,837.1 L1354.3,775.3 L1335.6,772.5 Z" fill="url(#cg12)"/>
<path d="M1150.2,812.3 L1109.6,787.6 L1069.2,794.1 L1040.0,832.5 L1082.6,875.0 L1094.6,875.0 L1150.2,812.3 Z" fill="url(#cg13)"/>
<path d="M1544.0,447.6 L1544.0,434.0 L1430.5,434.0 L1431.2,472.1 L1544.0,447.6 Z" fill="url(#cg14)"/>
<path d="M1399.0,488.2 L1426.9,478.0 L1431.2,472.1 L1430.5,434.0 L1336.9,434.0 L1399.0,488.2 Z" fill="url(#cg15)"/>
<path d="M1189.8,613.0 L1267.8,702.3 L1278.8,702.5 L1309.5,628.3 L1276.7,598.7 L1189.8,613.0 Z" fill="url(#cg16)"/>
<path d="M1102.9,508.0 L992.7,434.0 L962.0,434.0 L962.0,555.4 L1062.6,580.5 L1102.9,508.0 Z" fill="url(#cg17)"/>
<path d="M1408.1,556.1 L1395.1,570.7 L1408.1,616.2 L1417.5,623.0 L1544.0,619.6 L1544.0,538.3 L1408.1,556.1 Z" fill="url(#cg18)"/>
<path d="M1109.6,787.6 L1127.2,741.5 L1053.2,720.7 L1008.4,762.1 L1069.2,794.1 L1109.6,787.6 Z" fill="url(#cg19)"/>
<path d="M1262.9,812.9 L1282.1,813.0 L1335.6,772.5 L1288.3,706.0 L1278.8,702.5 L1267.8,702.3 L1205.4,719.8 L1213.6,796.5 L1262.9,812.9 Z" fill="url(#cg20)"/>
<path d="M1166.7,607.3 L1183.4,552.5 L1153.2,513.1 L1102.9,508.0 L1062.6,580.5 L1098.6,624.7 L1166.7,607.3 Z" fill="url(#cg21)"/>
<path d="M1417.5,623.0 L1405.1,681.6 L1483.7,728.6 L1524.4,734.5 L1544.0,732.9 L1544.0,619.6 L1417.5,623.0 Z" fill="url(#cg22)"/>
<path d="M1251.3,469.0 L1242.2,460.7 L1153.2,513.1 L1183.4,552.5 L1258.2,545.6 L1261.1,543.1 L1251.3,469.0 Z" fill="url(#cg23)"/>
<path d="M1034.7,832.6 L962.0,809.7 L962.0,874.0 L1034.7,832.6 Z" fill="url(#cg24)"/>
<path d="M1034.7,832.6 L1040.0,832.5 L1069.2,794.1 L1008.4,762.1 L962.0,765.7 L962.0,809.7 L1034.7,832.6 Z" fill="url(#cg25)"/>
<path d="M1202.8,867.8 L1150.6,812.4 L1150.2,812.3 L1094.6,875.0 L1202.3,875.0 L1202.8,867.8 Z" fill="url(#cg26)"/>
<path d="M1150.6,812.4 L1202.8,867.8 L1262.9,812.9 L1213.6,796.5 L1150.6,812.4 Z" fill="url(#cg27)"/>
<path d="M1313.3,539.9 L1334.3,501.6 L1251.3,469.0 L1261.1,543.1 L1313.3,539.9 Z" fill="url(#cg28)"/>
<path d="M1483.7,728.6 L1405.1,681.6 L1288.3,706.0 L1335.6,772.5 L1354.3,775.3 L1483.7,728.6 Z" fill="url(#cg29)"/>
<path d="M1278.8,702.5 L1288.3,706.0 L1405.1,681.6 L1417.5,623.0 L1408.1,616.2 L1309.5,628.3 L1278.8,702.5 Z" fill="url(#cg30)"/>
<path d="M1180.4,718.2 L1091.3,634.7 L1027.6,663.1 L1053.2,720.7 L1127.2,741.5 L1180.4,718.2 Z" fill="url(#cg31)"/>
<path d="M1053.2,720.7 L1027.6,663.1 L962.0,662.7 L962.0,765.7 L1008.4,762.1 L1053.2,720.7 Z" fill="url(#cg32)"/>
<path d="M1276.7,598.7 L1309.5,628.3 L1408.1,616.2 L1395.1,570.7 L1346.2,565.8 L1277.4,597.3 L1276.7,598.7 Z" fill="url(#cg33)"/>
<path d="M1426.9,478.0 L1399.0,488.2 L1389.1,497.7 L1408.1,556.1 L1544.0,538.3 L1544.0,534.0 L1426.9,478.0 Z" fill="url(#cg34)"/>
<path d="M1150.2,812.3 L1150.6,812.4 L1213.6,796.5 L1205.4,719.8 L1180.4,718.2 L1127.2,741.5 L1109.6,787.6 L1150.2,812.3 Z" fill="url(#cg35)"/>
<path d="M1483.7,728.6 L1427.8,748.8 L1431.3,757.5 L1484.7,738.2 L1498.0,740.1 L1510.4,732.5 L1483.7,728.6 Z" fill="#a8a8a8" opacity="0.55"/>
<path d="M1027.6,663.1 L1049.8,653.2 L1042.9,645.1 L1025.5,652.8 L985.1,652.6 L976.6,662.8 L1027.6,663.1 Z" fill="#a8a8a8" opacity="0.55"/>
<path d="M962.0,875.0 L1010.0,875.0 L1027.0,860.3 L1026.9,860.2 L1016.2,860.2 L1022.5,856.6 L1010.2,846.5 L962.0,874.0 L962.0,875.0 Z" fill="#a8a8a8" opacity="0.55"/>
<path d="M1544.0,732.9 L1533.5,733.8 L1523.3,758.7 L1528.2,753.5 L1528.2,826.2 L1544.0,829.7 L1544.0,732.9 Z" fill="#a8a8a8" opacity="0.55"/>
<path d="M1189.8,613.0 L1166.9,607.4 L1169.9,621.2 L1182.9,624.4 L1207.2,652.2 L1219.7,647.1 L1189.8,613.0 Z" fill="#a8a8a8" opacity="0.55"/>
<path d="M1277.4,597.3 L1286.8,593.1 L1291.0,580.9 L1282.7,584.7 L1273.5,560.0 L1262.9,558.2 L1277.4,597.3 Z" fill="#a8a8a8" opacity="0.55"/>
<path d="M1544.0,534.0 L1544.0,482.2 L1529.9,483.3 L1529.9,511.7 L1506.8,500.6 L1511.4,518.4 L1544.0,534.0 Z" fill="#a8a8a8" opacity="0.55"/>
<path d="M1354.3,775.3 L1335.6,772.5 L1302.9,797.2 L1312.4,803.1 L1338.3,783.4 L1349.9,785.2 L1370.4,802.3 L1374.6,792.2 L1354.3,775.3 Z" fill="#a8a8a8" opacity="0.55"/>
<path d="M1040.0,832.5 L1071.8,864.2 L1078.4,852.8 L1056.8,831.3 L1067.0,818.0 L1054.4,813.5 L1040.0,832.5 Z" fill="#a8a8a8" opacity="0.55"/>
<path d="M1461.5,434.0 L1478.5,447.9 L1486.3,434.0 L1461.5,434.0 Z" fill="#a8a8a8" opacity="0.55"/>
<path d="M1362.0,434.0 L1380.1,445.4 L1399.4,445.4 L1404.1,434.0 L1362.0,434.0 Z" fill="#a8a8a8" opacity="0.55"/>
<path d="M962.0,434.0 L962.0,450.4 L972.3,461.1 L972.3,444.3 L989.5,444.3 L1042.4,479.8 L1048.5,471.5 L992.7,434.0 L962.0,434.0 Z" fill="#a8a8a8" opacity="0.55"/>
<path d="M1493.8,621.0 L1487.8,608.7 L1439.7,610.0 L1421.9,622.9 L1493.8,621.0 Z" fill="#a8a8a8" opacity="0.55"/>
<path d="M1089.9,731.0 L1081.9,743.1 L1108.9,750.7 L1101.1,771.3 L1113.7,776.9 L1127.2,741.5 L1089.9,731.0 Z" fill="#a8a8a8" opacity="0.55"/>
<path d="M1308.5,793.0 L1297.0,784.1 L1277.4,798.9 L1265.2,798.9 L1245.8,792.4 L1239.1,805.0 L1262.9,812.9 L1282.1,813.0 L1308.5,793.0 Z" fill="#a8a8a8" opacity="0.55"/>
<path d="M967.3,811.4 L978.0,826.8 L993.5,831.6 L1002.8,822.5 L967.3,811.4 Z" fill="#a8a8a8" opacity="0.55"/>
<path d="M1008.4,762.1 L994.1,763.2 L998.8,772.8 L1006.3,772.2 L1027.1,783.2 L1036.1,776.7 L1008.4,762.1 Z" fill="#a8a8a8" opacity="0.55"/>
<path d="M1262.9,812.9 L1253.8,809.9 L1234.1,816.4 L1239.0,818.0 L1214.3,840.6 L1220.3,851.9 L1262.9,812.9 Z" fill="#a8a8a8" opacity="0.55"/>
<path d="M1483.7,728.6 L1449.8,708.3 L1430.2,713.2 L1450.5,725.4 L1388.5,747.8 L1394.3,760.9 L1483.7,728.6 Z" fill="#a8a8a8" opacity="0.55"/>
<path d="M1357.3,691.6 L1354.6,678.2 L1298.9,689.8 L1303.9,677.7 L1286.2,684.6 L1278.8,702.5 L1288.3,706.0 L1357.3,691.6 Z" fill="#a8a8a8" opacity="0.55"/>
<path d="M1008.4,762.1 L1051.0,722.7 L1034.2,719.1 L1002.4,748.4 L998.2,748.7 L997.6,762.9 L1008.4,762.1 Z" fill="#a8a8a8" opacity="0.55"/>
<path d="M1394.7,492.3 L1409.4,499.8 L1426.1,493.8 L1454.9,507.5 L1459.3,493.5 L1426.9,478.0 L1399.0,488.2 L1394.7,492.3 Z" fill="#a8a8a8" opacity="0.55"/>
<path d="M1428.5,837.1 L1524.4,734.5 L1483.7,728.6 L1354.3,775.3 L1428.5,837.1 Z" fill="none" stroke="#c4c4c4" stroke-width="3.0"/>
<path d="M1258.2,545.6 L1183.4,552.5 L1166.7,607.3 L1189.8,613.0 L1276.7,598.7 L1277.4,597.3 L1258.2,545.6 Z" fill="none" stroke="#c4c4c4" stroke-width="4.1"/>
<path d="M1062.6,580.5 L962.0,555.4 L962.0,662.7 L1027.6,663.1 L1091.3,634.7 L1098.6,624.7 L1062.6,580.5 Z" fill="none" stroke="#c4c4c4" stroke-width="2.4"/>
<path d="M1102.9,508.0 L1153.2,513.1 L1242.2,460.7 L1243.3,434.0 L992.7,434.0 L1102.9,508.0 Z" fill="none" stroke="#c4c4c4" stroke-width="3.6"/>
<path d="M1034.7,832.6 L962.0,874.0 L962.0,875.0 L1082.6,875.0 L1040.0,832.5 L1034.7,832.6 Z" fill="none" stroke="#c4c4c4" stroke-width="3.6"/>
<path d="M1395.1,570.7 L1408.1,556.1 L1389.1,497.7 L1334.3,501.6 L1313.3,539.9 L1346.2,565.8 L1395.1,570.7 Z" fill="none" stroke="#c4c4c4" stroke-width="3.2"/>
<path d="M1282.1,813.0 L1262.9,812.9 L1202.8,867.8 L1202.3,875.0 L1323.3,875.0 L1282.1,813.0 Z" fill="none" stroke="#c4c4c4" stroke-width="3.4"/>
<path d="M1437.3,875.0 L1544.0,875.0 L1544.0,732.9 L1524.4,734.5 L1428.5,837.1 L1437.3,875.0 Z" fill="none" stroke="#c4c4c4" stroke-width="4.2"/>
<path d="M1091.3,634.7 L1180.4,718.2 L1205.4,719.8 L1267.8,702.3 L1189.8,613.0 L1166.7,607.3 L1098.6,624.7 L1091.3,634.7 Z" fill="none" stroke="#c4c4c4" stroke-width="3.3"/>
<path d="M1336.9,434.0 L1243.3,434.0 L1242.2,460.7 L1251.3,469.0 L1334.3,501.6 L1389.1,497.7 L1399.0,488.2 L1336.9,434.0 Z" fill="none" stroke="#c4c4c4" stroke-width="3.7"/>
<path d="M1346.2,565.8 L1313.3,539.9 L1261.1,543.1 L1258.2,545.6 L1277.4,597.3 L1346.2,565.8 Z" fill="none" stroke="#c4c4c4" stroke-width="2.9"/>
<path d="M1431.2,472.1 L1426.9,478.0 L1544.0,534.0 L1544.0,447.6 L1431.2,472.1 Z" fill="none" stroke="#c4c4c4" stroke-width="3.5"/>
<path d="M1335.6,772.5 L1282.1,813.0 L1323.3,875.0 L1437.3,875.0 L1428.5,837.1 L1354.3,775.3 L1335.6,772.5 Z" fill="none" stroke="#c4c4c4" stroke-width="2.3"/>
<path d="M1150.2,812.3 L1109.6,787.6 L1069.2,794.1 L1040.0,832.5 L1082.6,875.0 L1094.6,875.0 L1150.2,812.3 Z" fill="none" stroke="#c4c4c4" stroke-width="3.2"/>
<path d="M1544.0,447.6 L1544.0,434.0 L1430.5,434.0 L1431.2,472.1 L1544.0,447.6 Z" fill="none" stroke="#c4c4c4" stroke-width="2.7"/>
<path d="M1399.0,488.2 L1426.9,478.0 L1431.2,472.1 L1430.5,434.0 L1336.9,434.0 L1399.0,488.2 Z" fill="none" stroke="#c4c4c4" stroke-width="3.3"/>
<path d="M1189.8,613.0 L1267.8,702.3 L1278.8,702.5 L1309.5,628.3 L1276.7,598.7 L1189.8,613.0 Z" fill="none" stroke="#c4c4c4" stroke-width="4.1"/>
<path d="M1102.9,508.0 L992.7,434.0 L962.0,434.0 L962.0,555.4 L1062.6,580.5 L1102.9,508.0 Z" fill="none" stroke="#c4c4c4" stroke-width="3.6"/>
<path d="M1408.1,556.1 L1395.1,570.7 L1408.1,616.2 L1417.5,623.0 L1544.0,619.6 L1544.0,538.3 L1408.1,556.1 Z" fill="none" stroke="#c4c4c4" stroke-width="3.4"/>
<path d="M1109.6,787.6 L1127.2,741.5 L1053.2,720.7 L1008.4,762.1 L1069.2,794.1 L1109.6,787.6 Z" fill="none" stroke="#c4c4c4" stroke-width="3.5"/>
<path d="M1262.9,812.9 L1282.1,813.0 L1335.6,772.5 L1288.3,706.0 L1278.8,702.5 L1267.8,702.3 L1205.4,719.8 L1213.6,796.5 L1262.9,812.9 Z" fill="none" stroke="#c4c4c4" stroke-width="4.5"/>
<path d="M1166.7,607.3 L1183.4,552.5 L1153.2,513.1 L1102.9,508.0 L1062.6,580.5 L1098.6,624.7 L1166.7,607.3 Z" fill="none" stroke="#c4c4c4" stroke-width="3.8"/>
<path d="M1417.5,623.0 L1405.1,681.6 L1483.7,728.6 L1524.4,734.5 L1544.0,732.9 L1544.0,619.6 L1417.5,623.0 Z" fill="none" stroke="#c4c4c4" stroke-width="2.3"/>
<path d="M1251.3,469.0 L1242.2,460.7 L1153.2,513.1 L1183.4,552.5 L1258.2,545.6 L1261.1,543.1 L1251.3,469.0 Z" fill="none" stroke="#c4c4c4" stroke-width="3.3"/>
<path d="M1034.7,832.6 L962.0,809.7 L962.0,874.0 L1034.7,832.6 Z" fill="none" stroke="#c4c4c4" stroke-width="3.9"/>
<path d="M1034.7,832.6 L1040.0,832.5 L1069.2,794.1 L1008.4,762.1 L962.0,765.7 L962.0,809.7 L1034.7,832.6 Z" fill="none" stroke="#c4c4c4" stroke-width="3.9"/>
<path d="M1202.8,867.8 L1150.6,812.4 L1150.2,812.3 L1094.6,875.0 L1202.3,875.0 L1202.8,867.8 Z" fill="none" stroke="#c4c4c4" stroke-width="4.4"/>
<path d="M1150.6,812.4 L1202.8,867.8 L1262.9,812.9 L1213.6,796.5 L1150.6,812.4 Z" fill="none" stroke="#c4c4c4" stroke-width="3.5"/>
<path d="M1313.3,539.9 L1334.3,501.6 L1251.3,469.0 L1261.1,543.1 L1313.3,539.9 Z" fill="none" stroke="#c4c4c4" stroke-width="4.2"/>
<path d="M1483.7,728.6 L1405.1,681.6 L1288.3,706.0 L1335.6,772.5 L1354.3,775.3 L1483.7,728.6 Z" fill="none" stroke="#c4c4c4" stroke-width="4.2"/>
<path d="M1278.8,702.5 L1288.3,706.0 L1405.1,681.6 L1417.5,623.0 L1408.1,616.2 L1309.5,628.3 L1278.8,702.5 Z" fill="none" stroke="#c4c4c4" stroke-width="4.2"/>
<path d="M1180.4,718.2 L1091.3,634.7 L1027.6,663.1 L1053.2,720.7 L1127.2,741.5 L1180.4,718.2 Z" fill="none" stroke="#c4c4c4" stroke-width="4.4"/>
<path d="M1053.2,720.7 L1027.6,663.1 L962.0,662.7 L962.0,765.7 L1008.4,762.1 L1053.2,720.7 Z" fill="none" stroke="#c4c4c4" stroke-width="2.5"/>
<path d="M1276.7,598.7 L1309.5,628.3 L1408.1,616.2 L1395.1,570.7 L1346.2,565.8 L1277.4,597.3 L1276.7,598.7 Z" fill="none" stroke="#c4c4c4" stroke-width="2.8"/>
<path d="M1426.9,478.0 L1399.0,488.2 L1389.1,497.7 L1408.1,556.1 L1544.0,538.3 L1544.0,534.0 L1426.9,478.0 Z" fill="none" stroke="#c4c4c4" stroke-width="2.3"/>
<path d="M1150.2,812.3 L1150.6,812.4 L1213.6,796.5 L1205.4,719.8 L1180.4,718.2 L1127.2,741.5 L1109.6,787.6 L1150.2,812.3 Z" fill="none" stroke="#c4c4c4" stroke-width="4.0"/>
</g></g>
<g opacity="1.0"><rect x="1022" y="494" width="462" height="321" filter="url(#sf4)"/></g>
<rect x="1296" y="799" width="175" height="7" fill="#ffff00"/>
<rect x="1326" y="751" width="115" height="42" fill="#ffff00"/>
<text x="1383.5" y="785.44" font-size="36" text-anchor="middle" textLength="108" lengthAdjust="spacingAndGlyphs">300 µm</text>
<rect x="1557" y="491" width="467" height="324" fill="#1e1e1e"/>
<g clip-path="url(#semd)">
<path d="M1556.9,601.1 L1605.3,601.1 L1674.4,639.8 L1826.5,711.7 L1942.6,747.6 L1959.2,814.0 L1743.5,814.0 L1632.9,733.8 L1556.9,720.0 Z" fill="#2e2e2e"/>
<path d="M1674.4,639.8 L1826.5,711.7 L1942.6,747.6 L1909.4,814.0 L1826.5,814.0 L1743.5,747.6 L1641.2,678.5 Z" fill="#3a3a3a"/>
<path d="M1556.9,490.5 L1704.8,490.5 L1749.1,512.6 L1660.6,534.8 L1556.9,547.2 Z" fill="#a4a4a4"/>
<path d="M1704.8,490.5 L2024.1,490.5 L2024.1,562.4 L1848.6,592.8 L1754.6,515.4 Z" fill="#080808"/>
<path d="M1826.5,501.6 L2024.1,501.6 L2024.1,540.3 L1854.1,567.9 Z" fill="#121212"/>
<path d="M1605.3,543.1 L1749.1,515.4 L1854.1,603.9 L1956.4,700.6 L1948.1,747.6 L1895.6,733.8 L1826.5,711.7 L1674.4,639.8 L1605.3,601.1 Z" fill="url(#plateg)"/>
<path d="M1605.3,548.6 L1668.9,537.5 L1693.8,595.6 L1632.9,606.6 Z" fill="#5a5a5a" opacity="0.7"/>
<path d="M1848.6,592.8 L2024.1,563.8 L2024.1,614.9 L1981.3,661.9 L1950.9,700.6 L1881.8,623.2 Z" fill="#6e6e6e"/>
<path d="M1981.3,661.9 L2024.1,617.7 L2024.1,814.0 L1981.3,814.0 L1964.7,747.6 Z" fill="#070707"/>
<path d="M1556.9,733.8 L1632.9,761.5 L1715.9,814.0 L1556.9,814.0 Z" fill="#8c8c8c"/>
<path d="M1655.1,628.8 L1771.2,678.5 L1895.6,728.3 L1881.8,739.4 L1743.5,684.1 L1646.8,639.8 Z" fill="#b4b4b4" opacity="0.8"/>
<path d="M1749.1,515.4 L1854.1,603.9 L1956.4,700.6 Z" stroke="#d8d8d8" stroke-width="3" fill="none"/>
<path d="M1556.9,544.4 L1660.6,532.0 L1749.1,512.6 Z" stroke="#e0e0e0" stroke-width="3" fill="none"/>
<path d="M1854.1,590.1 L2024.1,567.9 Z" stroke="#c8c8c8" stroke-width="3" fill="none" opacity="0.7"/>
</g>
<g opacity="1.0" clip-path="url(#semd)"><rect x="1557" y="491" width="467" height="324" filter="url(#sf5)"/></g>
<rect x="1852" y="799" width="165" height="7" fill="#ffff00"/>
<rect x="1896" y="752" width="96" height="41" fill="#ffff00"/>
<text x="1944.0" y="785.62" font-size="36" text-anchor="middle" textLength="88" lengthAdjust="spacingAndGlyphs">30 µm</text>
<rect x="574" y="1717" width="463" height="359" fill="#121212"/>
<g filter="url(#discrough)"><ellipse cx="803" cy="1899" rx="160" ry="174" fill="url(#fsideg)"/></g>
<g opacity="1.0" clip-path="url(#fout)"><rect x="630" y="1720" width="340" height="360" filter="url(#sf6)"/></g>
<ellipse cx="808" cy="1880" rx="146" ry="136" fill="#2e2e2e"/>
<g opacity="1.0" clip-path="url(#ftop)"><rect x="655" y="1740" width="310" height="285" filter="url(#sf7)"/></g>
<g opacity="0.6" clip-path="url(#ftop)"><rect x="655" y="1740" width="310" height="285" filter="url(#sf8)"/></g>
<g filter="url(#dispf)" clip-path="url(#ftop)">
<circle cx="790" cy="1850" r="14" fill="#080808"/>
<circle cx="830" cy="1865" r="12" fill="#080808"/>
<circle cx="860" cy="1835" r="10" fill="#080808"/>
<circle cx="770" cy="1890" r="11" fill="#080808"/>
<circle cx="815" cy="1905" r="13" fill="#080808"/>
<circle cx="855" cy="1890" r="10" fill="#080808"/>
<circle cx="890" cy="1860" r="9" fill="#080808"/>
<circle cx="740" cy="1860" r="9" fill="#080808"/>
<circle cx="880" cy="1910" r="9" fill="#080808"/>
<circle cx="800" cy="1820" r="8" fill="#080808"/>
</g>
<g opacity="0.5" clip-path="url(#semf)"><rect x="574" y="1717" width="463" height="359" filter="url(#sf9)"/></g>
<rect x="857.5" y="2054" width="167" height="7" fill="#ffff00"/>
<rect x="898" y="2003.5" width="88" height="41.5" fill="#ffff00"/>
<text x="942.0" y="2037.53" font-size="36" text-anchor="middle" textLength="78" lengthAdjust="spacingAndGlyphs">1 mm</text>
<rect x="81" y="2120" width="440" height="344" fill="#4a4a4a"/>
<rect x="81" y="2120" width="440" height="344" filter="url(#sf10)" opacity="0.5" />
<g clip-path="url(#semgl)"><g filter="url(#dispg)">
<path d="M571.4,2085.8 L571.7,2085.6 L572.1,2085.4 L572.4,2085.2 L572.7,2084.9 L573.0,2084.6 L573.2,2084.3 L573.5,2084.0 L573.6,2083.6 L573.8,2083.2 L573.9,2082.8 L573.9,2082.4 L573.9,2082.0 L573.9,2081.6 L573.8,2081.2 L573.7,2080.8 L556.2,2027.0 L556.1,2026.6 L555.9,2026.3 L555.7,2026.0 L555.5,2025.6 L555.2,2025.4 L554.9,2025.1 L554.6,2024.9 L554.2,2024.7 L553.9,2024.5 L553.5,2024.4 L553.1,2024.3 L552.7,2024.3 L552.3,2024.3 L551.9,2024.3 L551.5,2024.4 L516.3,2032.9 L515.9,2033.0 L515.6,2033.2 L515.2,2033.3 L514.9,2033.6 L514.6,2033.8 L514.4,2034.0 L439.0,2112.7 L438.7,2113.0 L438.5,2113.3 L438.3,2113.7 L438.1,2114.0 L438.0,2114.4 L437.9,2114.8 L437.9,2115.1 L437.9,2115.5 L437.9,2115.9 L438.0,2116.3 L438.1,2116.7 L438.2,2117.1 L438.4,2117.4 L438.6,2117.7 L447.6,2130.7 L447.8,2131.0 L448.1,2131.3 L448.3,2131.6 L448.7,2131.8 L449.0,2132.0 L449.3,2132.2 L449.7,2132.3 L450.1,2132.4 L450.4,2132.4 L450.8,2132.5 L451.2,2132.4 L451.6,2132.4 L451.9,2132.3 L452.3,2132.2 L571.4,2085.8 Z" fill="#a8a8a8"/>
<path d="M340.2,2408.8 L339.9,2409.0 L339.5,2409.2 L339.3,2409.4 L339.0,2409.6 L338.7,2409.9 L325.8,2426.3 L325.5,2426.6 L325.3,2427.0 L325.2,2427.3 L325.0,2427.7 L325.0,2428.1 L324.9,2428.5 L324.9,2428.9 L324.9,2429.3 L325.0,2429.7 L325.1,2430.1 L325.2,2430.4 L325.4,2430.8 L325.6,2431.1 L325.9,2431.4 L326.2,2431.7 L326.5,2432.0 L326.8,2432.2 L327.1,2432.4 L327.5,2432.5 L327.9,2432.7 L328.3,2432.7 L362.0,2438.1 L362.3,2438.1 L362.7,2438.1 L363.1,2438.1 L363.4,2438.0 L363.8,2437.9 L450.6,2411.4 L451.0,2411.3 L451.3,2411.1 L451.7,2410.9 L452.0,2410.6 L452.3,2410.3 L452.6,2410.0 L456.2,2405.4 L456.4,2405.0 L456.6,2404.7 L456.7,2404.3 L456.9,2404.0 L456.9,2403.6 L457.0,2403.2 L457.0,2402.8 L457.0,2402.4 L456.9,2402.0 L456.8,2401.6 L456.6,2401.2 L456.4,2400.9 L456.2,2400.6 L456.0,2400.3 L455.7,2400.0 L455.4,2399.7 L420.3,2373.5 L420.0,2373.2 L419.7,2373.1 L419.3,2372.9 L418.9,2372.8 L418.5,2372.7 L418.2,2372.7 L417.8,2372.7 L417.4,2372.7 L417.0,2372.8 L416.6,2372.9 L416.2,2373.0 L340.2,2408.8 Z" fill="#a8a8a8"/>
<path d="M462.5,2481.2 L462.1,2481.2 L461.7,2481.2 L461.3,2481.3 L460.9,2481.4 L460.6,2481.5 L399.6,2507.4 L399.2,2507.6 L398.9,2507.8 L398.6,2508.0 L398.3,2508.3 L343.9,2562.9 L343.6,2563.2 L343.4,2563.5 L343.2,2563.8 L343.0,2564.2 L342.9,2564.5 L342.8,2564.9 L342.8,2565.3 L342.7,2565.7 L342.8,2566.1 L342.8,2566.5 L342.9,2566.9 L343.0,2567.2 L343.2,2567.6 L346.5,2573.9 L346.7,2574.2 L347.0,2574.5 L347.2,2574.8 L347.5,2575.1 L347.9,2575.3 L348.2,2575.5 L348.6,2575.7 L348.9,2575.8 L349.3,2575.9 L349.7,2576.0 L350.1,2576.0 L350.5,2575.9 L350.9,2575.9 L351.3,2575.8 L525.7,2519.1 L526.0,2519.0 L526.4,2518.8 L526.7,2518.6 L527.1,2518.3 L527.3,2518.1 L527.6,2517.7 L527.8,2517.4 L528.0,2517.1 L528.2,2516.7 L528.3,2516.3 L528.4,2515.9 L528.4,2515.5 L528.4,2515.1 L528.4,2514.7 L528.3,2514.3 L528.2,2513.9 L518.5,2488.3 L518.4,2488.0 L518.2,2487.6 L517.9,2487.3 L517.6,2487.0 L517.3,2486.7 L517.0,2486.5 L516.7,2486.2 L516.3,2486.1 L515.9,2485.9 L515.5,2485.8 L515.1,2485.8 L462.5,2481.2 Z" fill="#a8a8a8"/>
<path d="M533.7,2480.6 L533.4,2480.8 L533.2,2481.1 L532.9,2481.4 L532.7,2481.7 L532.5,2482.1 L532.4,2482.5 L532.3,2482.8 L532.2,2483.2 L532.2,2483.6 L532.2,2484.0 L532.2,2484.4 L532.3,2484.8 L532.4,2485.1 L541.4,2508.9 L541.6,2509.3 L541.8,2509.6 L542.0,2509.9 L542.2,2510.2 L542.5,2510.5 L542.8,2510.7 L543.1,2510.9 L543.4,2511.1 L543.8,2511.3 L544.1,2511.4 L544.5,2511.4 L544.9,2511.5 L545.3,2511.5 L545.7,2511.5 L546.0,2511.4 L546.4,2511.3 L609.3,2490.9 L609.6,2490.7 L610.0,2490.6 L610.3,2490.4 L610.6,2490.1 L610.9,2489.8 L611.2,2489.5 L611.4,2489.2 L611.6,2488.9 L611.8,2488.5 L622.5,2461.1 L622.6,2460.7 L622.7,2460.3 L622.8,2459.9 L622.8,2459.6 L622.7,2459.2 L622.7,2458.8 L622.6,2458.4 L622.5,2458.1 L622.3,2457.7 L622.1,2457.4 L621.9,2457.1 L621.6,2456.8 L621.3,2456.5 L621.0,2456.3 L620.7,2456.1 L620.3,2455.9 L620.0,2455.8 L619.6,2455.7 L579.1,2447.1 L578.7,2447.1 L578.3,2447.1 L577.9,2447.1 L577.6,2447.1 L577.2,2447.2 L576.8,2447.3 L576.5,2447.5 L576.1,2447.7 L575.8,2447.9 L533.7,2480.6 Z" fill="#a8a8a8"/>
<path d="M96.7,2279.5 L96.4,2279.5 L96.0,2279.5 L95.7,2279.6 L95.3,2279.6 L-27.0,2317.4 L-27.3,2317.6 L-27.7,2317.7 L-28.0,2317.9 L-28.3,2318.2 L-28.6,2318.4 L-28.9,2318.7 L-29.1,2319.1 L-29.3,2319.4 L-29.5,2319.8 L-29.6,2320.1 L-29.7,2320.5 L-29.8,2320.9 L-29.8,2321.3 L-29.8,2321.7 L-29.7,2322.1 L-29.6,2322.5 L5.2,2429.4 L5.3,2429.8 L5.5,2430.1 L5.7,2430.5 L6.0,2430.8 L6.2,2431.1 L6.5,2431.4 L6.9,2431.6 L7.2,2431.8 L7.6,2431.9 L8.0,2432.0 L8.4,2432.1 L8.8,2432.2 L9.2,2432.2 L9.6,2432.1 L10.0,2432.0 L32.8,2426.0 L33.2,2425.9 L33.5,2425.7 L33.9,2425.5 L34.2,2425.3 L34.5,2425.0 L162.4,2302.2 L162.7,2301.9 L162.9,2301.6 L163.1,2301.3 L163.3,2300.9 L163.4,2300.5 L163.5,2300.1 L164.2,2296.5 L164.3,2296.1 L164.3,2295.7 L164.3,2295.3 L164.2,2294.9 L164.1,2294.5 L163.9,2294.1 L163.7,2293.7 L163.5,2293.4 L163.3,2293.1 L163.0,2292.8 L162.7,2292.5 L162.3,2292.3 L145.5,2282.3 L145.1,2282.1 L144.8,2282.0 L144.4,2281.9 L144.0,2281.8 L143.6,2281.8 L96.7,2279.5 Z" fill="#a8a8a8"/>
<path d="M196.1,2072.9 L196.3,2073.3 L196.5,2073.6 L196.7,2074.0 L197.0,2074.3 L197.3,2074.5 L197.6,2074.7 L198.0,2074.9 L198.4,2075.1 L198.7,2075.2 L199.1,2075.3 L199.5,2075.3 L199.9,2075.3 L200.3,2075.3 L200.7,2075.2 L201.1,2075.1 L269.6,2050.3 L270.0,2050.2 L270.3,2050.0 L270.7,2049.7 L271.0,2049.5 L271.3,2049.2 L271.5,2048.8 L271.7,2048.5 L271.9,2048.1 L283.3,2021.6 L283.4,2021.3 L283.5,2020.9 L283.6,2020.5 L283.6,2020.1 L283.6,2019.7 L283.6,2019.4 L283.5,2019.0 L283.3,2018.6 L283.2,2018.3 L283.0,2017.9 L282.8,2017.6 L282.5,2017.3 L270.8,2005.0 L270.5,2004.7 L270.2,2004.5 L269.8,2004.3 L269.4,2004.1 L269.1,2004.0 L268.7,2003.9 L268.3,2003.8 L267.8,2003.8 L267.4,2003.8 L267.0,2003.9 L266.6,2004.0 L182.6,2031.3 L182.2,2031.4 L181.9,2031.6 L181.6,2031.8 L181.2,2032.0 L181.0,2032.3 L180.7,2032.6 L180.5,2032.9 L180.3,2033.3 L180.1,2033.6 L180.0,2034.0 L179.9,2034.4 L179.9,2034.8 L179.8,2035.2 L179.9,2035.6 L179.9,2035.9 L180.0,2036.3 L180.2,2036.7 L196.1,2072.9 Z" fill="#a8a8a8"/>
<path d="M70.1,2645.2 L70.2,2645.6 L70.4,2646.0 L70.6,2646.3 L70.8,2646.6 L71.1,2646.9 L71.4,2647.2 L71.7,2647.4 L72.1,2647.6 L72.4,2647.7 L72.8,2647.9 L73.2,2648.0 L73.6,2648.0 L74.0,2648.0 L74.4,2648.0 L74.8,2647.9 L75.1,2647.8 L75.5,2647.6 L75.9,2647.5 L76.2,2647.3 L76.5,2647.0 L76.8,2646.7 L77.0,2646.4 L77.3,2646.1 L139.7,2544.2 L139.9,2543.9 L140.1,2543.5 L140.2,2543.2 L140.3,2542.8 L140.3,2542.4 L140.3,2542.0 L140.3,2541.7 L140.2,2541.3 L140.1,2540.9 L140.0,2540.6 L139.8,2540.2 L139.6,2539.9 L139.4,2539.6 L132.3,2531.2 L132.0,2530.9 L131.7,2530.6 L131.4,2530.4 L131.1,2530.2 L130.7,2530.0 L130.3,2529.9 L129.9,2529.8 L129.5,2529.7 L129.1,2529.7 L128.7,2529.8 L128.3,2529.8 L43.6,2549.7 L43.2,2549.9 L42.8,2550.0 L42.5,2550.2 L42.2,2550.4 L41.9,2550.6 L41.6,2550.9 L41.3,2551.2 L41.1,2551.5 L40.9,2551.8 L40.8,2552.2 L40.6,2552.6 L40.6,2553.0 L40.5,2553.3 L40.5,2553.7 L40.5,2554.1 L40.6,2554.5 L40.7,2554.9 L70.1,2645.2 Z" fill="#a8a8a8"/>
<path d="M586.0,2385.7 L585.7,2385.9 L585.4,2386.2 L585.1,2386.5 L584.9,2386.8 L584.6,2387.1 L584.5,2387.5 L584.3,2387.8 L584.2,2388.2 L584.1,2388.6 L584.1,2389.0 L584.1,2389.4 L584.1,2389.8 L584.2,2390.2 L586.4,2398.1 L586.5,2398.5 L586.7,2398.9 L586.9,2399.2 L587.1,2399.5 L587.3,2399.8 L587.6,2400.1 L587.9,2400.3 L588.2,2400.5 L588.6,2400.7 L588.9,2400.9 L589.3,2401.0 L589.7,2401.0 L590.1,2401.1 L590.5,2401.1 L590.8,2401.0 L670.3,2389.4 L670.6,2389.4 L671.0,2389.3 L671.4,2389.1 L671.7,2388.9 L672.0,2388.7 L672.3,2388.5 L672.6,2388.2 L672.9,2387.9 L673.1,2387.6 L673.3,2387.3 L673.4,2386.9 L673.5,2386.5 L673.6,2386.2 L673.7,2385.8 L673.7,2385.4 L673.6,2385.0 L673.6,2384.6 L673.5,2384.2 L661.1,2346.1 L660.9,2345.7 L660.8,2345.3 L660.5,2345.0 L660.3,2344.7 L660.0,2344.4 L659.7,2344.1 L659.4,2343.9 L659.0,2343.7 L658.7,2343.6 L658.3,2343.4 L657.9,2343.4 L657.5,2343.3 L657.1,2343.3 L656.7,2343.4 L656.3,2343.4 L655.9,2343.6 L655.6,2343.7 L655.2,2343.9 L586.0,2385.7 Z" fill="#a8a8a8"/>
<path d="M205.1,2407.1 L204.8,2406.8 L204.4,2406.6 L204.1,2406.5 L203.7,2406.3 L203.4,2406.2 L203.0,2406.2 L202.6,2406.2 L202.2,2406.2 L201.8,2406.2 L201.5,2406.3 L98.4,2434.3 L98.0,2434.4 L97.6,2434.6 L97.3,2434.8 L96.9,2435.0 L96.6,2435.3 L96.4,2435.6 L96.1,2435.9 L95.9,2436.2 L95.7,2436.6 L95.6,2437.0 L95.5,2437.3 L95.4,2437.7 L95.4,2438.1 L95.4,2438.5 L95.5,2438.9 L95.6,2439.3 L95.7,2439.7 L95.9,2440.1 L96.1,2440.4 L96.3,2440.7 L96.6,2441.0 L96.9,2441.3 L97.2,2441.5 L135.2,2466.7 L135.5,2466.9 L135.8,2467.1 L136.2,2467.2 L136.6,2467.3 L136.9,2467.4 L137.3,2467.4 L137.7,2467.4 L138.1,2467.3 L138.5,2467.2 L138.8,2467.1 L227.1,2433.1 L227.5,2432.9 L227.8,2432.7 L228.1,2432.5 L228.4,2432.2 L228.7,2432.0 L228.9,2431.6 L229.2,2431.3 L229.3,2431.0 L229.5,2430.6 L229.6,2430.2 L229.6,2429.8 L229.7,2429.4 L229.6,2429.0 L229.6,2428.6 L229.5,2428.2 L229.4,2427.9 L229.2,2427.5 L229.0,2427.2 L228.8,2426.8 L228.5,2426.5 L228.2,2426.3 L205.1,2407.1 Z" fill="#a8a8a8"/>
<path d="M250.0,2438.9 L249.6,2438.9 L249.2,2438.9 L248.8,2438.9 L248.4,2439.0 L248.0,2439.1 L145.0,2478.8 L144.6,2479.0 L144.3,2479.2 L144.0,2479.4 L143.7,2479.6 L143.4,2479.9 L143.2,2480.2 L143.0,2480.5 L142.8,2480.9 L142.7,2481.2 L142.6,2481.6 L142.5,2482.0 L142.4,2482.3 L142.4,2482.7 L142.5,2483.1 L145.1,2502.3 L145.1,2502.7 L145.3,2503.1 L145.4,2503.4 L145.6,2503.8 L145.8,2504.1 L146.0,2504.4 L146.3,2504.7 L146.6,2505.0 L146.9,2505.2 L147.3,2505.4 L147.6,2505.5 L148.0,2505.6 L148.4,2505.7 L148.8,2505.8 L149.2,2505.8 L149.5,2505.7 L149.9,2505.7 L150.3,2505.6 L270.0,2465.7 L270.4,2465.6 L270.8,2465.4 L271.1,2465.1 L271.5,2464.9 L271.8,2464.5 L284.3,2450.0 L284.5,2449.7 L284.7,2449.4 L284.9,2449.0 L285.0,2448.7 L285.1,2448.3 L285.2,2447.9 L285.2,2447.5 L285.2,2447.1 L285.2,2446.7 L285.1,2446.3 L285.0,2446.0 L284.8,2445.6 L284.6,2445.3 L284.4,2445.0 L284.2,2444.7 L283.9,2444.4 L283.6,2444.1 L283.3,2443.9 L282.9,2443.8 L282.5,2443.6 L282.2,2443.5 L281.8,2443.4 L250.0,2438.9 Z" fill="#a8a8a8"/>
<path d="M146.8,2520.3 L146.5,2520.4 L146.1,2520.6 L145.8,2520.8 L145.4,2521.1 L145.1,2521.4 L144.9,2521.7 L142.4,2525.1 L142.1,2525.4 L142.0,2525.8 L141.8,2526.1 L141.7,2526.5 L141.6,2526.8 L141.6,2527.2 L141.6,2527.6 L141.6,2528.0 L141.7,2528.4 L141.8,2528.7 L141.9,2529.1 L142.1,2529.4 L142.3,2529.8 L142.5,2530.1 L145.3,2533.4 L145.6,2533.7 L145.9,2534.0 L146.2,2534.2 L146.5,2534.4 L146.9,2534.6 L147.3,2534.7 L147.6,2534.8 L148.0,2534.8 L262.4,2545.5 L262.8,2545.5 L263.1,2545.5 L263.5,2545.5 L265.1,2545.2 L265.5,2545.1 L265.9,2545.0 L266.2,2544.8 L266.6,2544.6 L266.9,2544.4 L267.2,2544.1 L267.5,2543.8 L267.7,2543.5 L267.9,2543.1 L268.1,2542.8 L268.2,2542.4 L268.3,2542.0 L268.4,2541.6 L268.4,2541.2 L267.2,2485.6 L267.2,2485.3 L267.2,2484.9 L267.0,2484.5 L266.9,2484.1 L266.7,2483.8 L266.5,2483.4 L266.3,2483.1 L266.0,2482.8 L265.7,2482.6 L265.4,2482.4 L265.0,2482.2 L264.7,2482.0 L264.3,2481.9 L263.9,2481.8 L263.5,2481.7 L263.1,2481.7 L262.7,2481.8 L262.4,2481.8 L262.0,2481.9 L146.8,2520.3 Z" fill="#a8a8a8"/>
<path d="M637.4,2451.7 L637.1,2451.9 L636.8,2452.1 L636.5,2452.4 L636.2,2452.6 L635.9,2452.9 L635.7,2453.2 L635.5,2453.6 L635.4,2453.9 L623.0,2485.7 L622.8,2486.0 L622.7,2486.4 L622.7,2486.8 L622.7,2487.2 L622.7,2487.6 L622.8,2488.0 L622.9,2488.4 L623.0,2488.7 L623.2,2489.1 L623.4,2489.4 L623.6,2489.7 L623.9,2490.0 L624.2,2490.3 L624.5,2490.5 L624.9,2490.7 L625.2,2490.8 L625.6,2491.0 L626.0,2491.1 L626.4,2491.1 L626.8,2491.1 L627.2,2491.1 L627.5,2491.0 L627.9,2490.9 L699.0,2467.8 L699.4,2467.7 L699.7,2467.5 L700.1,2467.3 L700.4,2467.1 L700.7,2466.8 L700.9,2466.5 L701.2,2466.2 L701.3,2465.8 L701.5,2465.5 L701.6,2465.1 L701.7,2464.7 L701.8,2464.3 L701.8,2463.9 L701.8,2463.5 L701.7,2463.2 L701.6,2462.8 L691.5,2431.7 L691.4,2431.3 L691.2,2431.0 L691.0,2430.6 L690.7,2430.3 L690.4,2430.0 L690.1,2429.8 L689.8,2429.6 L689.5,2429.4 L689.1,2429.2 L688.7,2429.1 L688.3,2429.0 L687.9,2429.0 L687.5,2428.9 L687.2,2429.0 L686.8,2429.1 L686.4,2429.2 L686.0,2429.3 L637.4,2451.7 Z" fill="#a8a8a8"/>
<path d="M588.5,2410.0 L588.1,2410.1 L587.7,2410.2 L587.4,2410.4 L587.0,2410.6 L586.7,2410.8 L586.4,2411.1 L586.1,2411.4 L585.8,2411.7 L585.6,2412.0 L585.4,2412.4 L585.3,2412.8 L585.2,2413.1 L581.3,2431.4 L581.3,2431.8 L581.2,2432.2 L581.2,2432.6 L581.3,2432.9 L581.4,2433.3 L581.5,2433.7 L581.7,2434.1 L581.9,2434.4 L582.1,2434.7 L582.4,2435.0 L582.7,2435.3 L583.0,2435.5 L583.3,2435.7 L583.7,2435.9 L584.0,2436.0 L584.4,2436.1 L632.7,2446.3 L633.1,2446.4 L633.5,2446.4 L633.8,2446.4 L634.2,2446.4 L634.6,2446.3 L634.9,2446.2 L635.2,2446.0 L682.7,2424.1 L683.0,2424.0 L683.4,2423.8 L683.7,2423.5 L684.0,2423.2 L684.2,2422.9 L684.4,2422.6 L684.6,2422.3 L684.8,2421.9 L684.9,2421.6 L685.0,2421.2 L685.0,2420.8 L685.0,2420.4 L685.0,2420.0 L684.9,2419.7 L684.8,2419.3 L678.6,2400.2 L678.5,2399.8 L678.3,2399.5 L678.1,2399.1 L677.9,2398.8 L677.6,2398.5 L677.3,2398.3 L676.9,2398.0 L676.6,2397.9 L676.2,2397.7 L675.8,2397.6 L675.5,2397.5 L675.1,2397.5 L674.7,2397.4 L674.3,2397.5 L588.5,2410.0 Z" fill="#a8a8a8"/>
<path d="M478.6,2300.0 L479.0,2300.0 L479.4,2299.9 L479.8,2299.8 L480.2,2299.6 L480.6,2299.4 L484.9,2296.7 L485.2,2296.5 L485.5,2296.3 L485.7,2296.0 L486.0,2295.7 L486.2,2295.4 L501.2,2270.1 L501.4,2269.7 L501.5,2269.4 L501.6,2269.0 L501.7,2268.6 L501.7,2268.3 L501.7,2267.9 L501.7,2267.5 L501.6,2267.1 L501.5,2266.8 L501.4,2266.4 L501.2,2266.1 L501.0,2265.7 L500.8,2265.4 L500.5,2265.2 L500.2,2264.9 L499.9,2264.7 L460.5,2239.5 L460.1,2239.3 L459.8,2239.1 L459.4,2239.0 L459.0,2238.9 L458.7,2238.9 L458.3,2238.9 L457.9,2238.9 L457.5,2238.9 L457.1,2239.0 L456.8,2239.2 L456.4,2239.3 L456.1,2239.5 L409.6,2270.9 L409.3,2271.2 L409.0,2271.4 L408.8,2271.7 L408.6,2272.0 L408.4,2272.4 L408.2,2272.7 L408.1,2273.1 L408.0,2273.4 L407.9,2273.8 L407.9,2274.2 L407.9,2274.6 L408.0,2275.0 L412.5,2298.3 L412.6,2298.7 L412.7,2299.1 L412.9,2299.4 L413.1,2299.8 L413.4,2300.1 L413.6,2300.4 L413.9,2300.6 L414.2,2300.9 L414.6,2301.1 L415.0,2301.2 L415.3,2301.4 L415.7,2301.5 L416.1,2301.5 L416.5,2301.5 L478.6,2300.0 Z" fill="#a8a8a8"/>
<path d="M467.5,2017.1 L467.6,2017.5 L467.7,2017.9 L467.9,2018.3 L468.1,2018.6 L468.3,2018.9 L468.6,2019.2 L468.9,2019.5 L469.2,2019.7 L469.6,2019.9 L469.9,2020.1 L470.3,2020.2 L470.7,2020.3 L471.1,2020.4 L511.3,2023.5 L511.8,2023.5 L512.2,2023.4 L512.6,2023.4 L548.3,2014.7 L548.7,2014.6 L549.0,2014.4 L549.4,2014.2 L549.7,2014.0 L550.0,2013.8 L550.3,2013.5 L550.5,2013.2 L550.7,2012.9 L550.9,2012.6 L551.1,2012.2 L551.2,2011.9 L551.3,2011.5 L551.3,2011.1 L551.4,2010.7 L551.3,2010.3 L551.3,2009.9 L551.2,2009.6 L522.8,1922.2 L522.6,1921.8 L522.5,1921.5 L522.2,1921.1 L522.0,1920.8 L521.7,1920.5 L521.4,1920.3 L521.1,1920.0 L520.8,1919.8 L520.4,1919.7 L520.0,1919.6 L519.7,1919.5 L519.3,1919.4 L518.9,1919.4 L518.5,1919.4 L518.1,1919.5 L517.7,1919.6 L456.6,1939.5 L456.2,1939.6 L455.8,1939.8 L455.5,1940.0 L455.2,1940.2 L454.9,1940.5 L454.7,1940.8 L454.5,1941.1 L454.3,1941.4 L454.1,1941.8 L454.0,1942.1 L453.9,1942.5 L453.8,1942.9 L453.8,1943.3 L453.8,1943.6 L453.9,1944.0 L467.5,2017.1 Z" fill="#a8a8a8"/>
<path d="M172.3,2312.4 L172.0,2312.2 L171.6,2312.1 L171.2,2311.9 L170.8,2311.9 L170.4,2311.8 L170.0,2311.8 L169.6,2311.9 L169.2,2311.9 L168.8,2312.1 L168.4,2312.2 L168.1,2312.4 L167.7,2312.7 L167.4,2312.9 L55.1,2420.8 L54.8,2421.1 L54.6,2421.4 L54.4,2421.7 L54.2,2422.1 L54.1,2422.4 L54.0,2422.8 L53.9,2423.2 L53.9,2423.6 L53.9,2424.0 L53.9,2424.3 L54.0,2424.7 L54.1,2425.1 L54.2,2425.4 L54.4,2425.8 L54.6,2426.1 L54.9,2426.4 L55.2,2426.7 L55.5,2426.9 L55.8,2427.1 L56.1,2427.3 L56.5,2427.5 L56.8,2427.6 L57.2,2427.7 L57.6,2427.7 L70.5,2428.6 L70.9,2428.6 L71.4,2428.5 L71.8,2428.5 L201.8,2393.1 L202.2,2393.0 L202.5,2392.9 L202.9,2392.7 L203.2,2392.4 L203.5,2392.2 L238.2,2359.4 L238.5,2359.1 L238.7,2358.8 L238.9,2358.5 L239.1,2358.2 L239.2,2357.8 L239.4,2357.4 L239.4,2357.1 L239.5,2356.7 L239.5,2356.3 L239.4,2355.9 L239.3,2355.5 L239.2,2355.2 L239.1,2354.8 L238.9,2354.5 L238.7,2354.1 L238.5,2353.8 L238.2,2353.6 L237.9,2353.3 L237.6,2353.1 L172.3,2312.4 Z" fill="#a8a8a8"/>
<path d="M301.4,2440.9 L301.0,2441.1 L300.7,2441.3 L300.4,2441.5 L300.1,2441.8 L299.9,2442.0 L276.3,2469.4 L276.1,2469.7 L275.9,2470.1 L275.7,2470.4 L275.5,2470.8 L275.4,2471.2 L275.4,2471.7 L275.4,2472.1 L276.9,2546.7 L276.9,2547.1 L277.0,2547.5 L277.1,2547.8 L277.2,2548.2 L277.4,2548.5 L277.6,2548.8 L277.8,2549.1 L278.0,2549.4 L278.3,2549.7 L278.6,2549.9 L279.0,2550.1 L279.3,2550.3 L279.6,2550.4 L280.0,2550.5 L331.2,2562.1 L331.6,2562.2 L332.0,2562.2 L332.4,2562.2 L332.8,2562.1 L333.2,2562.0 L333.6,2561.9 L334.0,2561.7 L334.3,2561.5 L334.7,2561.3 L335.0,2561.0 L391.7,2504.1 L391.9,2503.8 L392.2,2503.5 L392.4,2503.1 L392.5,2502.8 L392.7,2502.4 L392.7,2502.0 L392.8,2501.6 L392.8,2501.2 L392.8,2500.8 L392.7,2500.4 L392.6,2500.1 L392.5,2499.7 L392.3,2499.3 L363.6,2447.3 L363.4,2446.9 L363.1,2446.6 L362.9,2446.3 L362.5,2446.0 L362.2,2445.8 L361.9,2445.6 L361.5,2445.4 L361.1,2445.3 L360.7,2445.2 L311.3,2437.5 L310.9,2437.4 L310.6,2437.4 L310.2,2437.4 L309.9,2437.5 L309.5,2437.6 L309.2,2437.7 L301.4,2440.9 Z" fill="#a8a8a8"/>
<path d="M7.3,2154.1 L7.7,2154.1 L8.1,2154.1 L8.4,2154.0 L8.8,2153.9 L9.1,2153.8 L9.4,2153.6 L9.7,2153.4 L67.5,2111.8 L67.8,2111.6 L68.1,2111.3 L68.4,2111.0 L68.6,2110.6 L68.8,2110.3 L68.9,2109.9 L69.0,2109.5 L69.1,2109.1 L69.2,2108.7 L69.2,2108.3 L69.1,2107.9 L69.0,2107.5 L68.9,2107.2 L55.6,2071.4 L55.5,2071.0 L55.3,2070.7 L55.1,2070.4 L54.8,2070.1 L54.5,2069.8 L54.3,2069.6 L53.9,2069.4 L53.6,2069.2 L53.3,2069.0 L52.9,2068.9 L52.5,2068.8 L52.1,2068.8 L51.8,2068.8 L51.4,2068.8 L51.0,2068.9 L50.6,2069.0 L-96.1,2116.6 L-96.5,2116.8 L-96.8,2117.0 L-97.2,2117.2 L-97.5,2117.4 L-97.8,2117.7 L-98.0,2118.0 L-98.2,2118.3 L-98.4,2118.6 L-98.6,2119.0 L-98.7,2119.4 L-98.8,2119.7 L-98.9,2120.1 L-98.9,2120.5 L-98.8,2120.9 L-98.8,2121.3 L-98.7,2121.7 L-89.5,2150.1 L-89.3,2150.4 L-89.2,2150.8 L-88.9,2151.1 L-88.7,2151.4 L-88.5,2151.7 L-88.2,2151.9 L-87.9,2152.2 L-87.5,2152.3 L-87.2,2152.5 L-86.8,2152.6 L-86.5,2152.7 L-86.1,2152.8 L-85.7,2152.8 L7.3,2154.1 Z" fill="#a8a8a8"/>
<path d="M78.1,2653.6 L77.8,2653.8 L77.4,2654.0 L77.1,2654.3 L76.9,2654.6 L76.6,2654.9 L76.4,2655.3 L76.3,2655.6 L76.1,2656.0 L76.0,2656.4 L76.0,2656.8 L76.0,2657.2 L76.0,2657.6 L76.1,2658.0 L76.2,2658.4 L78.0,2664.2 L78.2,2664.5 L78.4,2664.9 L78.6,2665.2 L78.8,2665.5 L79.1,2665.8 L79.4,2666.1 L79.7,2666.3 L80.0,2666.5 L80.4,2666.6 L80.8,2666.8 L81.1,2666.9 L81.5,2666.9 L81.9,2666.9 L82.3,2666.9 L82.7,2666.8 L83.1,2666.7 L336.1,2584.5 L336.5,2584.4 L336.8,2584.2 L337.1,2584.0 L337.4,2583.8 L337.7,2583.5 L338.0,2583.2 L338.2,2582.9 L338.4,2582.6 L338.6,2582.2 L338.7,2581.8 L338.8,2581.5 L338.8,2581.1 L338.9,2580.7 L338.8,2580.3 L338.8,2579.9 L338.7,2579.6 L338.6,2579.2 L338.4,2578.8 L332.6,2568.0 L332.4,2567.7 L332.2,2567.3 L332.0,2567.1 L331.7,2566.8 L331.4,2566.6 L331.1,2566.4 L330.7,2566.2 L330.4,2566.1 L330.0,2566.0 L276.6,2553.9 L276.2,2553.8 L275.8,2553.8 L275.4,2553.8 L275.0,2553.9 L264.8,2555.7 L264.4,2555.8 L264.0,2555.9 L263.7,2556.1 L78.1,2653.6 Z" fill="#a8a8a8"/>
<path d="M84.1,2268.9 L84.5,2268.8 L84.8,2268.6 L85.1,2268.4 L85.5,2268.1 L85.7,2267.9 L86.0,2267.6 L86.2,2267.3 L86.4,2266.9 L86.6,2266.6 L86.7,2266.2 L86.8,2265.8 L86.9,2265.4 L86.9,2265.1 L86.9,2264.7 L80.7,2205.2 L80.7,2204.8 L80.6,2204.4 L80.4,2204.1 L80.3,2203.7 L80.1,2203.4 L79.8,2203.1 L79.6,2202.8 L79.3,2202.5 L79.0,2202.3 L78.7,2202.1 L78.3,2201.9 L77.9,2201.8 L77.6,2201.7 L77.2,2201.6 L76.8,2201.6 L27.7,2201.1 L27.3,2201.1 L26.9,2201.2 L26.5,2201.3 L26.2,2201.4 L25.8,2201.5 L25.5,2201.7 L-49.0,2248.9 L-49.4,2249.2 L-49.7,2249.4 L-49.9,2249.7 L-50.2,2250.0 L-50.4,2250.4 L-50.6,2250.7 L-50.7,2251.1 L-50.8,2251.5 L-50.9,2251.9 L-50.9,2252.3 L-50.9,2252.7 L-50.8,2253.1 L-50.7,2253.5 L-35.1,2301.6 L-34.9,2301.9 L-34.8,2302.3 L-34.6,2302.6 L-34.3,2302.9 L-34.1,2303.2 L-33.8,2303.5 L-33.4,2303.7 L-33.1,2303.9 L-32.8,2304.1 L-32.4,2304.2 L-32.0,2304.3 L-31.6,2304.3 L-31.2,2304.3 L-30.9,2304.3 L-30.5,2304.3 L-30.1,2304.2 L84.1,2268.9 Z" fill="#a8a8a8"/>
<path d="M326.0,2405.8 L326.2,2405.5 L326.4,2405.1 L326.6,2404.8 L326.7,2404.4 L326.8,2404.0 L326.8,2403.6 L326.8,2403.2 L326.8,2402.8 L326.7,2402.4 L326.6,2402.0 L326.5,2401.7 L326.3,2401.3 L298.6,2354.2 L298.4,2353.9 L298.2,2353.6 L297.9,2353.3 L297.6,2353.1 L297.3,2352.9 L297.0,2352.7 L296.6,2352.5 L296.3,2352.4 L295.9,2352.3 L295.5,2352.3 L295.1,2352.3 L294.8,2352.3 L294.4,2352.3 L254.3,2360.7 L254.0,2360.8 L253.6,2360.9 L253.3,2361.0 L253.0,2361.2 L252.7,2361.4 L252.4,2361.7 L218.2,2394.0 L217.9,2394.3 L217.6,2394.6 L217.4,2394.9 L217.2,2395.3 L217.1,2395.6 L217.0,2396.0 L216.9,2396.4 L216.9,2396.8 L216.9,2397.2 L217.0,2397.6 L217.1,2398.0 L217.2,2398.4 L217.4,2398.7 L217.6,2399.1 L217.8,2399.4 L218.1,2399.7 L218.3,2400.0 L250.1,2426.3 L250.4,2426.5 L250.7,2426.7 L251.0,2426.9 L251.4,2427.0 L251.7,2427.1 L252.1,2427.2 L297.9,2433.7 L298.3,2433.7 L298.8,2433.7 L299.2,2433.7 L299.6,2433.6 L300.0,2433.4 L305.1,2431.3 L305.5,2431.1 L305.9,2430.9 L306.2,2430.7 L306.5,2430.4 L306.7,2430.1 L326.0,2405.8 Z" fill="#a8a8a8"/>
<path d="M375.5,1999.7 L375.2,2000.0 L375.0,2000.3 L374.8,2000.6 L374.6,2001.0 L374.4,2001.4 L374.3,2001.8 L374.3,2002.2 L374.2,2002.6 L374.3,2003.0 L374.3,2003.4 L374.4,2003.8 L374.5,2004.2 L374.7,2004.5 L374.9,2004.9 L397.0,2037.3 L397.2,2037.6 L397.4,2037.9 L397.7,2038.2 L398.0,2038.4 L398.3,2038.6 L398.7,2038.8 L399.0,2038.9 L399.4,2039.0 L399.8,2039.1 L400.2,2039.1 L400.5,2039.1 L400.9,2039.0 L401.3,2039.0 L457.9,2024.1 L458.3,2023.9 L458.7,2023.8 L459.0,2023.6 L459.4,2023.4 L459.7,2023.1 L460.0,2022.8 L460.2,2022.5 L460.4,2022.2 L460.6,2021.8 L460.7,2021.4 L460.8,2021.0 L460.9,2020.7 L460.9,2020.3 L460.9,2019.9 L460.9,2019.5 L446.9,1944.5 L446.8,1944.2 L446.7,1943.8 L446.5,1943.4 L446.3,1943.1 L446.1,1942.7 L445.8,1942.4 L445.5,1942.2 L445.2,1941.9 L444.8,1941.7 L444.5,1941.6 L444.1,1941.4 L443.7,1941.3 L443.3,1941.3 L442.9,1941.3 L442.5,1941.3 L442.1,1941.4 L441.7,1941.5 L437.0,1943.0 L436.6,1943.2 L436.2,1943.4 L435.8,1943.6 L435.5,1943.9 L375.5,1999.7 Z" fill="#a8a8a8"/>
<path d="M575.9,2377.4 L576.3,2377.6 L576.7,2377.6 L577.1,2377.7 L577.5,2377.7 L577.9,2377.6 L578.3,2377.5 L578.6,2377.4 L579.0,2377.3 L579.3,2377.1 L651.3,2333.6 L651.6,2333.4 L651.9,2333.1 L652.2,2332.8 L652.5,2332.6 L652.7,2332.2 L652.9,2331.9 L653.0,2331.5 L653.1,2331.2 L653.2,2330.8 L653.2,2330.4 L653.3,2330.0 L653.2,2329.7 L653.2,2329.3 L653.1,2328.9 L642.4,2296.1 L642.2,2295.7 L642.1,2295.3 L641.9,2295.0 L641.6,2294.7 L641.3,2294.4 L641.1,2294.2 L640.7,2293.9 L640.4,2293.7 L640.0,2293.6 L639.7,2293.5 L639.3,2293.4 L638.9,2293.3 L638.5,2293.3 L638.1,2293.3 L637.7,2293.4 L637.3,2293.5 L637.0,2293.6 L585.2,2316.7 L584.9,2316.8 L584.6,2317.0 L584.3,2317.3 L584.0,2317.6 L549.3,2353.8 L549.0,2354.1 L548.8,2354.4 L548.6,2354.8 L548.4,2355.2 L548.3,2355.6 L548.2,2356.0 L547.1,2363.9 L547.0,2364.3 L547.0,2364.7 L547.1,2365.1 L547.2,2365.5 L547.3,2365.8 L547.4,2366.2 L547.6,2366.6 L547.8,2366.9 L548.1,2367.2 L548.4,2367.5 L548.7,2367.7 L549.0,2367.9 L549.3,2368.1 L549.7,2368.3 L575.9,2377.4 Z" fill="#a8a8a8"/>
<path d="M131.5,2114.2 L131.2,2114.3 L130.8,2114.5 L130.5,2114.7 L130.2,2115.0 L129.9,2115.3 L129.7,2115.6 L129.4,2115.9 L129.2,2116.2 L129.1,2116.6 L129.0,2117.0 L115.1,2171.9 L115.0,2172.3 L115.0,2172.7 L115.0,2173.1 L115.0,2173.5 L115.1,2173.9 L115.2,2174.2 L115.4,2174.6 L115.6,2175.0 L115.8,2175.3 L116.0,2175.6 L116.3,2175.9 L116.6,2176.1 L117.0,2176.3 L117.3,2176.5 L117.7,2176.7 L118.1,2176.8 L118.5,2176.8 L118.9,2176.9 L119.3,2176.8 L119.7,2176.8 L228.7,2156.3 L229.1,2156.2 L229.5,2156.1 L229.8,2155.9 L230.2,2155.7 L230.5,2155.5 L230.8,2155.2 L231.1,2154.9 L231.3,2154.6 L231.5,2154.3 L231.7,2153.9 L231.8,2153.5 L231.9,2153.1 L232.0,2152.8 L232.0,2152.4 L232.0,2152.0 L231.9,2151.6 L231.8,2151.2 L231.7,2150.8 L231.5,2150.5 L231.3,2150.1 L231.1,2149.8 L187.8,2097.2 L187.5,2096.9 L187.2,2096.6 L186.9,2096.4 L186.5,2096.2 L186.2,2096.0 L185.8,2095.9 L185.4,2095.8 L185.0,2095.7 L184.6,2095.7 L184.2,2095.8 L183.8,2095.8 L183.4,2096.0 L131.5,2114.2 Z" fill="#a8a8a8"/>
<path d="M405.8,2365.2 L406.2,2365.0 L406.5,2364.8 L406.8,2364.6 L407.1,2364.3 L407.3,2364.0 L407.5,2363.7 L407.7,2363.3 L407.9,2362.9 L408.0,2362.6 L408.1,2362.2 L408.1,2361.8 L408.1,2361.4 L408.1,2361.0 L408.0,2360.6 L407.9,2360.2 L407.7,2359.8 L407.5,2359.5 L407.3,2359.2 L407.0,2358.9 L406.7,2358.6 L406.4,2358.3 L372.5,2334.1 L372.1,2333.9 L371.8,2333.8 L371.4,2333.6 L371.1,2333.5 L370.7,2333.4 L370.3,2333.4 L369.9,2333.4 L369.6,2333.4 L315.8,2341.2 L315.4,2341.3 L314.9,2341.5 L314.5,2341.6 L314.2,2341.9 L310.7,2344.2 L310.3,2344.4 L310.0,2344.7 L309.8,2345.0 L309.5,2345.3 L309.3,2345.7 L309.2,2346.0 L309.0,2346.4 L308.9,2346.8 L308.9,2347.2 L308.9,2347.6 L308.9,2348.0 L309.0,2348.4 L309.1,2348.8 L309.2,2349.2 L309.4,2349.5 L335.7,2394.2 L335.9,2394.5 L336.1,2394.8 L336.4,2395.1 L336.7,2395.3 L337.0,2395.6 L337.4,2395.8 L337.7,2395.9 L338.1,2396.0 L338.5,2396.1 L338.9,2396.1 L339.3,2396.1 L339.7,2396.1 L340.1,2396.0 L340.4,2395.9 L340.8,2395.8 L405.8,2365.2 Z" fill="#a8a8a8"/>
<path d="M14.3,2155.5 L14.0,2155.8 L13.7,2156.0 L13.5,2156.3 L13.3,2156.6 L13.1,2157.0 L12.9,2157.3 L12.8,2157.7 L12.7,2158.0 L12.7,2158.4 L12.6,2158.8 L12.7,2159.2 L12.7,2159.5 L12.8,2159.9 L12.9,2160.3 L24.6,2189.3 L24.8,2189.7 L25.0,2190.0 L25.2,2190.3 L25.5,2190.6 L25.8,2190.9 L26.1,2191.1 L26.4,2191.3 L26.8,2191.5 L27.2,2191.6 L27.5,2191.7 L27.9,2191.8 L28.3,2191.8 L85.5,2192.4 L85.9,2192.4 L86.3,2192.3 L86.7,2192.2 L87.1,2192.1 L87.5,2191.9 L107.8,2180.1 L108.1,2179.8 L108.4,2179.6 L108.7,2179.3 L109.0,2179.0 L109.2,2178.7 L109.4,2178.3 L109.5,2178.0 L109.7,2177.6 L124.3,2119.9 L124.3,2119.5 L124.4,2119.2 L124.4,2118.8 L124.3,2118.4 L124.3,2118.0 L124.1,2117.6 L124.0,2117.2 L123.8,2116.9 L123.6,2116.6 L123.3,2116.3 L123.1,2116.0 L122.7,2115.7 L122.4,2115.5 L122.1,2115.3 L121.7,2115.2 L121.3,2115.1 L120.9,2115.0 L120.6,2115.0 L75.0,2112.9 L74.6,2112.9 L74.2,2113.0 L73.8,2113.0 L73.5,2113.1 L73.1,2113.3 L72.8,2113.5 L72.5,2113.7 L14.3,2155.5 Z" fill="#a8a8a8"/>
<path d="M539.8,2350.3 L540.2,2350.4 L540.6,2350.4 L541.0,2350.3 L541.3,2350.3 L541.7,2350.2 L542.0,2350.0 L542.4,2349.8 L542.7,2349.6 L543.0,2349.4 L543.3,2349.1 L573.2,2317.8 L573.5,2317.5 L573.7,2317.2 L573.9,2316.9 L574.0,2316.5 L574.2,2316.1 L574.3,2315.7 L574.3,2315.3 L574.3,2314.9 L574.3,2314.5 L574.2,2314.2 L574.1,2313.8 L573.9,2313.4 L573.8,2313.1 L573.5,2312.7 L573.3,2312.4 L573.0,2312.1 L572.7,2311.9 L572.4,2311.7 L572.0,2311.5 L571.6,2311.3 L571.3,2311.2 L570.9,2311.1 L489.4,2299.4 L489.0,2299.4 L488.6,2299.4 L488.2,2299.5 L487.8,2299.5 L487.4,2299.7 L487.0,2299.8 L486.7,2300.0 L482.0,2302.9 L481.7,2303.1 L481.4,2303.4 L481.1,2303.6 L480.9,2303.9 L480.7,2304.2 L461.6,2333.9 L461.4,2334.3 L461.3,2334.7 L461.1,2335.0 L461.0,2335.4 L461.0,2335.8 L461.0,2336.2 L461.0,2336.6 L461.1,2337.0 L461.2,2337.4 L461.3,2337.8 L461.5,2338.1 L461.8,2338.5 L462.0,2338.8 L462.3,2339.1 L462.6,2339.3 L462.9,2339.5 L463.3,2339.7 L463.7,2339.9 L464.0,2340.0 L464.4,2340.1 L539.8,2350.3 Z" fill="#a8a8a8"/>
<path d="M491.0,2040.4 L491.3,2040.1 L491.5,2039.8 L491.7,2039.4 L491.8,2039.1 L492.0,2038.7 L492.0,2038.3 L492.1,2037.9 L492.1,2037.6 L492.1,2037.2 L492.0,2036.8 L491.9,2036.4 L491.8,2036.0 L491.6,2035.7 L491.4,2035.3 L491.1,2035.0 L490.9,2034.8 L490.6,2034.5 L490.3,2034.3 L489.9,2034.1 L489.6,2033.9 L489.2,2033.8 L488.8,2033.7 L488.4,2033.7 L465.3,2031.9 L464.9,2031.9 L464.4,2031.9 L464.0,2032.0 L401.3,2048.5 L401.0,2048.6 L400.7,2048.7 L400.4,2048.9 L400.1,2049.1 L348.7,2084.3 L348.4,2084.6 L348.1,2084.8 L347.9,2085.1 L347.7,2085.4 L347.5,2085.7 L347.3,2086.1 L347.2,2086.4 L347.1,2086.8 L346.1,2091.0 L346.1,2091.4 L346.1,2091.8 L346.1,2092.1 L346.1,2092.5 L346.2,2092.9 L346.3,2093.3 L346.5,2093.6 L346.7,2094.0 L346.9,2094.3 L347.1,2094.6 L347.4,2094.8 L347.7,2095.1 L348.0,2095.3 L348.4,2095.5 L348.7,2095.6 L349.1,2095.7 L349.5,2095.8 L425.2,2106.7 L425.6,2106.7 L425.9,2106.7 L426.3,2106.7 L426.7,2106.6 L427.1,2106.5 L427.4,2106.4 L427.7,2106.2 L428.1,2106.0 L428.4,2105.7 L428.6,2105.5 L491.0,2040.4 Z" fill="#a8a8a8"/>
<path d="M338.8,2077.4 L339.1,2077.5 L339.5,2077.6 L339.9,2077.7 L340.3,2077.7 L340.7,2077.7 L341.1,2077.6 L341.5,2077.5 L341.8,2077.4 L342.2,2077.2 L342.5,2077.0 L390.9,2043.7 L391.2,2043.5 L391.5,2043.2 L391.8,2042.9 L392.0,2042.6 L392.2,2042.3 L392.4,2041.9 L392.5,2041.5 L392.6,2041.2 L392.7,2040.8 L392.7,2040.4 L392.6,2040.0 L392.6,2039.6 L392.5,2039.2 L392.4,2038.9 L392.2,2038.5 L392.0,2038.2 L370.6,2006.7 L370.4,2006.4 L370.1,2006.1 L369.8,2005.8 L369.5,2005.6 L369.2,2005.4 L368.8,2005.2 L368.4,2005.1 L368.1,2005.0 L367.7,2004.9 L367.3,2004.9 L366.9,2004.9 L366.5,2005.0 L296.9,2019.4 L296.6,2019.5 L296.2,2019.6 L295.9,2019.8 L295.5,2020.0 L295.2,2020.2 L294.9,2020.4 L294.7,2020.7 L294.4,2021.0 L294.2,2021.4 L294.1,2021.7 L281.7,2050.5 L281.6,2050.9 L281.5,2051.2 L281.4,2051.6 L281.4,2052.0 L281.4,2052.4 L281.4,2052.8 L281.5,2053.2 L281.7,2053.6 L281.8,2054.0 L282.1,2054.3 L282.3,2054.6 L282.6,2054.9 L282.9,2055.2 L283.2,2055.4 L283.5,2055.6 L283.9,2055.8 L338.8,2077.4 Z" fill="#a8a8a8"/>
<path d="M18.4,2194.4 L18.8,2194.2 L19.1,2193.9 L19.3,2193.7 L19.6,2193.3 L19.8,2193.0 L20.0,2192.7 L20.1,2192.3 L20.2,2191.9 L20.3,2191.5 L20.3,2191.1 L20.3,2190.7 L20.2,2190.3 L20.1,2189.9 L20.0,2189.6 L8.7,2161.6 L8.6,2161.3 L8.4,2161.0 L8.2,2160.6 L7.9,2160.3 L7.6,2160.1 L7.3,2159.8 L7.0,2159.6 L6.6,2159.5 L6.2,2159.3 L5.9,2159.2 L5.5,2159.2 L5.1,2159.1 L-81.4,2157.9 L-81.7,2157.9 L-82.1,2158.0 L-82.5,2158.1 L-82.9,2158.2 L-83.3,2158.4 L-83.6,2158.6 L-83.9,2158.8 L-84.2,2159.1 L-84.5,2159.4 L-84.7,2159.7 L-84.9,2160.0 L-85.1,2160.4 L-85.2,2160.8 L-85.3,2161.2 L-85.4,2161.6 L-85.4,2162.0 L-85.4,2162.4 L-85.3,2162.8 L-85.2,2163.1 L-60.7,2238.6 L-60.5,2239.0 L-60.4,2239.3 L-60.2,2239.7 L-59.9,2240.0 L-59.7,2240.3 L-59.4,2240.5 L-59.1,2240.7 L-58.8,2240.9 L-58.4,2241.1 L-58.1,2241.2 L-57.7,2241.3 L-57.3,2241.4 L-56.9,2241.4 L-56.5,2241.4 L-56.2,2241.3 L-55.8,2241.3 L-55.4,2241.1 L-55.1,2241.0 L-54.7,2240.8 L18.4,2194.4 Z" fill="#a8a8a8"/>
<path d="M468.8,2226.6 L468.6,2226.9 L468.3,2227.2 L468.1,2227.5 L468.0,2227.9 L467.9,2228.2 L467.8,2228.6 L467.7,2229.0 L467.7,2229.4 L467.7,2229.8 L467.8,2230.2 L467.9,2230.6 L468.0,2230.9 L468.2,2231.3 L468.4,2231.6 L468.7,2231.9 L468.9,2232.2 L469.2,2232.5 L469.6,2232.7 L506.4,2256.2 L506.7,2256.4 L507.1,2256.6 L507.4,2256.7 L507.8,2256.8 L508.2,2256.8 L508.6,2256.8 L509.0,2256.8 L509.4,2256.8 L509.7,2256.6 L613.1,2222.9 L613.4,2222.8 L613.8,2222.6 L614.1,2222.4 L614.4,2222.1 L614.7,2221.9 L615.0,2221.6 L615.2,2221.3 L615.4,2220.9 L615.5,2220.6 L615.7,2220.2 L615.7,2219.8 L615.8,2219.4 L615.8,2219.0 L615.8,2218.6 L615.7,2218.2 L615.6,2217.9 L602.6,2177.8 L602.5,2177.5 L602.3,2177.1 L602.1,2176.8 L601.8,2176.4 L601.6,2176.2 L601.3,2175.9 L600.9,2175.7 L600.6,2175.5 L600.2,2175.3 L599.9,2175.2 L599.5,2175.1 L599.1,2175.1 L598.7,2175.1 L598.3,2175.1 L597.9,2175.2 L496.6,2198.7 L496.2,2198.8 L495.9,2198.9 L495.5,2199.1 L495.2,2199.3 L494.9,2199.6 L494.6,2199.8 L468.8,2226.6 Z" fill="#a8a8a8"/>
<path d="M450.6,2335.3 L451.0,2335.1 L451.3,2334.8 L451.6,2334.4 L451.9,2334.1 L463.2,2316.5 L463.4,2316.1 L463.5,2315.8 L463.7,2315.4 L463.8,2315.0 L463.8,2314.6 L463.8,2314.2 L463.8,2313.8 L463.7,2313.4 L463.6,2313.1 L463.5,2312.7 L463.3,2312.3 L463.1,2312.0 L462.9,2311.7 L462.6,2311.4 L462.3,2311.1 L462.0,2310.9 L461.6,2310.7 L461.3,2310.6 L460.9,2310.4 L460.5,2310.4 L460.1,2310.3 L459.7,2310.3 L414.0,2311.4 L413.6,2311.4 L413.2,2311.5 L412.8,2311.6 L412.4,2311.8 L412.1,2312.0 L390.6,2325.0 L390.3,2325.2 L390.0,2325.4 L389.7,2325.7 L389.5,2326.0 L389.3,2326.4 L389.1,2326.7 L388.9,2327.1 L388.8,2327.5 L388.7,2327.8 L388.7,2328.2 L388.7,2328.6 L388.8,2329.0 L388.8,2329.4 L389.0,2329.8 L389.1,2330.2 L389.3,2330.5 L389.5,2330.8 L389.8,2331.1 L390.1,2331.4 L390.4,2331.6 L419.2,2352.2 L419.5,2352.4 L419.8,2352.6 L420.2,2352.7 L420.6,2352.8 L421.0,2352.9 L421.4,2352.9 L421.8,2352.9 L422.2,2352.8 L422.5,2352.8 L422.9,2352.6 L423.3,2352.5 L423.6,2352.3 L450.6,2335.3 Z" fill="#a8a8a8"/>
<path d="M429.1,2118.7 L428.8,2118.4 L428.5,2118.1 L428.2,2117.9 L427.9,2117.6 L427.5,2117.4 L427.2,2117.3 L426.8,2117.1 L426.4,2117.1 L339.0,2104.5 L338.6,2104.5 L338.2,2104.5 L337.8,2104.5 L337.5,2104.6 L337.1,2104.7 L336.8,2104.8 L336.4,2105.0 L336.1,2105.2 L266.5,2153.3 L266.2,2153.6 L265.9,2153.8 L265.6,2154.1 L265.4,2154.5 L265.2,2154.8 L265.0,2155.2 L264.9,2155.6 L264.8,2156.0 L264.8,2156.3 L264.8,2156.7 L264.8,2157.1 L264.9,2157.5 L265.0,2157.9 L265.1,2158.3 L265.3,2158.6 L265.6,2159.0 L265.8,2159.3 L266.1,2159.6 L266.4,2159.8 L266.7,2160.0 L267.1,2160.2 L334.1,2191.6 L334.4,2191.7 L334.8,2191.8 L335.2,2191.9 L335.6,2191.9 L335.9,2191.9 L336.3,2191.9 L336.7,2191.8 L337.1,2191.7 L337.4,2191.6 L440.5,2143.5 L440.9,2143.4 L441.2,2143.2 L441.5,2142.9 L441.8,2142.6 L442.0,2142.3 L442.3,2142.0 L442.4,2141.7 L442.6,2141.3 L442.7,2141.0 L442.8,2140.6 L442.9,2140.2 L442.9,2139.8 L442.8,2139.4 L442.8,2139.1 L442.7,2138.7 L442.5,2138.3 L442.4,2138.0 L442.2,2137.6 L429.1,2118.7 Z" fill="#a8a8a8"/>
<path d="M294.2,2007.6 L294.5,2007.9 L294.9,2008.1 L295.2,2008.3 L295.6,2008.5 L295.9,2008.6 L296.3,2008.7 L296.7,2008.8 L297.1,2008.8 L297.5,2008.8 L297.9,2008.7 L365.5,1994.8 L365.8,1994.7 L366.1,1994.6 L366.5,1994.4 L366.8,1994.3 L367.1,1994.1 L367.4,1993.8 L390.9,1971.9 L391.2,1971.6 L391.4,1971.3 L391.7,1971.0 L391.8,1970.7 L392.0,1970.3 L392.1,1969.9 L392.2,1969.5 L392.2,1969.2 L392.2,1968.8 L392.2,1968.4 L392.1,1968.0 L392.0,1967.6 L391.8,1967.3 L391.7,1966.9 L391.4,1966.6 L391.2,1966.3 L390.9,1966.0 L390.6,1965.8 L390.3,1965.6 L390.0,1965.4 L389.6,1965.2 L389.3,1965.1 L388.9,1965.0 L388.5,1965.0 L388.1,1965.0 L387.7,1965.0 L387.3,1965.1 L387.0,1965.2 L291.3,1996.2 L291.0,1996.4 L290.6,1996.6 L290.3,1996.8 L290.0,1997.0 L289.7,1997.2 L289.5,1997.5 L289.2,1997.8 L289.0,1998.2 L288.9,1998.5 L288.7,1998.9 L288.6,1999.3 L288.6,1999.6 L288.6,2000.0 L288.6,2000.4 L288.6,2000.8 L288.7,2001.2 L288.8,2001.5 L289.0,2001.9 L289.2,2002.2 L289.4,2002.5 L289.7,2002.8 L294.2,2007.6 Z" fill="#a8a8a8"/>
<path d="M75.5,2103.8 L75.6,2104.2 L75.8,2104.5 L76.0,2104.9 L76.3,2105.2 L76.5,2105.4 L76.9,2105.7 L77.2,2105.9 L77.5,2106.1 L77.9,2106.2 L78.3,2106.3 L78.6,2106.4 L79.0,2106.4 L126.4,2108.5 L126.7,2108.5 L127.1,2108.5 L127.5,2108.4 L127.9,2108.3 L183.2,2088.9 L183.5,2088.7 L183.8,2088.6 L184.1,2088.4 L184.4,2088.2 L184.7,2087.9 L186.0,2086.6 L186.2,2086.3 L186.5,2086.0 L186.7,2085.7 L186.8,2085.3 L187.0,2084.9 L187.1,2084.6 L187.1,2084.2 L187.1,2083.8 L187.1,2083.4 L187.0,2083.0 L186.9,2082.6 L186.8,2082.2 L167.1,2037.3 L166.9,2036.9 L166.7,2036.6 L166.5,2036.3 L166.2,2036.0 L165.9,2035.8 L165.6,2035.5 L165.2,2035.3 L164.9,2035.2 L164.5,2035.0 L164.1,2035.0 L163.7,2034.9 L163.4,2034.9 L163.0,2034.9 L162.6,2035.0 L162.2,2035.1 L66.0,2066.4 L65.6,2066.5 L65.2,2066.7 L64.9,2066.9 L64.6,2067.1 L64.3,2067.4 L64.0,2067.7 L63.8,2068.1 L63.6,2068.4 L63.4,2068.8 L63.3,2069.2 L63.2,2069.6 L63.2,2070.0 L63.2,2070.4 L63.3,2070.8 L63.3,2071.2 L63.5,2071.6 L75.5,2103.8 Z" fill="#a8a8a8"/>
<path d="M231.5,2563.1 L231.9,2562.9 L232.2,2562.7 L232.5,2562.4 L232.7,2562.1 L233.0,2561.8 L233.2,2561.5 L233.3,2561.1 L233.5,2560.8 L233.6,2560.4 L233.6,2560.0 L233.7,2559.6 L233.6,2559.2 L233.6,2558.8 L233.5,2558.4 L233.4,2558.1 L233.2,2557.7 L233.0,2557.4 L232.7,2557.0 L232.5,2556.8 L232.2,2556.5 L231.9,2556.3 L231.5,2556.1 L231.2,2555.9 L230.8,2555.8 L230.4,2555.7 L230.0,2555.6 L148.2,2548.0 L147.8,2547.9 L147.4,2548.0 L147.0,2548.0 L146.6,2548.1 L146.2,2548.3 L145.9,2548.5 L145.5,2548.7 L145.2,2548.9 L144.9,2549.2 L144.7,2549.5 L144.4,2549.8 L98.6,2624.6 L98.4,2624.9 L98.3,2625.3 L98.1,2625.7 L98.1,2626.0 L98.0,2626.4 L98.0,2626.8 L98.0,2627.2 L98.1,2627.6 L98.2,2627.9 L98.4,2628.3 L98.5,2628.6 L98.7,2629.0 L99.0,2629.3 L99.2,2629.6 L99.5,2629.8 L99.8,2630.0 L100.2,2630.2 L100.5,2630.4 L100.9,2630.5 L101.3,2630.6 L101.6,2630.7 L102.0,2630.7 L102.4,2630.7 L102.8,2630.6 L103.2,2630.5 L103.5,2630.4 L103.9,2630.2 L231.5,2563.1 Z" fill="#a8a8a8"/>
<path d="M394.5,2495.9 L394.7,2496.2 L394.9,2496.5 L395.2,2496.8 L395.5,2497.1 L395.8,2497.3 L396.1,2497.5 L396.5,2497.7 L396.8,2497.8 L397.2,2497.9 L397.6,2498.0 L398.0,2498.0 L398.4,2497.9 L398.8,2497.9 L399.1,2497.8 L399.5,2497.6 L456.8,2473.3 L457.1,2473.2 L457.5,2473.0 L457.8,2472.7 L458.0,2472.5 L458.3,2472.2 L458.5,2471.9 L458.7,2471.6 L458.9,2471.2 L459.0,2470.9 L468.6,2441.9 L468.7,2441.6 L468.8,2441.2 L468.8,2440.8 L468.8,2440.5 L468.8,2440.1 L468.7,2439.7 L468.6,2439.4 L468.4,2439.0 L468.3,2438.7 L468.1,2438.4 L456.2,2421.6 L455.9,2421.3 L455.7,2421.0 L455.4,2420.7 L455.1,2420.5 L454.7,2420.3 L454.4,2420.2 L454.0,2420.0 L453.7,2420.0 L453.3,2419.9 L452.9,2419.9 L452.5,2419.9 L452.1,2420.0 L451.7,2420.1 L371.6,2444.6 L371.3,2444.7 L370.9,2444.9 L370.6,2445.1 L370.3,2445.3 L370.0,2445.6 L369.7,2445.9 L369.5,2446.2 L369.3,2446.5 L369.1,2446.9 L369.0,2447.2 L368.9,2447.6 L368.8,2448.0 L368.8,2448.4 L368.8,2448.8 L368.9,2449.2 L369.0,2449.6 L369.1,2450.0 L369.3,2450.3 L394.5,2495.9 Z" fill="#a8a8a8"/>
<path d="M400.1,2302.1 L400.4,2301.9 L400.7,2301.6 L401.0,2301.3 L401.2,2301.0 L401.5,2300.6 L401.6,2300.3 L401.8,2299.9 L401.9,2299.5 L402.0,2299.1 L402.0,2298.7 L402.0,2298.3 L401.9,2297.9 L399.2,2284.1 L399.1,2283.7 L399.0,2283.3 L398.8,2283.0 L398.6,2282.6 L398.4,2282.3 L398.1,2282.0 L397.8,2281.8 L397.5,2281.5 L397.2,2281.3 L396.8,2281.2 L396.4,2281.0 L396.1,2280.9 L395.7,2280.9 L395.3,2280.9 L394.9,2280.9 L394.5,2280.9 L341.5,2291.9 L341.1,2291.9 L340.7,2292.1 L340.4,2292.2 L340.1,2292.5 L339.7,2292.7 L339.5,2292.9 L339.2,2293.2 L339.0,2293.6 L338.8,2293.9 L338.6,2294.2 L327.8,2320.4 L327.6,2320.7 L327.6,2321.1 L327.5,2321.5 L327.5,2321.9 L327.5,2322.3 L327.6,2322.7 L327.7,2323.1 L327.8,2323.5 L328.0,2323.8 L328.2,2324.2 L328.4,2324.5 L328.7,2324.8 L329.0,2325.0 L329.4,2325.3 L329.7,2325.5 L330.1,2325.6 L330.5,2325.8 L330.9,2325.8 L331.3,2325.9 L331.7,2325.9 L332.1,2325.8 L369.1,2320.5 L369.5,2320.4 L369.9,2320.3 L370.2,2320.1 L370.6,2319.9 L400.1,2302.1 Z" fill="#a8a8a8"/>
<path d="M500.2,2288.5 L500.0,2288.8 L499.9,2289.2 L499.8,2289.6 L499.7,2290.0 L499.7,2290.4 L499.7,2290.8 L499.7,2291.1 L499.8,2291.5 L499.9,2291.9 L500.1,2292.3 L500.2,2292.6 L500.5,2292.9 L500.7,2293.2 L501.0,2293.5 L501.3,2293.8 L501.6,2294.0 L502.0,2294.2 L502.3,2294.3 L502.7,2294.4 L503.1,2294.5 L578.7,2305.3 L579.1,2305.4 L579.4,2305.4 L579.8,2305.3 L580.2,2305.3 L580.5,2305.2 L580.9,2305.0 L634.5,2281.1 L634.9,2281.0 L635.2,2280.7 L635.5,2280.5 L635.8,2280.2 L636.1,2279.9 L636.3,2279.6 L636.5,2279.3 L636.7,2278.9 L636.8,2278.6 L636.9,2278.2 L636.9,2277.8 L636.9,2277.4 L636.9,2277.0 L636.8,2276.6 L636.7,2276.2 L624.3,2237.9 L624.1,2237.5 L623.9,2237.2 L623.7,2236.8 L623.5,2236.5 L623.2,2236.2 L622.9,2236.0 L622.6,2235.7 L622.3,2235.6 L621.9,2235.4 L621.5,2235.3 L621.2,2235.2 L620.8,2235.1 L620.4,2235.1 L620.0,2235.1 L619.6,2235.2 L619.2,2235.3 L512.2,2270.3 L511.8,2270.4 L511.4,2270.6 L511.1,2270.8 L510.8,2271.1 L510.5,2271.4 L510.2,2271.7 L510.0,2272.0 L500.2,2288.5 Z" fill="#a8a8a8"/>
<path d="M182.2,2295.6 L181.8,2295.8 L181.4,2295.9 L181.1,2296.1 L180.7,2296.4 L180.5,2296.6 L180.2,2296.9 L179.9,2297.3 L179.7,2297.6 L179.6,2298.0 L179.4,2298.3 L179.4,2298.7 L179.3,2299.1 L179.3,2299.5 L179.3,2299.9 L179.4,2300.3 L179.5,2300.7 L179.6,2301.1 L179.8,2301.4 L180.0,2301.8 L180.3,2302.1 L180.5,2302.4 L180.8,2302.6 L181.2,2302.9 L250.3,2345.9 L250.6,2346.1 L250.9,2346.3 L251.3,2346.4 L251.7,2346.5 L252.1,2346.5 L252.4,2346.5 L252.8,2346.5 L253.2,2346.5 L296.6,2337.5 L296.9,2337.4 L297.3,2337.2 L297.6,2337.1 L298.0,2336.9 L305.7,2331.8 L306.0,2331.5 L306.3,2331.3 L306.6,2331.0 L306.8,2330.7 L307.0,2330.3 L307.2,2330.0 L323.5,2290.6 L323.6,2290.2 L323.7,2289.9 L323.8,2289.5 L323.8,2289.1 L323.8,2288.7 L323.7,2288.3 L323.6,2288.0 L323.5,2287.6 L323.3,2287.2 L323.1,2286.9 L322.9,2286.6 L322.7,2286.3 L322.4,2286.0 L296.4,2264.0 L296.1,2263.8 L295.7,2263.5 L295.4,2263.4 L295.0,2263.2 L294.6,2263.1 L294.3,2263.1 L293.9,2263.0 L293.5,2263.1 L293.1,2263.1 L292.7,2263.2 L182.2,2295.6 Z" fill="#a8a8a8"/>
<path d="M257.4,2167.1 L257.0,2166.9 L256.7,2166.8 L256.3,2166.7 L255.9,2166.7 L255.5,2166.7 L255.1,2166.7 L254.7,2166.8 L254.3,2166.9 L254.0,2167.1 L253.6,2167.3 L253.3,2167.5 L253.0,2167.7 L252.7,2168.0 L161.0,2270.4 L160.8,2270.7 L160.6,2271.0 L160.4,2271.3 L160.2,2271.7 L160.1,2272.1 L160.0,2272.5 L160.0,2272.9 L160.0,2273.3 L160.0,2273.6 L160.1,2274.0 L160.2,2274.4 L160.4,2274.8 L160.6,2275.1 L160.8,2275.4 L161.0,2275.7 L161.3,2276.0 L161.6,2276.3 L162.0,2276.5 L171.1,2281.9 L171.4,2282.1 L171.8,2282.2 L172.2,2282.4 L172.6,2282.4 L173.0,2282.5 L173.4,2282.4 L173.9,2282.4 L174.3,2282.3 L292.2,2247.7 L292.6,2247.6 L293.0,2247.4 L293.3,2247.1 L293.7,2246.9 L317.6,2225.9 L317.9,2225.6 L318.2,2225.3 L318.4,2224.9 L318.6,2224.5 L318.8,2224.1 L325.7,2202.9 L325.8,2202.5 L325.9,2202.1 L325.9,2201.8 L325.9,2201.4 L325.9,2201.0 L325.8,2200.6 L325.7,2200.2 L325.5,2199.9 L325.3,2199.6 L325.1,2199.2 L324.9,2198.9 L324.6,2198.7 L324.3,2198.4 L324.0,2198.2 L323.6,2198.0 L257.4,2167.1 Z" fill="#a8a8a8"/>
<path d="M339.8,2197.2 L339.5,2197.4 L339.1,2197.6 L338.8,2197.9 L338.5,2198.2 L338.3,2198.5 L338.1,2198.8 L337.9,2199.2 L337.7,2199.6 L330.8,2220.6 L330.7,2221.0 L330.6,2221.4 L330.6,2221.8 L330.6,2222.2 L330.7,2222.5 L330.7,2222.9 L330.9,2223.3 L331.0,2223.6 L331.2,2224.0 L331.4,2224.3 L331.7,2224.6 L331.9,2224.8 L332.2,2225.1 L332.5,2225.3 L332.9,2225.5 L333.2,2225.6 L333.6,2225.8 L334.0,2225.8 L334.4,2225.9 L334.7,2225.9 L456.6,2221.8 L457.0,2221.8 L457.4,2221.7 L457.7,2221.6 L458.1,2221.5 L458.4,2221.3 L458.8,2221.1 L459.1,2220.8 L459.4,2220.6 L484.4,2194.7 L484.6,2194.4 L484.8,2194.1 L485.0,2193.7 L485.2,2193.4 L485.3,2193.0 L485.4,2192.6 L485.5,2192.3 L485.5,2191.9 L485.5,2191.5 L485.4,2191.1 L485.3,2190.7 L485.2,2190.4 L485.0,2190.0 L484.8,2189.7 L484.6,2189.4 L484.3,2189.1 L446.2,2150.6 L445.9,2150.3 L445.6,2150.1 L445.2,2149.9 L444.8,2149.7 L444.5,2149.6 L444.1,2149.5 L443.7,2149.4 L443.2,2149.4 L442.8,2149.4 L442.4,2149.5 L442.0,2149.6 L441.7,2149.8 L339.8,2197.2 Z" fill="#a8a8a8"/>
<path d="M450.1,2236.0 L450.4,2235.8 L450.7,2235.5 L451.0,2235.2 L451.2,2234.9 L451.4,2234.6 L451.6,2234.2 L451.7,2233.8 L451.8,2233.4 L451.9,2233.0 L451.9,2232.7 L451.9,2232.3 L451.8,2231.9 L451.7,2231.5 L451.5,2231.1 L451.4,2230.8 L451.2,2230.4 L450.9,2230.1 L450.6,2229.8 L450.3,2229.6 L450.0,2229.3 L449.7,2229.1 L449.3,2229.0 L448.9,2228.9 L448.5,2228.8 L448.1,2228.7 L447.8,2228.7 L327.5,2232.7 L327.1,2232.8 L326.7,2232.8 L326.4,2233.0 L326.0,2233.1 L325.7,2233.3 L325.3,2233.5 L325.0,2233.7 L305.5,2250.9 L305.2,2251.1 L305.0,2251.4 L304.7,2251.7 L304.5,2252.1 L304.4,2252.4 L304.3,2252.8 L304.2,2253.1 L304.1,2253.5 L304.1,2253.9 L304.1,2254.3 L304.2,2254.7 L304.3,2255.0 L304.4,2255.4 L304.6,2255.7 L304.8,2256.1 L305.0,2256.4 L305.2,2256.7 L305.5,2256.9 L333.4,2280.6 L333.7,2280.8 L334.1,2281.1 L334.5,2281.2 L334.8,2281.4 L335.2,2281.5 L335.6,2281.5 L336.0,2281.5 L336.4,2281.5 L336.8,2281.5 L402.3,2268.0 L402.6,2267.9 L403.0,2267.8 L403.4,2267.6 L403.7,2267.4 L450.1,2236.0 Z" fill="#a8a8a8"/>
<path d="M426.9,2361.2 L426.6,2361.4 L426.3,2361.6 L426.0,2361.9 L425.8,2362.2 L425.6,2362.5 L425.4,2362.9 L425.3,2363.2 L425.2,2363.6 L425.1,2364.0 L425.0,2364.4 L425.0,2364.8 L425.1,2365.2 L425.2,2365.5 L425.3,2365.9 L425.4,2366.3 L425.6,2366.6 L425.8,2366.9 L426.1,2367.2 L426.3,2367.5 L426.6,2367.8 L465.9,2397.1 L466.2,2397.4 L466.6,2397.6 L467.0,2397.7 L467.4,2397.8 L467.8,2397.9 L468.2,2397.9 L468.6,2397.9 L469.0,2397.9 L469.4,2397.8 L469.8,2397.6 L535.2,2370.9 L535.6,2370.8 L535.9,2370.6 L536.2,2370.3 L536.5,2370.1 L536.7,2369.8 L537.0,2369.5 L537.2,2369.2 L537.3,2368.9 L537.5,2368.5 L537.6,2368.2 L537.7,2367.8 L539.2,2357.5 L539.2,2357.1 L539.2,2356.7 L539.2,2356.4 L539.1,2356.0 L539.0,2355.6 L538.8,2355.2 L538.6,2354.9 L538.4,2354.5 L538.2,2354.2 L537.9,2354.0 L537.6,2353.7 L537.2,2353.5 L536.9,2353.3 L536.5,2353.2 L536.1,2353.1 L535.8,2353.0 L458.4,2342.5 L458.0,2342.4 L457.7,2342.4 L457.3,2342.5 L456.9,2342.6 L456.5,2342.7 L456.1,2342.8 L455.8,2343.0 L426.9,2361.2 Z" fill="#a8a8a8"/>
<path d="M71.9,2436.3 L71.5,2436.0 L71.1,2435.9 L70.7,2435.7 L70.3,2435.6 L69.9,2435.6 L37.8,2433.4 L37.3,2433.4 L36.9,2433.4 L36.5,2433.5 L8.9,2440.8 L8.6,2440.9 L8.2,2441.1 L7.9,2441.2 L7.6,2441.5 L7.3,2441.7 L7.0,2442.0 L6.7,2442.3 L6.5,2442.6 L6.4,2442.9 L6.2,2443.3 L6.1,2443.6 L6.0,2444.0 L6.0,2444.4 L6.0,2444.8 L6.0,2445.2 L6.0,2445.5 L6.1,2445.9 L38.0,2544.0 L38.2,2544.3 L38.3,2544.7 L38.5,2545.0 L38.8,2545.4 L39.1,2545.6 L39.4,2545.9 L39.7,2546.1 L40.0,2546.3 L40.4,2546.5 L40.8,2546.6 L41.2,2546.7 L41.6,2546.7 L41.9,2546.7 L42.3,2546.7 L42.7,2546.6 L128.6,2526.5 L129.0,2526.4 L129.3,2526.2 L129.7,2526.0 L130.0,2525.8 L130.3,2525.5 L130.6,2525.3 L130.9,2524.9 L138.1,2515.2 L138.3,2514.9 L138.5,2514.6 L138.6,2514.2 L138.7,2513.8 L138.8,2513.5 L138.8,2513.1 L138.8,2512.7 L138.8,2512.3 L134.3,2479.3 L134.3,2479.0 L134.2,2478.6 L134.0,2478.3 L133.8,2477.9 L133.6,2477.6 L133.4,2477.3 L133.2,2477.0 L132.9,2476.8 L132.6,2476.6 L71.9,2436.3 Z" fill="#a8a8a8"/>
<path d="M450.3,2140.3 L449.9,2140.5 L449.6,2140.7 L449.2,2140.9 L449.0,2141.1 L448.7,2141.4 L448.4,2141.7 L448.2,2142.1 L448.1,2142.4 L447.9,2142.8 L447.8,2143.2 L447.8,2143.6 L447.7,2144.0 L447.7,2144.4 L447.8,2144.8 L447.9,2145.2 L448.0,2145.5 L448.2,2145.9 L448.4,2146.2 L448.6,2146.5 L448.9,2146.8 L490.3,2188.6 L490.6,2188.9 L490.9,2189.2 L491.3,2189.4 L491.6,2189.5 L492.0,2189.7 L492.4,2189.8 L492.8,2189.8 L493.2,2189.8 L493.6,2189.8 L494.0,2189.7 L600.6,2164.9 L601.0,2164.8 L601.3,2164.7 L601.7,2164.5 L602.0,2164.3 L602.3,2164.1 L602.6,2163.8 L602.9,2163.5 L603.1,2163.2 L603.3,2162.8 L603.4,2162.5 L603.6,2162.1 L603.6,2161.7 L603.7,2161.4 L603.7,2161.0 L603.7,2160.6 L603.6,2160.2 L603.5,2159.8 L582.0,2093.5 L581.8,2093.2 L581.7,2092.8 L581.5,2092.5 L581.2,2092.2 L581.0,2091.9 L580.7,2091.7 L580.4,2091.4 L580.0,2091.2 L579.7,2091.1 L579.3,2090.9 L579.0,2090.8 L578.6,2090.8 L578.2,2090.8 L577.8,2090.8 L577.4,2090.8 L577.1,2090.9 L576.7,2091.0 L450.3,2140.3 Z" fill="#a8a8a8"/>
<path d="M576.1,2420.5 L576.1,2420.1 L576.1,2419.7 L576.1,2419.3 L576.1,2418.9 L576.0,2418.6 L575.9,2418.2 L575.7,2417.8 L575.5,2417.5 L575.3,2417.2 L575.0,2416.9 L574.8,2416.6 L574.4,2416.4 L574.1,2416.2 L573.8,2416.0 L573.4,2415.9 L573.0,2415.8 L572.6,2415.7 L572.3,2415.7 L571.9,2415.7 L571.5,2415.7 L571.1,2415.8 L476.4,2441.6 L476.0,2441.7 L475.7,2441.9 L475.3,2442.1 L475.0,2442.3 L474.7,2442.6 L474.5,2442.9 L474.2,2443.2 L474.0,2443.5 L473.8,2443.9 L473.7,2444.2 L466.2,2466.9 L466.1,2467.2 L466.0,2467.6 L466.0,2468.0 L466.0,2468.4 L466.1,2468.8 L466.1,2469.2 L466.3,2469.6 L466.4,2470.0 L466.6,2470.3 L466.9,2470.6 L467.2,2470.9 L467.5,2471.2 L467.8,2471.4 L468.1,2471.7 L468.5,2471.8 L468.9,2472.0 L469.2,2472.0 L469.6,2472.1 L519.8,2476.5 L520.2,2476.5 L520.6,2476.5 L520.9,2476.4 L521.3,2476.3 L521.6,2476.2 L522.0,2476.0 L522.3,2475.9 L522.6,2475.6 L571.4,2437.7 L571.7,2437.5 L572.0,2437.2 L572.3,2436.9 L572.5,2436.5 L572.7,2436.2 L572.8,2435.8 L572.9,2435.4 L576.1,2420.5 Z" fill="#a8a8a8"/>
<path d="M197.9,2089.8 L197.5,2089.9 L197.2,2090.1 L196.8,2090.3 L196.5,2090.6 L196.2,2090.9 L196.0,2091.2 L195.8,2091.5 L195.6,2091.9 L195.5,2092.3 L195.3,2092.7 L195.3,2093.0 L195.3,2093.4 L195.3,2093.9 L195.3,2094.2 L195.4,2094.6 L195.5,2095.0 L195.7,2095.4 L195.9,2095.7 L196.2,2096.1 L240.9,2150.4 L241.1,2150.7 L241.4,2151.0 L241.8,2151.2 L242.1,2151.4 L242.5,2151.6 L242.9,2151.7 L243.3,2151.8 L250.4,2153.0 L250.8,2153.1 L251.2,2153.1 L251.6,2153.1 L251.9,2153.0 L252.3,2152.9 L252.7,2152.8 L253.0,2152.6 L253.4,2152.4 L330.7,2098.9 L331.0,2098.7 L331.3,2098.4 L331.5,2098.1 L331.7,2097.8 L331.9,2097.5 L332.1,2097.2 L332.2,2096.8 L332.3,2096.5 L334.3,2087.5 L334.4,2087.1 L334.4,2086.7 L334.4,2086.3 L334.3,2085.9 L334.2,2085.5 L334.1,2085.1 L333.9,2084.8 L333.7,2084.4 L333.5,2084.1 L333.2,2083.8 L332.9,2083.5 L332.6,2083.3 L332.2,2083.1 L331.9,2082.9 L278.1,2061.8 L277.7,2061.6 L277.3,2061.6 L276.9,2061.5 L276.5,2061.5 L276.1,2061.5 L275.7,2061.6 L275.3,2061.7 L197.9,2089.8 Z" fill="#a8a8a8"/>
<path d="M469.0,2401.4 L468.6,2401.6 L468.3,2401.8 L468.0,2402.1 L467.6,2402.3 L467.4,2402.7 L458.6,2414.1 L458.3,2414.4 L458.1,2414.7 L458.0,2415.1 L457.9,2415.5 L457.8,2415.8 L457.7,2416.2 L457.7,2416.6 L457.8,2417.0 L457.8,2417.4 L457.9,2417.8 L458.1,2418.1 L458.3,2418.5 L458.5,2418.8 L470.7,2436.2 L471.0,2436.5 L471.3,2436.8 L471.6,2437.0 L471.9,2437.3 L472.3,2437.5 L472.6,2437.6 L473.0,2437.7 L473.4,2437.8 L473.8,2437.9 L474.2,2437.9 L474.6,2437.8 L475.0,2437.7 L579.7,2409.2 L580.1,2409.1 L580.4,2408.9 L580.8,2408.7 L581.1,2408.4 L581.5,2408.1 L581.7,2407.8 L581.8,2407.7 L582.1,2407.4 L582.3,2407.0 L582.4,2406.7 L582.5,2406.4 L582.6,2406.0 L582.7,2405.6 L582.7,2405.3 L582.7,2404.9 L582.6,2404.5 L582.6,2404.1 L578.2,2388.1 L578.1,2387.8 L577.9,2387.4 L577.7,2387.1 L577.5,2386.7 L577.3,2386.4 L577.0,2386.2 L576.7,2385.9 L576.3,2385.7 L576.0,2385.5 L575.6,2385.4 L540.7,2373.2 L540.3,2373.1 L539.9,2373.0 L539.5,2373.0 L539.1,2373.0 L538.7,2373.0 L538.3,2373.1 L537.9,2373.3 L469.0,2401.4 Z" fill="#a8a8a8"/>
<path d="M232.9,2170.6 L233.2,2170.3 L233.4,2170.0 L233.6,2169.7 L233.7,2169.3 L233.8,2168.9 L233.9,2168.5 L233.9,2168.1 L233.9,2167.7 L233.9,2167.3 L233.8,2166.9 L233.7,2166.6 L233.5,2166.2 L233.3,2165.8 L233.1,2165.5 L232.8,2165.2 L232.5,2164.9 L232.2,2164.7 L231.9,2164.5 L231.5,2164.3 L231.2,2164.2 L230.8,2164.1 L230.4,2164.0 L230.0,2164.0 L229.6,2164.0 L229.2,2164.0 L113.6,2185.8 L113.1,2185.9 L112.7,2186.1 L112.3,2186.3 L95.4,2196.1 L95.1,2196.3 L94.8,2196.5 L94.5,2196.8 L94.2,2197.1 L94.0,2197.4 L93.8,2197.7 L93.7,2198.1 L93.6,2198.5 L93.5,2198.8 L93.4,2199.2 L93.4,2199.6 L93.4,2200.0 L100.1,2264.3 L100.1,2264.7 L100.2,2265.1 L100.4,2265.5 L100.6,2265.8 L100.8,2266.2 L101.0,2266.5 L101.3,2266.8 L101.6,2267.1 L101.9,2267.3 L102.3,2267.5 L102.7,2267.6 L103.1,2267.8 L103.5,2267.8 L103.9,2267.9 L142.1,2269.8 L142.5,2269.8 L142.9,2269.7 L143.3,2269.6 L143.7,2269.5 L144.0,2269.4 L144.4,2269.2 L144.7,2269.0 L145.0,2268.7 L145.3,2268.4 L232.9,2170.6 Z" fill="#a8a8a8"/>
<path d="M567.9,2081.1 L551.3,2030.2 L518.1,2038.3 L444.0,2115.6 L451.5,2126.4 L567.9,2081.1 Z" fill="rgb(17,17,17)"/>
<path d="M557.7,2076.3 L545.9,2039.9 L522.3,2045.7 L454.5,2116.5 L454.5,2116.5 L557.7,2076.3 Z" fill="#0a0a0a"/>
<path d="M343.8,2414.8 L334.4,2426.6 L362.4,2431.1 L447.6,2405.0 L448.8,2403.5 L417.6,2380.1 L343.8,2414.8 Z" fill="rgb(13,13,13)"/>
<path d="M461.9,2483.9 L400.5,2510.0 L345.2,2565.5 L349.5,2573.5 L526.0,2516.1 L515.6,2488.6 L461.9,2483.9 Z" fill="rgb(8,8,8)"/>
<path d="M374.0,2553.2 L510.7,2508.8 L507.3,2499.6 L463.8,2495.8 L407.1,2519.9 L374.0,2553.2 Z" fill="#0a0a0a"/>
<path d="M536.0,2483.7 L545.1,2507.7 L608.2,2487.2 L619.0,2459.5 L578.2,2450.9 L536.0,2483.7 Z" fill="rgb(25,25,25)"/>
<path d="M548.8,2487.3 L551.5,2494.4 L600.0,2478.6 L604.4,2467.4 L580.9,2462.4 L548.8,2487.3 Z" fill="#0a0a0a"/>
<path d="M96.8,2285.8 L-22.9,2322.7 L10.5,2425.4 L30.6,2420.1 L157.5,2298.2 L157.7,2296.9 L142.8,2288.0 L96.8,2285.8 Z" fill="rgb(8,8,8)"/>
<path d="M200.4,2069.7 L267.3,2045.5 L278.1,2020.3 L267.5,2009.3 L185.6,2035.9 L200.4,2069.7 Z" fill="rgb(14,14,14)"/>
<path d="M204.1,2061.3 L262.2,2040.2 L270.2,2021.8 L265.6,2016.9 L194.7,2040.0 L204.1,2061.3 Z" fill="#0a0a0a"/>
<path d="M76.3,2623.3 L125.2,2543.6 L55.7,2560.0 L76.3,2623.3 Z" fill="rgb(22,22,22)"/>
<path d="M78.6,2604.2 L108.2,2555.9 L66.1,2565.8 L78.6,2604.2 Z" fill="#0a0a0a"/>
<path d="M592.6,2391.0 L593.1,2392.7 L664.5,2382.3 L655.1,2353.2 L592.6,2391.0 Z" fill="rgb(22,22,22)"/>
<path d="M202.0,2412.6 L104.6,2439.0 L137.6,2461.0 L221.4,2428.7 L202.0,2412.6 Z" fill="rgb(17,17,17)"/>
<path d="M249.4,2442.9 L146.4,2482.6 L149.0,2501.8 L268.7,2461.9 L281.2,2447.4 L249.4,2442.9 Z" fill="rgb(18,18,18)"/>
<path d="M250.5,2452.2 L156.4,2488.5 L156.6,2489.7 L263.5,2454.1 L263.5,2454.0 L250.5,2452.2 Z" fill="#0a0a0a"/>
<path d="M147.2,2522.9 L143.8,2527.5 L147.7,2532.2 L262.8,2543.0 L265.8,2542.4 L264.6,2483.8 L147.2,2522.9 Z" fill="rgb(16,16,16)"/>
<path d="M181.2,2523.7 L254.0,2530.5 L253.4,2499.7 L181.2,2523.7 Z" fill="#0a0a0a"/>
<path d="M643.1,2459.1 L635.3,2479.0 L691.4,2460.8 L684.6,2440.0 L643.1,2459.1 Z" fill="rgb(18,18,18)"/>
<path d="M592.8,2418.0 L590.5,2428.8 L633.0,2437.7 L675.5,2418.1 L671.7,2406.4 L592.8,2418.0 Z" fill="rgb(17,17,17)"/>
<path d="M629.4,2424.7 L631.6,2425.2 L634.2,2424.0 L629.4,2424.7 Z" fill="#0a0a0a"/>
<path d="M477.7,2293.5 L480.9,2291.5 L494.3,2268.9 L458.4,2245.9 L414.7,2275.4 L418.5,2294.9 L477.7,2293.5 Z" fill="rgb(27,27,27)"/>
<path d="M474.4,2284.3 L481.8,2271.8 L458.5,2256.9 L424.9,2279.6 L426.1,2285.5 L474.4,2284.3 Z" fill="#0a0a0a"/>
<path d="M472.8,2014.9 L511.5,2017.8 L545.3,2009.6 L517.9,1925.5 L459.6,1944.4 L472.8,2014.9 Z" fill="rgb(27,27,27)"/>
<path d="M479.6,2007.3 L510.9,2009.7 L534.9,2003.9 L512.7,1935.6 L468.9,1949.9 L479.6,2007.3 Z" fill="#0a0a0a"/>
<path d="M170.7,2320.7 L66.9,2420.4 L70.4,2420.7 L198.8,2385.8 L229.1,2357.1 L170.7,2320.7 Z" fill="rgb(12,12,12)"/>
<path d="M305.4,2448.0 L283.5,2473.5 L284.9,2543.3 L330.8,2553.7 L383.7,2500.6 L357.5,2452.9 L311.2,2445.6 L305.4,2448.0 Z" fill="rgb(23,23,23)"/>
<path d="M310.2,2454.7 L291.6,2476.4 L292.8,2536.9 L328.3,2544.9 L373.8,2499.2 L352.3,2460.2 L312.2,2453.9 L310.2,2454.7 Z" fill="#0a0a0a"/>
<path d="M4.7,2141.7 L55.1,2105.5 L46.8,2083.2 L-84.3,2125.8 L-79.5,2140.5 L4.7,2141.7 Z" fill="rgb(26,26,26)"/>
<path d="M121.7,2642.8 L325.1,2576.8 L324.6,2575.8 L275.6,2564.7 L267.7,2566.1 L121.7,2642.8 Z" fill="rgb(11,11,11)"/>
<path d="M197.9,2610.7 L300.2,2577.5 L275.4,2571.9 L270.0,2572.8 L197.9,2610.7 Z" fill="#0a0a0a"/>
<path d="M85.1,2266.5 L78.6,2203.6 L27.0,2203.0 L-49.3,2251.4 L-32.6,2302.9 L85.1,2266.5 Z" fill="rgb(21,21,21)"/>
<path d="M76.7,2261.0 L71.6,2211.3 L29.3,2210.8 L-40.1,2254.7 L-27.6,2293.2 L76.7,2261.0 Z" fill="#0a0a0a"/>
<path d="M317.2,2402.9 L292.9,2361.5 L257.4,2368.8 L227.9,2396.7 L254.6,2418.8 L297.9,2425.0 L300.7,2423.8 L317.2,2402.9 Z" fill="rgb(13,13,13)"/>
<path d="M294.5,2412.5 L302.9,2401.9 L287.0,2374.8 L263.1,2379.8 L245.8,2396.1 L259.6,2407.6 L294.5,2412.5 Z" fill="#0a0a0a"/>
<path d="M385.8,2003.5 L402.8,2028.4 L450.2,2015.9 L438.7,1954.3 L385.8,2003.5 Z" fill="rgb(18,18,18)"/>
<path d="M397.5,2004.8 L406.6,2018.2 L440.0,2009.5 L433.0,1971.8 L397.5,2004.8 Z" fill="#0a0a0a"/>
<path d="M577.2,2372.7 L648.2,2329.8 L638.1,2298.5 L587.4,2321.0 L553.0,2357.0 L552.0,2363.9 L577.2,2372.7 Z" fill="rgb(12,12,12)"/>
<path d="M138.1,2122.7 L127.4,2164.9 L216.5,2148.2 L182.7,2107.0 L138.1,2122.7 Z" fill="rgb(13,13,13)"/>
<path d="M146.2,2130.2 L140.6,2152.5 L198.5,2141.6 L179.5,2118.5 L146.2,2130.2 Z" fill="#0a0a0a"/>
<path d="M400.7,2361.3 L369.7,2339.2 L317.0,2346.8 L315.2,2348.0 L339.8,2389.9 L400.7,2361.3 Z" fill="rgb(10,10,10)"/>
<path d="M329.1,2354.1 L343.4,2378.4 L383.1,2359.7 L367.4,2348.6 L329.1,2354.1 Z" fill="#0a0a0a"/>
<path d="M24.5,2161.0 L32.7,2181.4 L83.8,2182.0 L100.2,2172.4 L112.2,2125.0 L76.7,2123.4 L24.5,2161.0 Z" fill="rgb(24,24,24)"/>
<path d="M537.2,2337.2 L552.5,2321.2 L490.7,2312.4 L490.3,2312.6 L479.6,2329.4 L537.2,2337.2 Z" fill="rgb(26,26,26)"/>
<path d="M482.7,2039.7 L465.2,2038.4 L403.4,2054.6 L353.2,2089.1 L353.0,2089.8 L424.8,2100.1 L482.7,2039.7 Z" fill="rgb(19,19,19)"/>
<path d="M339.3,2065.2 L378.2,2038.4 L363.9,2017.3 L303.1,2029.9 L295.4,2047.9 L339.3,2065.2 Z" fill="rgb(16,16,16)"/>
<path d="M11.0,2189.4 L2.1,2167.4 L-75.5,2166.3 L-54.5,2230.9 L11.0,2189.4 Z" fill="rgb(18,18,18)"/>
<path d="M-1.2,2185.4 L-4.6,2177.2 L-61.8,2176.3 L-49.0,2215.7 L-1.2,2185.4 Z" fill="#0a0a0a"/>
<path d="M508.1,2255.9 L615.3,2220.9 L600.7,2175.7 L496.1,2200.1 L468.2,2229.0 L468.0,2230.3 L508.1,2255.9 Z" fill="rgb(25,25,25)"/>
<path d="M484.0,2227.9 L509.6,2244.2 L601.9,2214.1 L593.6,2188.3 L501.5,2209.7 L484.0,2227.9 Z" fill="#0a0a0a"/>
<path d="M448.8,2332.3 L460.7,2313.8 L414.0,2315.0 L391.9,2328.4 L421.5,2349.5 L448.8,2332.3 Z" fill="rgb(17,17,17)"/>
<path d="M421.9,2127.3 L340.0,2115.6 L282.3,2155.5 L335.8,2180.5 L428.7,2137.2 L421.9,2127.3 Z" fill="rgb(19,19,19)"/>
<path d="M416.8,2134.3 L341.9,2123.5 L297.6,2154.2 L335.8,2172.0 L416.8,2134.3 Z" fill="#0a0a0a"/>
<path d="M298.1,2001.7 L363.3,1988.2 L376.6,1975.8 L297.8,2001.4 L298.1,2001.7 Z" fill="rgb(21,21,21)"/>
<path d="M82.9,2097.3 L125.8,2099.2 L176.3,2081.4 L160.5,2045.4 L74.1,2073.5 L82.9,2097.3 Z" fill="rgb(22,22,22)"/>
<path d="M221.5,2561.2 L149.1,2554.4 L108.5,2620.6 L221.5,2561.2 Z" fill="rgb(24,24,24)"/>
<path d="M180.6,2569.3 L155.4,2566.9 L141.2,2590.0 L180.6,2569.3 Z" fill="#0a0a0a"/>
<path d="M400.0,2487.9 L451.4,2466.1 L459.5,2441.5 L451.0,2429.4 L379.8,2451.2 L400.0,2487.9 Z" fill="rgb(23,23,23)"/>
<path d="M403.4,2478.1 L445.2,2460.4 L451.0,2442.7 L448.0,2438.4 L391.1,2455.8 L403.4,2478.1 Z" fill="#0a0a0a"/>
<path d="M396.4,2297.9 L394.2,2286.6 L343.3,2297.0 L333.8,2320.1 L368.0,2315.1 L396.4,2297.9 Z" fill="rgb(21,21,21)"/>
<path d="M508.0,2288.5 L578.9,2298.6 L629.7,2276.0 L618.8,2242.5 L515.2,2276.3 L508.0,2288.5 Z" fill="rgb(21,21,21)"/>
<path d="M521.4,2282.5 L577.8,2290.6 L620.1,2271.7 L613.7,2252.3 L521.4,2282.5 Z" fill="#0a0a0a"/>
<path d="M189.2,2300.3 L252.8,2340.0 L294.8,2331.2 L301.5,2326.8 L316.9,2289.8 L293.2,2269.7 L189.2,2300.3 Z" fill="rgb(16,16,16)"/>
<path d="M214.2,2303.7 L254.8,2329.0 L290.8,2321.5 L293.2,2319.9 L304.4,2292.8 L290.8,2281.2 L214.2,2303.7 Z" fill="#0a0a0a"/>
<path d="M255.4,2169.1 L162.0,2273.3 L172.9,2279.9 L291.7,2245.0 L316.1,2223.6 L323.5,2201.0 L255.4,2169.1 Z" fill="rgb(22,22,22)"/>
<path d="M180.2,2267.6 L286.9,2236.3 L307.7,2218.0 L311.6,2206.1 L257.8,2181.0 L180.2,2267.6 Z" fill="#0a0a0a"/>
<path d="M346.8,2205.5 L343.6,2215.1 L453.6,2211.4 L472.5,2191.9 L442.0,2161.2 L346.8,2205.5 Z" fill="rgb(13,13,13)"/>
<path d="M372.4,2204.4 L449.4,2201.8 L458.8,2192.0 L439.9,2173.0 L372.4,2204.4 Z" fill="#0a0a0a"/>
<path d="M433.1,2237.5 L329.3,2241.0 L314.7,2253.8 L337.2,2272.9 L399.8,2260.0 L433.1,2237.5 Z" fill="rgb(15,15,15)"/>
<path d="M435.2,2364.8 L468.8,2389.9 L530.5,2364.7 L531.2,2359.9 L458.7,2350.1 L435.2,2364.8 Z" fill="rgb(13,13,13)"/>
<path d="M450.9,2365.4 L470.1,2379.8 L505.4,2365.4 L460.7,2359.3 L450.9,2365.4 Z" fill="#0a0a0a"/>
<path d="M67.8,2445.0 L38.0,2442.9 L16.9,2448.5 L45.5,2536.3 L124.5,2517.7 L129.1,2511.4 L125.3,2483.1 L67.8,2445.0 Z" fill="rgb(19,19,19)"/>
<path d="M464.4,2146.7 L495.4,2178.0 L590.6,2155.9 L573.7,2104.1 L464.4,2146.7 Z" fill="rgb(15,15,15)"/>
<path d="M482.7,2150.6 L498.7,2166.7 L577.3,2148.4 L567.3,2117.7 L482.7,2150.6 Z" fill="#0a0a0a"/>
<path d="M566.9,2425.2 L480.6,2448.8 L475.4,2464.6 L518.9,2468.4 L565.4,2432.3 L566.9,2425.2 Z" fill="rgb(16,16,16)"/>
<path d="M205.8,2095.3 L246.1,2144.3 L250.2,2145.0 L324.9,2093.3 L325.9,2089.1 L276.6,2069.7 L205.8,2095.3 Z" fill="rgb(25,25,25)"/>
<path d="M219.6,2099.1 L249.5,2135.4 L311.7,2092.4 L276.5,2078.5 L219.6,2099.1 Z" fill="#0a0a0a"/>
<path d="M475.3,2411.4 L471.2,2416.7 L477.2,2425.1 L569.3,2399.9 L568.0,2395.1 L539.6,2385.1 L475.3,2411.4 Z" fill="rgb(11,11,11)"/>
<path d="M492.3,2412.9 L550.2,2397.1 L539.8,2393.5 L492.3,2412.9 Z" fill="#0a0a0a"/>
<path d="M216.5,2175.6 L116.1,2194.4 L102.7,2202.2 L108.5,2259.1 L140.2,2260.7 L216.5,2175.6 Z" fill="rgb(17,17,17)"/>
</g></g>
<g opacity="0.35" clip-path="url(#semgl)"><rect x="81" y="2120" width="440" height="344" filter="url(#sf11)"/></g>
<rect x="348.5" y="2443" width="146.5" height="7" fill="#ffff00"/>
<rect x="370.6" y="2398" width="113.5" height="40.5" fill="#ffff00"/>
<text x="427.35" y="2431.21" font-size="36" text-anchor="middle" textLength="106" lengthAdjust="spacingAndGlyphs">300 µm</text>
<rect x="577" y="2112" width="459" height="347" fill="#101010"/>
<g clip-path="url(#semgr)">
<path d="M700,2459 C740,2400 800,2350 880,2320 C950,2300 1000,2290 1036,2285 L1036,2459 Z" fill="#181818"/>
<path d="M641,2113 L1036,2113 L1036,2266 L1005,2277 L898,2274.6 L860,2261 L843.6,2269 L841,2305 L808,2313 L791.6,2345.8 L761.5,2340 L734,2329 L679.4,2329 L638.4,2343 L616.5,2335 L603,2302 L577,2296 L577,2192 L603,2198 L605.6,2170.7 L638.4,2132.4 Z" fill="url(#sheetg)" stroke="#c8c8c8" stroke-width="2.5"/>
<path d="M828,2215 C838,2250 838,2280 836,2310" stroke="#4a4a4a" stroke-width="5" fill="none" opacity="0.7"/>
<path d="M850,2225 C900,2210 960,2200 1036,2195" stroke="#bdbdbd" stroke-width="2" fill="none" opacity="0.35"/>
<path d="M940,2135 C960,2160 980,2180 1036,2180" stroke="#555" stroke-width="4" fill="none" opacity="0.6"/>
</g>
<g clip-path="url(#sheet)" opacity="0.4"><g transform="rotate(-12 800 2230)"><rect x="560" y="2060" width="500" height="320" filter="url(#wrink)"/></g></g>
<rect x="878.6" y="2439" width="147" height="6" fill="#ffff00"/>
<rect x="898" y="2394" width="114" height="39" fill="#ffff00"/>
<text x="955.0" y="2425.98" font-size="36" text-anchor="middle" textLength="106" lengthAdjust="spacingAndGlyphs">100 µm</text>
<rect x="1169.5" y="1743" width="30.5" height="15.5" fill="#ffc000"/>
<text x="1211" y="1763" font-size="36" text-anchor="start" fill="#000" textLength="255" lengthAdjust="spacingAndGlyphs" >SS/OSA@Mxene</text>
<text x="1474.7" y="1761" font-size="27" text-anchor="start" fill="#000" textLength="43" lengthAdjust="spacingAndGlyphs" >[31]</text>
<rect x="1169.5" y="1788" width="30.5" height="15.5" fill="#7030a0"/>
<text x="1213" y="1808" font-size="36" text-anchor="start" fill="#000" textLength="148.4" lengthAdjust="spacingAndGlyphs" >MMA-AF</text>
<text x="1368" y="1806" font-size="27" text-anchor="start" fill="#000" textLength="43" lengthAdjust="spacingAndGlyphs" >[25]</text>
<rect x="1169.5" y="1832" width="30.5" height="15.5" fill="#9dc3e6"/>
<text x="1215" y="1851" font-size="36" text-anchor="start" fill="#000" textLength="134" lengthAdjust="spacingAndGlyphs" >TIC-AF</text>
<text x="1359.5" y="1849" font-size="27" text-anchor="start" fill="#000" textLength="44.5" lengthAdjust="spacingAndGlyphs" >[28]</text>
<rect x="1169.5" y="1876" width="30.5" height="15.5" fill="#92d050"/>
<text x="1217" y="1896" font-size="36" text-anchor="start" fill="#000" textLength="142.5" lengthAdjust="spacingAndGlyphs" >PHA-AF</text>
<text x="1369.6" y="1894" font-size="27" text-anchor="start" fill="#000" textLength="43.2" lengthAdjust="spacingAndGlyphs" >[32]</text>
<rect x="1169.5" y="1914.5" width="30.5" height="15.5" fill="#f8cbad"/>
<text x="1217" y="1936" font-size="36" text-anchor="start" fill="#ff0000" textLength="152.6" lengthAdjust="spacingAndGlyphs" >This work</text>
<path d="M1666.5,1790 L1984.5,2108 L1666.5,2426 L1348.5,2108 Z" fill="#f8cfb3"/>
<path d="M1666.5,1882 L1749.5,2108 L1666.5,2381 L1450.5,2108 Z" fill="#a3c7ed" fill-opacity="0.6"/>
<path d="M1666.5,1886 L1917.5,2108 L1666.5,2311 L1596.5,2108 Z" fill="#8046bb" fill-opacity="0.3"/>
<path d="M1666.5,1981 L1930.5,2108 L1666.5,2298 L1606.5,2108 Z" fill="#ebac1e" fill-opacity="0.8"/>
<path d="M1666.5,1981 L1751.5,2108 L1666.5,2258 L1501.5,2108 Z" fill="#9ac770" fill-opacity="0.85"/>
<path d="M1666.5,2051 L1723.5,2108 L1666.5,2165 L1609.5,2108 Z" fill="none" stroke="#000" stroke-width="3.2"/>
<path d="M1666.5,1998 L1776.5,2108 L1666.5,2218 L1556.5,2108 Z" fill="none" stroke="#000" stroke-width="3.2"/>
<path d="M1666.5,1944 L1830.5,2108 L1666.5,2272 L1502.5,2108 Z" fill="none" stroke="#000" stroke-width="3.2"/>
<path d="M1666.5,1892 L1882.5,2108 L1666.5,2324 L1450.5,2108 Z" fill="none" stroke="#000" stroke-width="3.2"/>
<path d="M1666.5,1840 L1934.5,2108 L1666.5,2376 L1398.5,2108 Z" fill="none" stroke="#000" stroke-width="3.2"/>
<path d="M1666.5,1788 L1986.5,2108 L1666.5,2428 L1346.5,2108 Z" fill="none" stroke="#000" stroke-width="3.2"/>
<text x="1668.5" y="2035" font-size="34" text-anchor="middle" fill="#000" >1</text>
<text x="1668.5" y="1981" font-size="34" text-anchor="middle" fill="#000" >5</text>
<text x="1668.5" y="1929" font-size="34" text-anchor="middle" fill="#000" >10</text>
<text x="1668.5" y="1877" font-size="34" text-anchor="middle" fill="#000" >15</text>
<text x="1668.5" y="1825" font-size="34" text-anchor="middle" fill="#000" >20</text>
<text x="1668.5" y="2202" font-size="34" text-anchor="middle" fill="#000" >10</text>
<text x="1668.5" y="2256" font-size="34" text-anchor="middle" fill="#000" >15</text>
<text x="1668.5" y="2308" font-size="34" text-anchor="middle" fill="#000" >45</text>
<text x="1668.5" y="2360" font-size="34" text-anchor="middle" fill="#000" >75</text>
<text x="1668.5" y="2412" font-size="34" text-anchor="middle" fill="#000" >105</text>
<text x="0" y="0" font-size="34" text-anchor="middle" transform="translate(1738.5,2108) rotate(90)">4</text>
<text x="0" y="0" font-size="34" text-anchor="middle" transform="translate(1792.5,2108) rotate(90)">6</text>
<text x="0" y="0" font-size="34" text-anchor="middle" transform="translate(1844.5,2108) rotate(90)">8</text>
<text x="0" y="0" font-size="34" text-anchor="middle" transform="translate(1896.5,2108) rotate(90)">10</text>
<text x="0" y="0" font-size="34" text-anchor="middle" transform="translate(1948.5,2108) rotate(90)">12</text>
<text x="0" y="0" font-size="34" text-anchor="middle" transform="translate(1603.5,2108) rotate(-90)">&lt;30</text>
<text x="0" y="0" font-size="34" text-anchor="middle" transform="translate(1549.5,2108) rotate(-90)">30</text>
<text x="0" y="0" font-size="34" text-anchor="middle" transform="translate(1497.5,2108) rotate(-90)">200</text>
<text x="0" y="0" font-size="34" text-anchor="middle" transform="translate(1445.5,2108) rotate(-90)">300</text>
<text x="0" y="0" font-size="34" text-anchor="middle" transform="translate(1393.5,2108) rotate(-90)">1000</text>
<text x="1691" y="1775.5" font-size="40" text-anchor="middle" fill="#000" textLength="234.7" lengthAdjust="spacingAndGlyphs" >Stress (MPa)</text>
<text x="1686" y="2470" font-size="40" text-anchor="middle" fill="#000" textLength="387.5" lengthAdjust="spacingAndGlyphs" >Warning duration (s)</text>
<text x="0" y="0" font-size="40" text-anchor="middle" textLength="267.7" lengthAdjust="spacingAndGlyphs" transform="translate(1333,2135) rotate(-90)">Bending cycles</text>
<text x="0" y="0" font-size="40" text-anchor="middle" textLength="276.6" lengthAdjust="spacingAndGlyphs" transform="translate(2006,2143.7) rotate(90)">Warning cycles</text>
</svg>
</body></html>
